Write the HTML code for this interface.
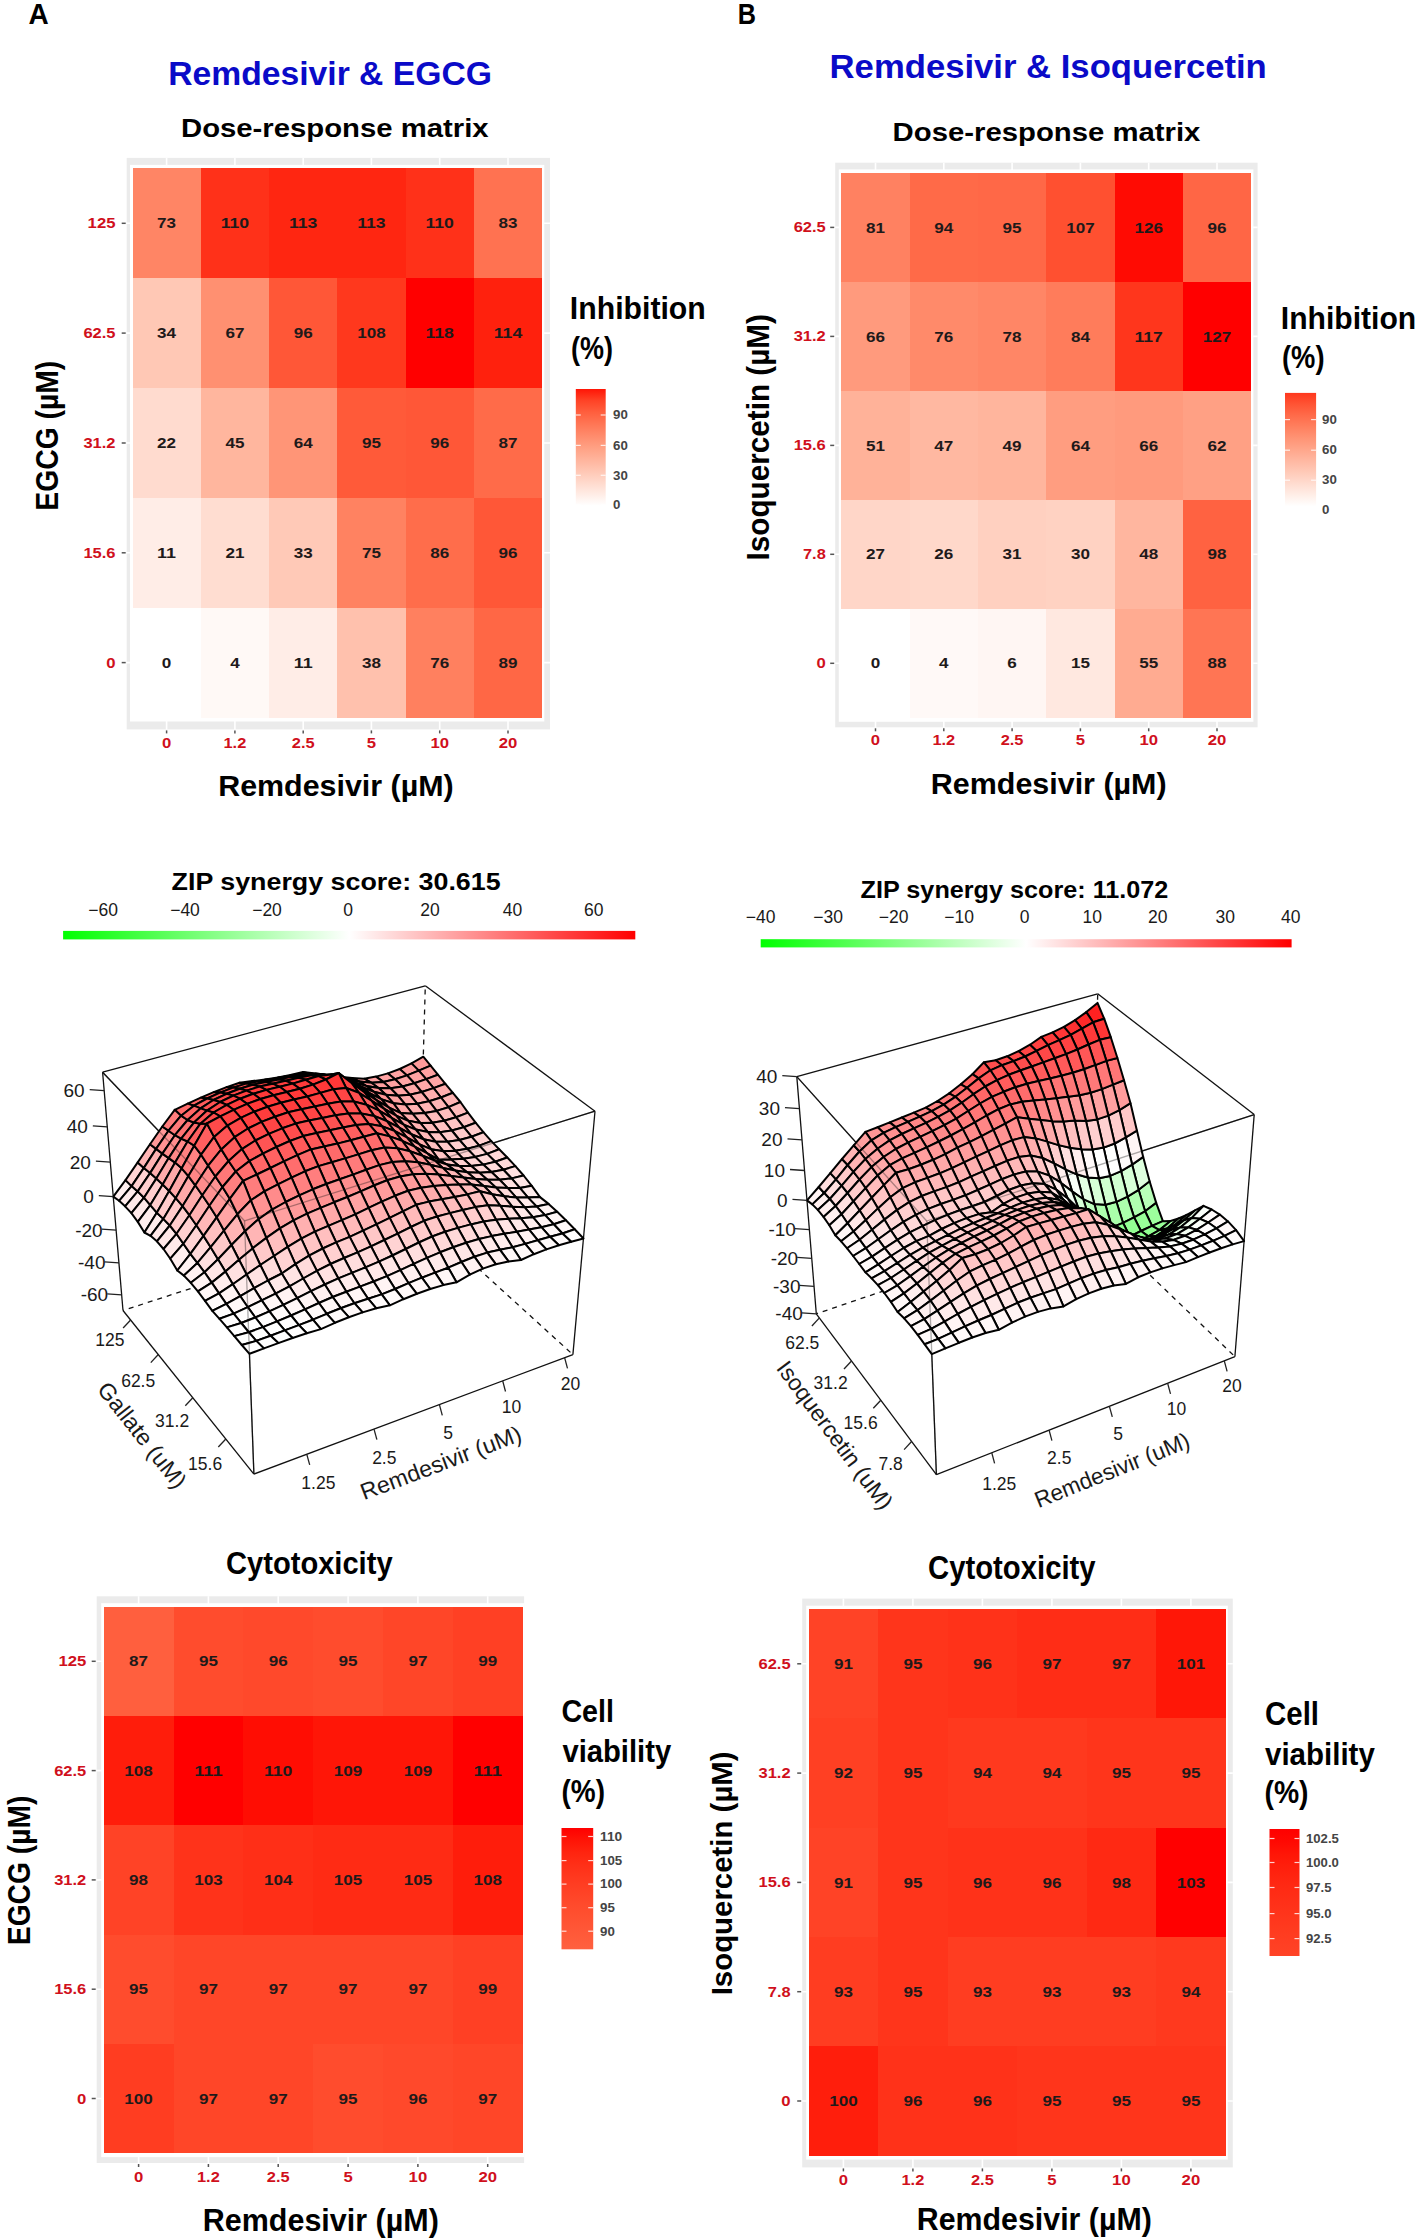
<!DOCTYPE html>
<html><head><meta charset="utf-8"><style>
html,body{margin:0;padding:0;background:#fff;overflow:hidden;width:1417px;height:2240px;}
svg{display:block;font-family:"Liberation Sans",sans-serif;}
</style></head><body>
<svg width="1417" height="2240" viewBox="0 0 1417 2240">
<rect width="1417" height="2240" fill="#fff"/>
<text x="28.4" y="24.1" font-size="30.23" font-weight="bold" fill="#000" textLength="20.2" lengthAdjust="spacingAndGlyphs" >A</text>
<text x="168.2" y="84.5" font-size="33.14" font-weight="bold" fill="#0a0ac8" textLength="323.8" lengthAdjust="spacingAndGlyphs" >Remdesivir &amp; EGCG</text>
<text x="181.0" y="136.8" font-size="25.87" font-weight="bold" fill="#000" textLength="307.6" lengthAdjust="spacingAndGlyphs" >Dose-response matrix</text>
<rect x="126.7" y="157.9" width="423.3" height="571.5" fill="#ebebeb"/>
<rect x="130.0" y="164.9" width="414.3" height="556.6" fill="#fff"/>
<line x1="166.6" y1="157.9" x2="166.6" y2="729.4" stroke="#fff" stroke-width="1.6"/>
<line x1="234.9" y1="157.9" x2="234.9" y2="729.4" stroke="#fff" stroke-width="1.6"/>
<line x1="303.2" y1="157.9" x2="303.2" y2="729.4" stroke="#fff" stroke-width="1.6"/>
<line x1="371.4" y1="157.9" x2="371.4" y2="729.4" stroke="#fff" stroke-width="1.6"/>
<line x1="439.7" y1="157.9" x2="439.7" y2="729.4" stroke="#fff" stroke-width="1.6"/>
<line x1="508.0" y1="157.9" x2="508.0" y2="729.4" stroke="#fff" stroke-width="1.6"/>
<line x1="126.7" y1="223.3" x2="550" y2="223.3" stroke="#fff" stroke-width="1.6"/>
<line x1="126.7" y1="333.1" x2="550" y2="333.1" stroke="#fff" stroke-width="1.6"/>
<line x1="126.7" y1="443.0" x2="550" y2="443.0" stroke="#fff" stroke-width="1.6"/>
<line x1="126.7" y1="552.8" x2="550" y2="552.8" stroke="#fff" stroke-width="1.6"/>
<line x1="126.7" y1="662.6" x2="550" y2="662.6" stroke="#fff" stroke-width="1.6"/>
<rect x="132.50" y="168.40" width="69.07" height="110.62" fill="#ff8565" shape-rendering="crispEdges"/>
<rect x="200.77" y="168.40" width="69.07" height="110.62" fill="#ff3119" shape-rendering="crispEdges"/>
<rect x="269.03" y="168.40" width="69.07" height="110.62" fill="#ff2611" shape-rendering="crispEdges"/>
<rect x="337.30" y="168.40" width="69.07" height="110.62" fill="#ff2611" shape-rendering="crispEdges"/>
<rect x="405.57" y="168.40" width="69.07" height="110.62" fill="#ff3119" shape-rendering="crispEdges"/>
<rect x="473.83" y="168.40" width="68.27" height="110.62" fill="#ff7251" shape-rendering="crispEdges"/>
<rect x="132.50" y="278.22" width="69.07" height="110.62" fill="#ffc8b5" shape-rendering="crispEdges"/>
<rect x="200.77" y="278.22" width="69.07" height="110.62" fill="#ff9071" shape-rendering="crispEdges"/>
<rect x="269.03" y="278.22" width="69.07" height="110.62" fill="#ff5737" shape-rendering="crispEdges"/>
<rect x="337.30" y="278.22" width="69.07" height="110.62" fill="#ff381d" shape-rendering="crispEdges"/>
<rect x="405.57" y="278.22" width="69.07" height="110.62" fill="#ff0000" shape-rendering="crispEdges"/>
<rect x="473.83" y="278.22" width="68.27" height="110.62" fill="#ff210d" shape-rendering="crispEdges"/>
<rect x="132.50" y="388.04" width="69.07" height="110.62" fill="#ffdbcf" shape-rendering="crispEdges"/>
<rect x="200.77" y="388.04" width="69.07" height="110.62" fill="#ffb69e" shape-rendering="crispEdges"/>
<rect x="269.03" y="388.04" width="69.07" height="110.62" fill="#ff9577" shape-rendering="crispEdges"/>
<rect x="337.30" y="388.04" width="69.07" height="110.62" fill="#ff5a39" shape-rendering="crispEdges"/>
<rect x="405.57" y="388.04" width="69.07" height="110.62" fill="#ff5737" shape-rendering="crispEdges"/>
<rect x="473.83" y="388.04" width="68.27" height="110.62" fill="#ff6b49" shape-rendering="crispEdges"/>
<rect x="132.50" y="497.86" width="69.07" height="110.62" fill="#ffede7" shape-rendering="crispEdges"/>
<rect x="200.77" y="497.86" width="69.07" height="110.62" fill="#ffddd1" shape-rendering="crispEdges"/>
<rect x="269.03" y="497.86" width="69.07" height="110.62" fill="#ffc9b7" shape-rendering="crispEdges"/>
<rect x="337.30" y="497.86" width="69.07" height="110.62" fill="#ff8261" shape-rendering="crispEdges"/>
<rect x="405.57" y="497.86" width="69.07" height="110.62" fill="#ff6d4b" shape-rendering="crispEdges"/>
<rect x="473.83" y="497.86" width="68.27" height="110.62" fill="#ff5737" shape-rendering="crispEdges"/>
<rect x="132.50" y="607.68" width="69.07" height="109.82" fill="#ffffff" shape-rendering="crispEdges"/>
<rect x="200.77" y="607.68" width="69.07" height="109.82" fill="#fff9f6" shape-rendering="crispEdges"/>
<rect x="269.03" y="607.68" width="69.07" height="109.82" fill="#ffede7" shape-rendering="crispEdges"/>
<rect x="337.30" y="607.68" width="69.07" height="109.82" fill="#ffc1ad" shape-rendering="crispEdges"/>
<rect x="405.57" y="607.68" width="69.07" height="109.82" fill="#ff805f" shape-rendering="crispEdges"/>
<rect x="473.83" y="607.68" width="68.27" height="109.82" fill="#ff6745" shape-rendering="crispEdges"/>
<text x="166.6" y="228.4" font-size="14.83" font-weight="bold" fill="#1e1a1a" text-anchor="middle" textLength="19.0" lengthAdjust="spacingAndGlyphs">73</text>
<text x="234.9" y="228.4" font-size="14.83" font-weight="bold" fill="#1e1a1a" text-anchor="middle" textLength="28.5" lengthAdjust="spacingAndGlyphs">110</text>
<text x="303.2" y="228.4" font-size="14.83" font-weight="bold" fill="#1e1a1a" text-anchor="middle" textLength="28.5" lengthAdjust="spacingAndGlyphs">113</text>
<text x="371.4" y="228.4" font-size="14.83" font-weight="bold" fill="#1e1a1a" text-anchor="middle" textLength="28.5" lengthAdjust="spacingAndGlyphs">113</text>
<text x="439.7" y="228.4" font-size="14.83" font-weight="bold" fill="#1e1a1a" text-anchor="middle" textLength="28.5" lengthAdjust="spacingAndGlyphs">110</text>
<text x="508.0" y="228.4" font-size="14.83" font-weight="bold" fill="#1e1a1a" text-anchor="middle" textLength="19.0" lengthAdjust="spacingAndGlyphs">83</text>
<text x="166.6" y="338.2" font-size="14.83" font-weight="bold" fill="#1e1a1a" text-anchor="middle" textLength="19.0" lengthAdjust="spacingAndGlyphs">34</text>
<text x="234.9" y="338.2" font-size="14.83" font-weight="bold" fill="#1e1a1a" text-anchor="middle" textLength="19.0" lengthAdjust="spacingAndGlyphs">67</text>
<text x="303.2" y="338.2" font-size="14.83" font-weight="bold" fill="#1e1a1a" text-anchor="middle" textLength="19.0" lengthAdjust="spacingAndGlyphs">96</text>
<text x="371.4" y="338.2" font-size="14.83" font-weight="bold" fill="#1e1a1a" text-anchor="middle" textLength="28.5" lengthAdjust="spacingAndGlyphs">108</text>
<text x="439.7" y="338.2" font-size="14.83" font-weight="bold" fill="#1e1a1a" text-anchor="middle" textLength="28.5" lengthAdjust="spacingAndGlyphs">118</text>
<text x="508.0" y="338.2" font-size="14.83" font-weight="bold" fill="#1e1a1a" text-anchor="middle" textLength="28.5" lengthAdjust="spacingAndGlyphs">114</text>
<text x="166.6" y="448.1" font-size="14.83" font-weight="bold" fill="#1e1a1a" text-anchor="middle" textLength="19.0" lengthAdjust="spacingAndGlyphs">22</text>
<text x="234.9" y="448.1" font-size="14.83" font-weight="bold" fill="#1e1a1a" text-anchor="middle" textLength="19.0" lengthAdjust="spacingAndGlyphs">45</text>
<text x="303.2" y="448.1" font-size="14.83" font-weight="bold" fill="#1e1a1a" text-anchor="middle" textLength="19.0" lengthAdjust="spacingAndGlyphs">64</text>
<text x="371.4" y="448.1" font-size="14.83" font-weight="bold" fill="#1e1a1a" text-anchor="middle" textLength="19.0" lengthAdjust="spacingAndGlyphs">95</text>
<text x="439.7" y="448.1" font-size="14.83" font-weight="bold" fill="#1e1a1a" text-anchor="middle" textLength="19.0" lengthAdjust="spacingAndGlyphs">96</text>
<text x="508.0" y="448.1" font-size="14.83" font-weight="bold" fill="#1e1a1a" text-anchor="middle" textLength="19.0" lengthAdjust="spacingAndGlyphs">87</text>
<text x="166.6" y="557.9" font-size="14.83" font-weight="bold" fill="#1e1a1a" text-anchor="middle" textLength="19.0" lengthAdjust="spacingAndGlyphs">11</text>
<text x="234.9" y="557.9" font-size="14.83" font-weight="bold" fill="#1e1a1a" text-anchor="middle" textLength="19.0" lengthAdjust="spacingAndGlyphs">21</text>
<text x="303.2" y="557.9" font-size="14.83" font-weight="bold" fill="#1e1a1a" text-anchor="middle" textLength="19.0" lengthAdjust="spacingAndGlyphs">33</text>
<text x="371.4" y="557.9" font-size="14.83" font-weight="bold" fill="#1e1a1a" text-anchor="middle" textLength="19.0" lengthAdjust="spacingAndGlyphs">75</text>
<text x="439.7" y="557.9" font-size="14.83" font-weight="bold" fill="#1e1a1a" text-anchor="middle" textLength="19.0" lengthAdjust="spacingAndGlyphs">86</text>
<text x="508.0" y="557.9" font-size="14.83" font-weight="bold" fill="#1e1a1a" text-anchor="middle" textLength="19.0" lengthAdjust="spacingAndGlyphs">96</text>
<text x="166.6" y="667.7" font-size="14.83" font-weight="bold" fill="#1e1a1a" text-anchor="middle" textLength="9.5" lengthAdjust="spacingAndGlyphs">0</text>
<text x="234.9" y="667.7" font-size="14.83" font-weight="bold" fill="#1e1a1a" text-anchor="middle" textLength="9.5" lengthAdjust="spacingAndGlyphs">4</text>
<text x="303.2" y="667.7" font-size="14.83" font-weight="bold" fill="#1e1a1a" text-anchor="middle" textLength="19.0" lengthAdjust="spacingAndGlyphs">11</text>
<text x="371.4" y="667.7" font-size="14.83" font-weight="bold" fill="#1e1a1a" text-anchor="middle" textLength="19.0" lengthAdjust="spacingAndGlyphs">38</text>
<text x="439.7" y="667.7" font-size="14.83" font-weight="bold" fill="#1e1a1a" text-anchor="middle" textLength="19.0" lengthAdjust="spacingAndGlyphs">76</text>
<text x="508.0" y="667.7" font-size="14.83" font-weight="bold" fill="#1e1a1a" text-anchor="middle" textLength="19.0" lengthAdjust="spacingAndGlyphs">89</text>
<text x="115.5" y="228.3" font-size="14.54" font-weight="bold" fill="#d0101c" text-anchor="end" textLength="27.9" lengthAdjust="spacingAndGlyphs">125</text>
<line x1="121.7" y1="223.3" x2="125.7" y2="223.3" stroke="#555" stroke-width="1.5"/>
<text x="115.5" y="338.1" font-size="14.54" font-weight="bold" fill="#d0101c" text-anchor="end" textLength="32.1" lengthAdjust="spacingAndGlyphs">62.5</text>
<line x1="121.7" y1="333.1" x2="125.7" y2="333.1" stroke="#555" stroke-width="1.5"/>
<text x="115.5" y="448.0" font-size="14.54" font-weight="bold" fill="#d0101c" text-anchor="end" textLength="32.1" lengthAdjust="spacingAndGlyphs">31.2</text>
<line x1="121.7" y1="443.0" x2="125.7" y2="443.0" stroke="#555" stroke-width="1.5"/>
<text x="115.5" y="557.8" font-size="14.54" font-weight="bold" fill="#d0101c" text-anchor="end" textLength="32.1" lengthAdjust="spacingAndGlyphs">15.6</text>
<line x1="121.7" y1="552.8" x2="125.7" y2="552.8" stroke="#555" stroke-width="1.5"/>
<text x="115.5" y="667.6" font-size="14.54" font-weight="bold" fill="#d0101c" text-anchor="end" textLength="9.3" lengthAdjust="spacingAndGlyphs">0</text>
<line x1="121.7" y1="662.6" x2="125.7" y2="662.6" stroke="#555" stroke-width="1.5"/>
<text x="166.6" y="747.8" font-size="14.54" font-weight="bold" fill="#d0101c" text-anchor="middle" textLength="9.3" lengthAdjust="spacingAndGlyphs">0</text>
<line x1="166.6" y1="730.4" x2="166.6" y2="733.4" stroke="#555" stroke-width="1.5"/>
<text x="234.9" y="747.8" font-size="14.54" font-weight="bold" fill="#d0101c" text-anchor="middle" textLength="22.8" lengthAdjust="spacingAndGlyphs">1.2</text>
<line x1="234.9" y1="730.4" x2="234.9" y2="733.4" stroke="#555" stroke-width="1.5"/>
<text x="303.2" y="747.8" font-size="14.54" font-weight="bold" fill="#d0101c" text-anchor="middle" textLength="22.8" lengthAdjust="spacingAndGlyphs">2.5</text>
<line x1="303.2" y1="730.4" x2="303.2" y2="733.4" stroke="#555" stroke-width="1.5"/>
<text x="371.4" y="747.8" font-size="14.54" font-weight="bold" fill="#d0101c" text-anchor="middle" textLength="9.3" lengthAdjust="spacingAndGlyphs">5</text>
<line x1="371.4" y1="730.4" x2="371.4" y2="733.4" stroke="#555" stroke-width="1.5"/>
<text x="439.7" y="747.8" font-size="14.54" font-weight="bold" fill="#d0101c" text-anchor="middle" textLength="18.6" lengthAdjust="spacingAndGlyphs">10</text>
<line x1="439.7" y1="730.4" x2="439.7" y2="733.4" stroke="#555" stroke-width="1.5"/>
<text x="508.0" y="747.8" font-size="14.54" font-weight="bold" fill="#d0101c" text-anchor="middle" textLength="18.6" lengthAdjust="spacingAndGlyphs">20</text>
<line x1="508.0" y1="730.4" x2="508.0" y2="733.4" stroke="#555" stroke-width="1.5"/>
<text x="218.2" y="795.6" font-size="29.94" font-weight="bold" fill="#000" textLength="235.4" lengthAdjust="spacingAndGlyphs" >Remdesivir (µM)</text>
<text x="0" y="0" font-size="31.98" font-weight="bold" fill="#000" textLength="150.0" lengthAdjust="spacingAndGlyphs" transform="translate(57.5,510.7) rotate(-90)">EGCG (µM)</text>
<text x="569.8" y="319.0" font-size="31.98" font-weight="bold" fill="#000" textLength="136.0" lengthAdjust="spacingAndGlyphs" >Inhibition</text>
<text x="571.0" y="358.5" font-size="31.98" font-weight="bold" fill="#000" textLength="42.0" lengthAdjust="spacingAndGlyphs" >(%)</text>
<defs><linearGradient id="g102" x1="0" y1="0" x2="0" y2="1"><stop offset="0.00" stop-color="#ff1506"/><stop offset="0.10" stop-color="#ff4326"/><stop offset="0.20" stop-color="#ff5f3e"/><stop offset="0.30" stop-color="#ff7655"/><stop offset="0.40" stop-color="#ff8b6c"/><stop offset="0.50" stop-color="#ffa083"/><stop offset="0.60" stop-color="#ffb39b"/><stop offset="0.70" stop-color="#ffc6b3"/><stop offset="0.80" stop-color="#ffd9cc"/><stop offset="0.90" stop-color="#ffece5"/><stop offset="1.00" stop-color="#ffffff"/></linearGradient></defs>
<rect x="575.8" y="389" width="29.9" height="116.8" fill="url(#g102)"/>
<line x1="575.8" y1="415.0" x2="580.8" y2="415.0" stroke="#fff" stroke-width="1.2" opacity="0.8"/>
<line x1="600.7" y1="415.0" x2="605.7" y2="415.0" stroke="#fff" stroke-width="1.2" opacity="0.8"/>
<text x="613.0" y="419.2" font-size="12.35" font-weight="bold" fill="#444" textLength="14.8" lengthAdjust="spacingAndGlyphs">90</text>
<line x1="575.8" y1="445.4" x2="580.8" y2="445.4" stroke="#fff" stroke-width="1.2" opacity="0.8"/>
<line x1="600.7" y1="445.4" x2="605.7" y2="445.4" stroke="#fff" stroke-width="1.2" opacity="0.8"/>
<text x="613.0" y="449.6" font-size="12.35" font-weight="bold" fill="#444" textLength="14.8" lengthAdjust="spacingAndGlyphs">60</text>
<line x1="575.8" y1="475.3" x2="580.8" y2="475.3" stroke="#fff" stroke-width="1.2" opacity="0.8"/>
<line x1="600.7" y1="475.3" x2="605.7" y2="475.3" stroke="#fff" stroke-width="1.2" opacity="0.8"/>
<text x="613.0" y="479.6" font-size="12.35" font-weight="bold" fill="#444" textLength="14.8" lengthAdjust="spacingAndGlyphs">30</text>
<line x1="575.8" y1="504.7" x2="580.8" y2="504.7" stroke="#fff" stroke-width="1.2" opacity="0.8"/>
<line x1="600.7" y1="504.7" x2="605.7" y2="504.7" stroke="#fff" stroke-width="1.2" opacity="0.8"/>
<text x="613.0" y="508.9" font-size="12.35" font-weight="bold" fill="#444" textLength="7.4" lengthAdjust="spacingAndGlyphs">0</text>
<text x="226.0" y="1574.0" font-size="31.25" font-weight="bold" fill="#000" textLength="166.6" lengthAdjust="spacingAndGlyphs" >Cytotoxicity</text>
<rect x="96.7" y="1596.3" width="427.4" height="566.7" fill="#ebebeb"/>
<rect x="101.2" y="1603.2" width="422.9" height="553.9" fill="#fff"/>
<line x1="138.6" y1="1596.3" x2="138.6" y2="2163" stroke="#fff" stroke-width="1.6"/>
<line x1="208.4" y1="1596.3" x2="208.4" y2="2163" stroke="#fff" stroke-width="1.6"/>
<line x1="278.2" y1="1596.3" x2="278.2" y2="2163" stroke="#fff" stroke-width="1.6"/>
<line x1="348.1" y1="1596.3" x2="348.1" y2="2163" stroke="#fff" stroke-width="1.6"/>
<line x1="417.9" y1="1596.3" x2="417.9" y2="2163" stroke="#fff" stroke-width="1.6"/>
<line x1="487.7" y1="1596.3" x2="487.7" y2="2163" stroke="#fff" stroke-width="1.6"/>
<line x1="96.7" y1="1661.3" x2="524.1" y2="1661.3" stroke="#fff" stroke-width="1.6"/>
<line x1="96.7" y1="1770.6" x2="524.1" y2="1770.6" stroke="#fff" stroke-width="1.6"/>
<line x1="96.7" y1="1879.9" x2="524.1" y2="1879.9" stroke="#fff" stroke-width="1.6"/>
<line x1="96.7" y1="1989.2" x2="524.1" y2="1989.2" stroke="#fff" stroke-width="1.6"/>
<line x1="96.7" y1="2098.5" x2="524.1" y2="2098.5" stroke="#fff" stroke-width="1.6"/>
<rect x="103.70" y="1606.70" width="70.62" height="110.08" fill="#ff5f3e" shape-rendering="crispEdges"/>
<rect x="173.52" y="1606.70" width="70.62" height="110.08" fill="#ff4c2d" shape-rendering="crispEdges"/>
<rect x="243.33" y="1606.70" width="70.62" height="110.08" fill="#ff492b" shape-rendering="crispEdges"/>
<rect x="313.15" y="1606.70" width="70.62" height="110.08" fill="#ff4c2d" shape-rendering="crispEdges"/>
<rect x="382.97" y="1606.70" width="70.62" height="110.08" fill="#ff4628" shape-rendering="crispEdges"/>
<rect x="452.78" y="1606.70" width="69.82" height="110.08" fill="#ff4024" shape-rendering="crispEdges"/>
<rect x="103.70" y="1715.98" width="70.62" height="110.08" fill="#ff1d0b" shape-rendering="crispEdges"/>
<rect x="173.52" y="1715.98" width="70.62" height="110.08" fill="#ff0000" shape-rendering="crispEdges"/>
<rect x="243.33" y="1715.98" width="70.62" height="110.08" fill="#ff0d03" shape-rendering="crispEdges"/>
<rect x="313.15" y="1715.98" width="70.62" height="110.08" fill="#ff1607" shape-rendering="crispEdges"/>
<rect x="382.97" y="1715.98" width="70.62" height="110.08" fill="#ff1607" shape-rendering="crispEdges"/>
<rect x="452.78" y="1715.98" width="69.82" height="110.08" fill="#ff0000" shape-rendering="crispEdges"/>
<rect x="103.70" y="1825.26" width="70.62" height="110.08" fill="#ff4326" shape-rendering="crispEdges"/>
<rect x="173.52" y="1825.26" width="70.62" height="110.08" fill="#ff331a" shape-rendering="crispEdges"/>
<rect x="243.33" y="1825.26" width="70.62" height="110.08" fill="#ff2f17" shape-rendering="crispEdges"/>
<rect x="313.15" y="1825.26" width="70.62" height="110.08" fill="#ff2b14" shape-rendering="crispEdges"/>
<rect x="382.97" y="1825.26" width="70.62" height="110.08" fill="#ff2b14" shape-rendering="crispEdges"/>
<rect x="452.78" y="1825.26" width="69.82" height="110.08" fill="#ff1d0b" shape-rendering="crispEdges"/>
<rect x="103.70" y="1934.54" width="70.62" height="110.08" fill="#ff4c2d" shape-rendering="crispEdges"/>
<rect x="173.52" y="1934.54" width="70.62" height="110.08" fill="#ff4628" shape-rendering="crispEdges"/>
<rect x="243.33" y="1934.54" width="70.62" height="110.08" fill="#ff4628" shape-rendering="crispEdges"/>
<rect x="313.15" y="1934.54" width="70.62" height="110.08" fill="#ff4628" shape-rendering="crispEdges"/>
<rect x="382.97" y="1934.54" width="70.62" height="110.08" fill="#ff4628" shape-rendering="crispEdges"/>
<rect x="452.78" y="1934.54" width="69.82" height="110.08" fill="#ff4024" shape-rendering="crispEdges"/>
<rect x="103.70" y="2043.82" width="70.62" height="109.28" fill="#ff3d21" shape-rendering="crispEdges"/>
<rect x="173.52" y="2043.82" width="70.62" height="109.28" fill="#ff4628" shape-rendering="crispEdges"/>
<rect x="243.33" y="2043.82" width="70.62" height="109.28" fill="#ff4628" shape-rendering="crispEdges"/>
<rect x="313.15" y="2043.82" width="70.62" height="109.28" fill="#ff4c2d" shape-rendering="crispEdges"/>
<rect x="382.97" y="2043.82" width="70.62" height="109.28" fill="#ff492b" shape-rendering="crispEdges"/>
<rect x="452.78" y="2043.82" width="69.82" height="109.28" fill="#ff4628" shape-rendering="crispEdges"/>
<text x="138.6" y="1666.4" font-size="14.83" font-weight="bold" fill="#1e1a1a" text-anchor="middle" textLength="19.0" lengthAdjust="spacingAndGlyphs">87</text>
<text x="208.4" y="1666.4" font-size="14.83" font-weight="bold" fill="#1e1a1a" text-anchor="middle" textLength="19.0" lengthAdjust="spacingAndGlyphs">95</text>
<text x="278.2" y="1666.4" font-size="14.83" font-weight="bold" fill="#1e1a1a" text-anchor="middle" textLength="19.0" lengthAdjust="spacingAndGlyphs">96</text>
<text x="348.1" y="1666.4" font-size="14.83" font-weight="bold" fill="#1e1a1a" text-anchor="middle" textLength="19.0" lengthAdjust="spacingAndGlyphs">95</text>
<text x="417.9" y="1666.4" font-size="14.83" font-weight="bold" fill="#1e1a1a" text-anchor="middle" textLength="19.0" lengthAdjust="spacingAndGlyphs">97</text>
<text x="487.7" y="1666.4" font-size="14.83" font-weight="bold" fill="#1e1a1a" text-anchor="middle" textLength="19.0" lengthAdjust="spacingAndGlyphs">99</text>
<text x="138.6" y="1775.7" font-size="14.83" font-weight="bold" fill="#1e1a1a" text-anchor="middle" textLength="28.5" lengthAdjust="spacingAndGlyphs">108</text>
<text x="208.4" y="1775.7" font-size="14.83" font-weight="bold" fill="#1e1a1a" text-anchor="middle" textLength="28.5" lengthAdjust="spacingAndGlyphs">111</text>
<text x="278.2" y="1775.7" font-size="14.83" font-weight="bold" fill="#1e1a1a" text-anchor="middle" textLength="28.5" lengthAdjust="spacingAndGlyphs">110</text>
<text x="348.1" y="1775.7" font-size="14.83" font-weight="bold" fill="#1e1a1a" text-anchor="middle" textLength="28.5" lengthAdjust="spacingAndGlyphs">109</text>
<text x="417.9" y="1775.7" font-size="14.83" font-weight="bold" fill="#1e1a1a" text-anchor="middle" textLength="28.5" lengthAdjust="spacingAndGlyphs">109</text>
<text x="487.7" y="1775.7" font-size="14.83" font-weight="bold" fill="#1e1a1a" text-anchor="middle" textLength="28.5" lengthAdjust="spacingAndGlyphs">111</text>
<text x="138.6" y="1885.0" font-size="14.83" font-weight="bold" fill="#1e1a1a" text-anchor="middle" textLength="19.0" lengthAdjust="spacingAndGlyphs">98</text>
<text x="208.4" y="1885.0" font-size="14.83" font-weight="bold" fill="#1e1a1a" text-anchor="middle" textLength="28.5" lengthAdjust="spacingAndGlyphs">103</text>
<text x="278.2" y="1885.0" font-size="14.83" font-weight="bold" fill="#1e1a1a" text-anchor="middle" textLength="28.5" lengthAdjust="spacingAndGlyphs">104</text>
<text x="348.1" y="1885.0" font-size="14.83" font-weight="bold" fill="#1e1a1a" text-anchor="middle" textLength="28.5" lengthAdjust="spacingAndGlyphs">105</text>
<text x="417.9" y="1885.0" font-size="14.83" font-weight="bold" fill="#1e1a1a" text-anchor="middle" textLength="28.5" lengthAdjust="spacingAndGlyphs">105</text>
<text x="487.7" y="1885.0" font-size="14.83" font-weight="bold" fill="#1e1a1a" text-anchor="middle" textLength="28.5" lengthAdjust="spacingAndGlyphs">108</text>
<text x="138.6" y="1994.3" font-size="14.83" font-weight="bold" fill="#1e1a1a" text-anchor="middle" textLength="19.0" lengthAdjust="spacingAndGlyphs">95</text>
<text x="208.4" y="1994.3" font-size="14.83" font-weight="bold" fill="#1e1a1a" text-anchor="middle" textLength="19.0" lengthAdjust="spacingAndGlyphs">97</text>
<text x="278.2" y="1994.3" font-size="14.83" font-weight="bold" fill="#1e1a1a" text-anchor="middle" textLength="19.0" lengthAdjust="spacingAndGlyphs">97</text>
<text x="348.1" y="1994.3" font-size="14.83" font-weight="bold" fill="#1e1a1a" text-anchor="middle" textLength="19.0" lengthAdjust="spacingAndGlyphs">97</text>
<text x="417.9" y="1994.3" font-size="14.83" font-weight="bold" fill="#1e1a1a" text-anchor="middle" textLength="19.0" lengthAdjust="spacingAndGlyphs">97</text>
<text x="487.7" y="1994.3" font-size="14.83" font-weight="bold" fill="#1e1a1a" text-anchor="middle" textLength="19.0" lengthAdjust="spacingAndGlyphs">99</text>
<text x="138.6" y="2103.6" font-size="14.83" font-weight="bold" fill="#1e1a1a" text-anchor="middle" textLength="28.5" lengthAdjust="spacingAndGlyphs">100</text>
<text x="208.4" y="2103.6" font-size="14.83" font-weight="bold" fill="#1e1a1a" text-anchor="middle" textLength="19.0" lengthAdjust="spacingAndGlyphs">97</text>
<text x="278.2" y="2103.6" font-size="14.83" font-weight="bold" fill="#1e1a1a" text-anchor="middle" textLength="19.0" lengthAdjust="spacingAndGlyphs">97</text>
<text x="348.1" y="2103.6" font-size="14.83" font-weight="bold" fill="#1e1a1a" text-anchor="middle" textLength="19.0" lengthAdjust="spacingAndGlyphs">95</text>
<text x="417.9" y="2103.6" font-size="14.83" font-weight="bold" fill="#1e1a1a" text-anchor="middle" textLength="19.0" lengthAdjust="spacingAndGlyphs">96</text>
<text x="487.7" y="2103.6" font-size="14.83" font-weight="bold" fill="#1e1a1a" text-anchor="middle" textLength="19.0" lengthAdjust="spacingAndGlyphs">97</text>
<text x="86.3" y="1666.3" font-size="14.54" font-weight="bold" fill="#d0101c" text-anchor="end" textLength="27.9" lengthAdjust="spacingAndGlyphs">125</text>
<line x1="91.7" y1="1661.3" x2="95.7" y2="1661.3" stroke="#555" stroke-width="1.5"/>
<text x="86.3" y="1775.6" font-size="14.54" font-weight="bold" fill="#d0101c" text-anchor="end" textLength="32.1" lengthAdjust="spacingAndGlyphs">62.5</text>
<line x1="91.7" y1="1770.6" x2="95.7" y2="1770.6" stroke="#555" stroke-width="1.5"/>
<text x="86.3" y="1884.9" font-size="14.54" font-weight="bold" fill="#d0101c" text-anchor="end" textLength="32.1" lengthAdjust="spacingAndGlyphs">31.2</text>
<line x1="91.7" y1="1879.9" x2="95.7" y2="1879.9" stroke="#555" stroke-width="1.5"/>
<text x="86.3" y="1994.2" font-size="14.54" font-weight="bold" fill="#d0101c" text-anchor="end" textLength="32.1" lengthAdjust="spacingAndGlyphs">15.6</text>
<line x1="91.7" y1="1989.2" x2="95.7" y2="1989.2" stroke="#555" stroke-width="1.5"/>
<text x="86.3" y="2103.5" font-size="14.54" font-weight="bold" fill="#d0101c" text-anchor="end" textLength="9.3" lengthAdjust="spacingAndGlyphs">0</text>
<line x1="91.7" y1="2098.5" x2="95.7" y2="2098.5" stroke="#555" stroke-width="1.5"/>
<text x="138.6" y="2181.7" font-size="14.54" font-weight="bold" fill="#d0101c" text-anchor="middle" textLength="9.3" lengthAdjust="spacingAndGlyphs">0</text>
<line x1="138.6" y1="2164.0" x2="138.6" y2="2167.0" stroke="#555" stroke-width="1.5"/>
<text x="208.4" y="2181.7" font-size="14.54" font-weight="bold" fill="#d0101c" text-anchor="middle" textLength="22.8" lengthAdjust="spacingAndGlyphs">1.2</text>
<line x1="208.4" y1="2164.0" x2="208.4" y2="2167.0" stroke="#555" stroke-width="1.5"/>
<text x="278.2" y="2181.7" font-size="14.54" font-weight="bold" fill="#d0101c" text-anchor="middle" textLength="22.8" lengthAdjust="spacingAndGlyphs">2.5</text>
<line x1="278.2" y1="2164.0" x2="278.2" y2="2167.0" stroke="#555" stroke-width="1.5"/>
<text x="348.1" y="2181.7" font-size="14.54" font-weight="bold" fill="#d0101c" text-anchor="middle" textLength="9.3" lengthAdjust="spacingAndGlyphs">5</text>
<line x1="348.1" y1="2164.0" x2="348.1" y2="2167.0" stroke="#555" stroke-width="1.5"/>
<text x="417.9" y="2181.7" font-size="14.54" font-weight="bold" fill="#d0101c" text-anchor="middle" textLength="18.6" lengthAdjust="spacingAndGlyphs">10</text>
<line x1="417.9" y1="2164.0" x2="417.9" y2="2167.0" stroke="#555" stroke-width="1.5"/>
<text x="487.7" y="2181.7" font-size="14.54" font-weight="bold" fill="#d0101c" text-anchor="middle" textLength="18.6" lengthAdjust="spacingAndGlyphs">20</text>
<line x1="487.7" y1="2164.0" x2="487.7" y2="2167.0" stroke="#555" stroke-width="1.5"/>
<text x="202.8" y="2230.8" font-size="30.67" font-weight="bold" fill="#000" textLength="236.0" lengthAdjust="spacingAndGlyphs" >Remdesivir (µM)</text>
<text x="0" y="0" font-size="31.25" font-weight="bold" fill="#000" textLength="149.6" lengthAdjust="spacingAndGlyphs" transform="translate(29.5,1945.2) rotate(-90)">EGCG (µM)</text>
<text x="561.4" y="1722.0" font-size="31.69" font-weight="bold" fill="#000" textLength="52.6" lengthAdjust="spacingAndGlyphs" >Cell</text>
<text x="562.4" y="1761.7" font-size="30.67" font-weight="bold" fill="#000" textLength="108.8" lengthAdjust="spacingAndGlyphs" >viability</text>
<text x="561.5" y="1801.5" font-size="31.25" font-weight="bold" fill="#000" textLength="43.5" lengthAdjust="spacingAndGlyphs" >(%)</text>
<defs><linearGradient id="g217" x1="0" y1="0" x2="0" y2="1"><stop offset="0.00" stop-color="#ff0000"/><stop offset="0.10" stop-color="#ff1406"/><stop offset="0.20" stop-color="#ff240f"/><stop offset="0.30" stop-color="#ff2f17"/><stop offset="0.40" stop-color="#ff381e"/><stop offset="0.50" stop-color="#ff4024"/><stop offset="0.60" stop-color="#ff482a"/><stop offset="0.70" stop-color="#ff4f2f"/><stop offset="0.80" stop-color="#ff5535"/><stop offset="0.90" stop-color="#ff5b3a"/><stop offset="1.00" stop-color="#ff6140"/></linearGradient></defs>
<rect x="561.5" y="1828" width="31.7" height="121.3" fill="url(#g217)"/>
<line x1="561.5" y1="1836.5" x2="566.5" y2="1836.5" stroke="#fff" stroke-width="1.2" opacity="0.8"/>
<line x1="588.2" y1="1836.5" x2="593.2" y2="1836.5" stroke="#fff" stroke-width="1.2" opacity="0.8"/>
<text x="600.0" y="1840.8" font-size="12.35" font-weight="bold" fill="#444" textLength="22.2" lengthAdjust="spacingAndGlyphs">110</text>
<line x1="561.5" y1="1860.6" x2="566.5" y2="1860.6" stroke="#fff" stroke-width="1.2" opacity="0.8"/>
<line x1="588.2" y1="1860.6" x2="593.2" y2="1860.6" stroke="#fff" stroke-width="1.2" opacity="0.8"/>
<text x="600.0" y="1864.8" font-size="12.35" font-weight="bold" fill="#444" textLength="22.2" lengthAdjust="spacingAndGlyphs">105</text>
<line x1="561.5" y1="1884.1" x2="566.5" y2="1884.1" stroke="#fff" stroke-width="1.2" opacity="0.8"/>
<line x1="588.2" y1="1884.1" x2="593.2" y2="1884.1" stroke="#fff" stroke-width="1.2" opacity="0.8"/>
<text x="600.0" y="1888.3" font-size="12.35" font-weight="bold" fill="#444" textLength="22.2" lengthAdjust="spacingAndGlyphs">100</text>
<line x1="561.5" y1="1907.7" x2="566.5" y2="1907.7" stroke="#fff" stroke-width="1.2" opacity="0.8"/>
<line x1="588.2" y1="1907.7" x2="593.2" y2="1907.7" stroke="#fff" stroke-width="1.2" opacity="0.8"/>
<text x="600.0" y="1912.0" font-size="12.35" font-weight="bold" fill="#444" textLength="14.8" lengthAdjust="spacingAndGlyphs">95</text>
<line x1="561.5" y1="1931.2" x2="566.5" y2="1931.2" stroke="#fff" stroke-width="1.2" opacity="0.8"/>
<line x1="588.2" y1="1931.2" x2="593.2" y2="1931.2" stroke="#fff" stroke-width="1.2" opacity="0.8"/>
<text x="600.0" y="1935.5" font-size="12.35" font-weight="bold" fill="#444" textLength="14.8" lengthAdjust="spacingAndGlyphs">90</text>
<text x="737.8" y="24.1" font-size="30.38" font-weight="bold" fill="#000" textLength="18.2" lengthAdjust="spacingAndGlyphs" >B</text>
<text x="829.6" y="78.3" font-size="32.99" font-weight="bold" fill="#0a0ac8" textLength="437.2" lengthAdjust="spacingAndGlyphs" >Remdesivir &amp; Isoquercetin</text>
<text x="892.6" y="140.6" font-size="25.87" font-weight="bold" fill="#000" textLength="307.8" lengthAdjust="spacingAndGlyphs" >Dose-response matrix</text>
<rect x="835.2" y="162.7" width="422.4" height="564.6" fill="#ebebeb"/>
<rect x="838.8" y="169.4" width="414.6" height="552.4" fill="#fff"/>
<line x1="875.5" y1="162.7" x2="875.5" y2="727.3" stroke="#fff" stroke-width="1.6"/>
<line x1="943.8" y1="162.7" x2="943.8" y2="727.3" stroke="#fff" stroke-width="1.6"/>
<line x1="1012.1" y1="162.7" x2="1012.1" y2="727.3" stroke="#fff" stroke-width="1.6"/>
<line x1="1080.4" y1="162.7" x2="1080.4" y2="727.3" stroke="#fff" stroke-width="1.6"/>
<line x1="1148.7" y1="162.7" x2="1148.7" y2="727.3" stroke="#fff" stroke-width="1.6"/>
<line x1="1217.0" y1="162.7" x2="1217.0" y2="727.3" stroke="#fff" stroke-width="1.6"/>
<line x1="835.2" y1="227.4" x2="1257.6" y2="227.4" stroke="#fff" stroke-width="1.6"/>
<line x1="835.2" y1="336.4" x2="1257.6" y2="336.4" stroke="#fff" stroke-width="1.6"/>
<line x1="835.2" y1="445.4" x2="1257.6" y2="445.4" stroke="#fff" stroke-width="1.6"/>
<line x1="835.2" y1="554.3" x2="1257.6" y2="554.3" stroke="#fff" stroke-width="1.6"/>
<line x1="835.2" y1="663.3" x2="1257.6" y2="663.3" stroke="#fff" stroke-width="1.6"/>
<rect x="841.30" y="172.90" width="69.12" height="109.78" fill="#ff8161" shape-rendering="crispEdges"/>
<rect x="909.62" y="172.90" width="69.12" height="109.78" fill="#ff6a48" shape-rendering="crispEdges"/>
<rect x="977.93" y="172.90" width="69.12" height="109.78" fill="#ff6847" shape-rendering="crispEdges"/>
<rect x="1046.25" y="172.90" width="69.12" height="109.78" fill="#ff5030" shape-rendering="crispEdges"/>
<rect x="1114.57" y="172.90" width="69.12" height="109.78" fill="#ff0b03" shape-rendering="crispEdges"/>
<rect x="1182.88" y="172.90" width="68.32" height="109.78" fill="#ff6645" shape-rendering="crispEdges"/>
<rect x="841.30" y="281.88" width="69.12" height="109.78" fill="#ff9a7d" shape-rendering="crispEdges"/>
<rect x="909.62" y="281.88" width="69.12" height="109.78" fill="#ff8a6a" shape-rendering="crispEdges"/>
<rect x="977.93" y="281.88" width="69.12" height="109.78" fill="#ff8666" shape-rendering="crispEdges"/>
<rect x="1046.25" y="281.88" width="69.12" height="109.78" fill="#ff7c5b" shape-rendering="crispEdges"/>
<rect x="1114.57" y="281.88" width="69.12" height="109.78" fill="#ff361c" shape-rendering="crispEdges"/>
<rect x="1182.88" y="281.88" width="68.32" height="109.78" fill="#ff0000" shape-rendering="crispEdges"/>
<rect x="841.30" y="390.86" width="69.12" height="109.78" fill="#ffb299" shape-rendering="crispEdges"/>
<rect x="909.62" y="390.86" width="69.12" height="109.78" fill="#ffb8a1" shape-rendering="crispEdges"/>
<rect x="977.93" y="390.86" width="69.12" height="109.78" fill="#ffb59d" shape-rendering="crispEdges"/>
<rect x="1046.25" y="390.86" width="69.12" height="109.78" fill="#ff9d80" shape-rendering="crispEdges"/>
<rect x="1114.57" y="390.86" width="69.12" height="109.78" fill="#ff9a7d" shape-rendering="crispEdges"/>
<rect x="1182.88" y="390.86" width="68.32" height="109.78" fill="#ffa084" shape-rendering="crispEdges"/>
<rect x="841.30" y="499.84" width="69.12" height="109.78" fill="#ffd6c8" shape-rendering="crispEdges"/>
<rect x="909.62" y="499.84" width="69.12" height="109.78" fill="#ffd8ca" shape-rendering="crispEdges"/>
<rect x="977.93" y="499.84" width="69.12" height="109.78" fill="#ffd0c0" shape-rendering="crispEdges"/>
<rect x="1046.25" y="499.84" width="69.12" height="109.78" fill="#ffd2c2" shape-rendering="crispEdges"/>
<rect x="1114.57" y="499.84" width="69.12" height="109.78" fill="#ffb69f" shape-rendering="crispEdges"/>
<rect x="1182.88" y="499.84" width="68.32" height="109.78" fill="#ff6241" shape-rendering="crispEdges"/>
<rect x="841.30" y="608.82" width="69.12" height="108.98" fill="#ffffff" shape-rendering="crispEdges"/>
<rect x="909.62" y="608.82" width="69.12" height="108.98" fill="#fff9f7" shape-rendering="crispEdges"/>
<rect x="977.93" y="608.82" width="69.12" height="108.98" fill="#fff6f3" shape-rendering="crispEdges"/>
<rect x="1046.25" y="608.82" width="69.12" height="108.98" fill="#ffe8e0" shape-rendering="crispEdges"/>
<rect x="1114.57" y="608.82" width="69.12" height="108.98" fill="#ffab91" shape-rendering="crispEdges"/>
<rect x="1182.88" y="608.82" width="68.32" height="108.98" fill="#ff7554" shape-rendering="crispEdges"/>
<text x="875.5" y="232.5" font-size="14.83" font-weight="bold" fill="#1e1a1a" text-anchor="middle" textLength="19.0" lengthAdjust="spacingAndGlyphs">81</text>
<text x="943.8" y="232.5" font-size="14.83" font-weight="bold" fill="#1e1a1a" text-anchor="middle" textLength="19.0" lengthAdjust="spacingAndGlyphs">94</text>
<text x="1012.1" y="232.5" font-size="14.83" font-weight="bold" fill="#1e1a1a" text-anchor="middle" textLength="19.0" lengthAdjust="spacingAndGlyphs">95</text>
<text x="1080.4" y="232.5" font-size="14.83" font-weight="bold" fill="#1e1a1a" text-anchor="middle" textLength="28.5" lengthAdjust="spacingAndGlyphs">107</text>
<text x="1148.7" y="232.5" font-size="14.83" font-weight="bold" fill="#1e1a1a" text-anchor="middle" textLength="28.5" lengthAdjust="spacingAndGlyphs">126</text>
<text x="1217.0" y="232.5" font-size="14.83" font-weight="bold" fill="#1e1a1a" text-anchor="middle" textLength="19.0" lengthAdjust="spacingAndGlyphs">96</text>
<text x="875.5" y="341.5" font-size="14.83" font-weight="bold" fill="#1e1a1a" text-anchor="middle" textLength="19.0" lengthAdjust="spacingAndGlyphs">66</text>
<text x="943.8" y="341.5" font-size="14.83" font-weight="bold" fill="#1e1a1a" text-anchor="middle" textLength="19.0" lengthAdjust="spacingAndGlyphs">76</text>
<text x="1012.1" y="341.5" font-size="14.83" font-weight="bold" fill="#1e1a1a" text-anchor="middle" textLength="19.0" lengthAdjust="spacingAndGlyphs">78</text>
<text x="1080.4" y="341.5" font-size="14.83" font-weight="bold" fill="#1e1a1a" text-anchor="middle" textLength="19.0" lengthAdjust="spacingAndGlyphs">84</text>
<text x="1148.7" y="341.5" font-size="14.83" font-weight="bold" fill="#1e1a1a" text-anchor="middle" textLength="28.5" lengthAdjust="spacingAndGlyphs">117</text>
<text x="1217.0" y="341.5" font-size="14.83" font-weight="bold" fill="#1e1a1a" text-anchor="middle" textLength="28.5" lengthAdjust="spacingAndGlyphs">127</text>
<text x="875.5" y="450.5" font-size="14.83" font-weight="bold" fill="#1e1a1a" text-anchor="middle" textLength="19.0" lengthAdjust="spacingAndGlyphs">51</text>
<text x="943.8" y="450.5" font-size="14.83" font-weight="bold" fill="#1e1a1a" text-anchor="middle" textLength="19.0" lengthAdjust="spacingAndGlyphs">47</text>
<text x="1012.1" y="450.5" font-size="14.83" font-weight="bold" fill="#1e1a1a" text-anchor="middle" textLength="19.0" lengthAdjust="spacingAndGlyphs">49</text>
<text x="1080.4" y="450.5" font-size="14.83" font-weight="bold" fill="#1e1a1a" text-anchor="middle" textLength="19.0" lengthAdjust="spacingAndGlyphs">64</text>
<text x="1148.7" y="450.5" font-size="14.83" font-weight="bold" fill="#1e1a1a" text-anchor="middle" textLength="19.0" lengthAdjust="spacingAndGlyphs">66</text>
<text x="1217.0" y="450.5" font-size="14.83" font-weight="bold" fill="#1e1a1a" text-anchor="middle" textLength="19.0" lengthAdjust="spacingAndGlyphs">62</text>
<text x="875.5" y="559.4" font-size="14.83" font-weight="bold" fill="#1e1a1a" text-anchor="middle" textLength="19.0" lengthAdjust="spacingAndGlyphs">27</text>
<text x="943.8" y="559.4" font-size="14.83" font-weight="bold" fill="#1e1a1a" text-anchor="middle" textLength="19.0" lengthAdjust="spacingAndGlyphs">26</text>
<text x="1012.1" y="559.4" font-size="14.83" font-weight="bold" fill="#1e1a1a" text-anchor="middle" textLength="19.0" lengthAdjust="spacingAndGlyphs">31</text>
<text x="1080.4" y="559.4" font-size="14.83" font-weight="bold" fill="#1e1a1a" text-anchor="middle" textLength="19.0" lengthAdjust="spacingAndGlyphs">30</text>
<text x="1148.7" y="559.4" font-size="14.83" font-weight="bold" fill="#1e1a1a" text-anchor="middle" textLength="19.0" lengthAdjust="spacingAndGlyphs">48</text>
<text x="1217.0" y="559.4" font-size="14.83" font-weight="bold" fill="#1e1a1a" text-anchor="middle" textLength="19.0" lengthAdjust="spacingAndGlyphs">98</text>
<text x="875.5" y="668.4" font-size="14.83" font-weight="bold" fill="#1e1a1a" text-anchor="middle" textLength="9.5" lengthAdjust="spacingAndGlyphs">0</text>
<text x="943.8" y="668.4" font-size="14.83" font-weight="bold" fill="#1e1a1a" text-anchor="middle" textLength="9.5" lengthAdjust="spacingAndGlyphs">4</text>
<text x="1012.1" y="668.4" font-size="14.83" font-weight="bold" fill="#1e1a1a" text-anchor="middle" textLength="9.5" lengthAdjust="spacingAndGlyphs">6</text>
<text x="1080.4" y="668.4" font-size="14.83" font-weight="bold" fill="#1e1a1a" text-anchor="middle" textLength="19.0" lengthAdjust="spacingAndGlyphs">15</text>
<text x="1148.7" y="668.4" font-size="14.83" font-weight="bold" fill="#1e1a1a" text-anchor="middle" textLength="19.0" lengthAdjust="spacingAndGlyphs">55</text>
<text x="1217.0" y="668.4" font-size="14.83" font-weight="bold" fill="#1e1a1a" text-anchor="middle" textLength="19.0" lengthAdjust="spacingAndGlyphs">88</text>
<text x="825.8" y="232.4" font-size="14.54" font-weight="bold" fill="#d0101c" text-anchor="end" textLength="32.1" lengthAdjust="spacingAndGlyphs">62.5</text>
<line x1="830.2" y1="227.4" x2="834.2" y2="227.4" stroke="#555" stroke-width="1.5"/>
<text x="825.8" y="341.4" font-size="14.54" font-weight="bold" fill="#d0101c" text-anchor="end" textLength="32.1" lengthAdjust="spacingAndGlyphs">31.2</text>
<line x1="830.2" y1="336.4" x2="834.2" y2="336.4" stroke="#555" stroke-width="1.5"/>
<text x="825.8" y="450.4" font-size="14.54" font-weight="bold" fill="#d0101c" text-anchor="end" textLength="32.1" lengthAdjust="spacingAndGlyphs">15.6</text>
<line x1="830.2" y1="445.4" x2="834.2" y2="445.4" stroke="#555" stroke-width="1.5"/>
<text x="825.8" y="559.3" font-size="14.54" font-weight="bold" fill="#d0101c" text-anchor="end" textLength="22.8" lengthAdjust="spacingAndGlyphs">7.8</text>
<line x1="830.2" y1="554.3" x2="834.2" y2="554.3" stroke="#555" stroke-width="1.5"/>
<text x="825.8" y="668.3" font-size="14.54" font-weight="bold" fill="#d0101c" text-anchor="end" textLength="9.3" lengthAdjust="spacingAndGlyphs">0</text>
<line x1="830.2" y1="663.3" x2="834.2" y2="663.3" stroke="#555" stroke-width="1.5"/>
<text x="875.5" y="745.3" font-size="14.54" font-weight="bold" fill="#d0101c" text-anchor="middle" textLength="9.3" lengthAdjust="spacingAndGlyphs">0</text>
<line x1="875.5" y1="728.3" x2="875.5" y2="731.3" stroke="#555" stroke-width="1.5"/>
<text x="943.8" y="745.3" font-size="14.54" font-weight="bold" fill="#d0101c" text-anchor="middle" textLength="22.8" lengthAdjust="spacingAndGlyphs">1.2</text>
<line x1="943.8" y1="728.3" x2="943.8" y2="731.3" stroke="#555" stroke-width="1.5"/>
<text x="1012.1" y="745.3" font-size="14.54" font-weight="bold" fill="#d0101c" text-anchor="middle" textLength="22.8" lengthAdjust="spacingAndGlyphs">2.5</text>
<line x1="1012.1" y1="728.3" x2="1012.1" y2="731.3" stroke="#555" stroke-width="1.5"/>
<text x="1080.4" y="745.3" font-size="14.54" font-weight="bold" fill="#d0101c" text-anchor="middle" textLength="9.3" lengthAdjust="spacingAndGlyphs">5</text>
<line x1="1080.4" y1="728.3" x2="1080.4" y2="731.3" stroke="#555" stroke-width="1.5"/>
<text x="1148.7" y="745.3" font-size="14.54" font-weight="bold" fill="#d0101c" text-anchor="middle" textLength="18.6" lengthAdjust="spacingAndGlyphs">10</text>
<line x1="1148.7" y1="728.3" x2="1148.7" y2="731.3" stroke="#555" stroke-width="1.5"/>
<text x="1217.0" y="745.3" font-size="14.54" font-weight="bold" fill="#d0101c" text-anchor="middle" textLength="18.6" lengthAdjust="spacingAndGlyphs">20</text>
<line x1="1217.0" y1="728.3" x2="1217.0" y2="731.3" stroke="#555" stroke-width="1.5"/>
<text x="930.8" y="794.4" font-size="29.80" font-weight="bold" fill="#000" textLength="235.8" lengthAdjust="spacingAndGlyphs" >Remdesivir (µM)</text>
<text x="0" y="0" font-size="31.98" font-weight="bold" fill="#000" textLength="246.5" lengthAdjust="spacingAndGlyphs" transform="translate(768.8,560.5) rotate(-90)">Isoquercetin (µM)</text>
<text x="1280.8" y="329.1" font-size="31.98" font-weight="bold" fill="#000" textLength="135.4" lengthAdjust="spacingAndGlyphs" >Inhibition</text>
<text x="1282.0" y="368.0" font-size="31.98" font-weight="bold" fill="#000" textLength="42.5" lengthAdjust="spacingAndGlyphs" >(%)</text>
<defs><linearGradient id="g336" x1="0" y1="0" x2="0" y2="1"><stop offset="0.00" stop-color="#ff371d"/><stop offset="0.10" stop-color="#ff5434"/><stop offset="0.20" stop-color="#ff6b4a"/><stop offset="0.30" stop-color="#ff805f"/><stop offset="0.40" stop-color="#ff9475"/><stop offset="0.50" stop-color="#ffa68b"/><stop offset="0.60" stop-color="#ffb8a2"/><stop offset="0.70" stop-color="#ffcab8"/><stop offset="0.80" stop-color="#ffdcd0"/><stop offset="0.90" stop-color="#ffeee7"/><stop offset="1.00" stop-color="#ffffff"/></linearGradient></defs>
<rect x="1285" y="392.9" width="31.1" height="113.5" fill="url(#g336)"/>
<line x1="1285.0" y1="419.6" x2="1290.0" y2="419.6" stroke="#fff" stroke-width="1.2" opacity="0.8"/>
<line x1="1311.1" y1="419.6" x2="1316.1" y2="419.6" stroke="#fff" stroke-width="1.2" opacity="0.8"/>
<text x="1322.0" y="423.9" font-size="12.35" font-weight="bold" fill="#444" textLength="14.8" lengthAdjust="spacingAndGlyphs">90</text>
<line x1="1285.0" y1="450.2" x2="1290.0" y2="450.2" stroke="#fff" stroke-width="1.2" opacity="0.8"/>
<line x1="1311.1" y1="450.2" x2="1316.1" y2="450.2" stroke="#fff" stroke-width="1.2" opacity="0.8"/>
<text x="1322.0" y="454.4" font-size="12.35" font-weight="bold" fill="#444" textLength="14.8" lengthAdjust="spacingAndGlyphs">60</text>
<line x1="1285.0" y1="480.2" x2="1290.0" y2="480.2" stroke="#fff" stroke-width="1.2" opacity="0.8"/>
<line x1="1311.1" y1="480.2" x2="1316.1" y2="480.2" stroke="#fff" stroke-width="1.2" opacity="0.8"/>
<text x="1322.0" y="484.4" font-size="12.35" font-weight="bold" fill="#444" textLength="14.8" lengthAdjust="spacingAndGlyphs">30</text>
<line x1="1285.0" y1="509.6" x2="1290.0" y2="509.6" stroke="#fff" stroke-width="1.2" opacity="0.8"/>
<line x1="1311.1" y1="509.6" x2="1316.1" y2="509.6" stroke="#fff" stroke-width="1.2" opacity="0.8"/>
<text x="1322.0" y="513.9" font-size="12.35" font-weight="bold" fill="#444" textLength="7.4" lengthAdjust="spacingAndGlyphs">0</text>
<text x="928.0" y="1578.6" font-size="32.85" font-weight="bold" fill="#000" textLength="167.6" lengthAdjust="spacingAndGlyphs" >Cytotoxicity</text>
<rect x="802.2" y="1598.6" width="430.6" height="568.8" fill="#ebebeb"/>
<rect x="806.2" y="1605.7" width="421.6" height="553.9" fill="#fff"/>
<line x1="843.4" y1="1598.6" x2="843.4" y2="2167.4" stroke="#fff" stroke-width="1.6"/>
<line x1="912.9" y1="1598.6" x2="912.9" y2="2167.4" stroke="#fff" stroke-width="1.6"/>
<line x1="982.4" y1="1598.6" x2="982.4" y2="2167.4" stroke="#fff" stroke-width="1.6"/>
<line x1="1051.9" y1="1598.6" x2="1051.9" y2="2167.4" stroke="#fff" stroke-width="1.6"/>
<line x1="1121.4" y1="1598.6" x2="1121.4" y2="2167.4" stroke="#fff" stroke-width="1.6"/>
<line x1="1190.9" y1="1598.6" x2="1190.9" y2="2167.4" stroke="#fff" stroke-width="1.6"/>
<line x1="802.2" y1="1663.8" x2="1232.8" y2="1663.8" stroke="#fff" stroke-width="1.6"/>
<line x1="802.2" y1="1773.1" x2="1232.8" y2="1773.1" stroke="#fff" stroke-width="1.6"/>
<line x1="802.2" y1="1882.4" x2="1232.8" y2="1882.4" stroke="#fff" stroke-width="1.6"/>
<line x1="802.2" y1="1991.7" x2="1232.8" y2="1991.7" stroke="#fff" stroke-width="1.6"/>
<line x1="802.2" y1="2101.0" x2="1232.8" y2="2101.0" stroke="#fff" stroke-width="1.6"/>
<rect x="808.70" y="1609.20" width="70.28" height="110.08" fill="#ff4326" shape-rendering="crispEdges"/>
<rect x="878.18" y="1609.20" width="70.28" height="110.08" fill="#ff351b" shape-rendering="crispEdges"/>
<rect x="947.67" y="1609.20" width="70.28" height="110.08" fill="#ff3219" shape-rendering="crispEdges"/>
<rect x="1017.15" y="1609.20" width="70.28" height="110.08" fill="#ff2d16" shape-rendering="crispEdges"/>
<rect x="1086.63" y="1609.20" width="70.28" height="110.08" fill="#ff2d16" shape-rendering="crispEdges"/>
<rect x="1156.12" y="1609.20" width="69.48" height="110.08" fill="#ff1707" shape-rendering="crispEdges"/>
<rect x="808.70" y="1718.48" width="70.28" height="110.08" fill="#ff4023" shape-rendering="crispEdges"/>
<rect x="878.18" y="1718.48" width="70.28" height="110.08" fill="#ff351b" shape-rendering="crispEdges"/>
<rect x="947.67" y="1718.48" width="70.28" height="110.08" fill="#ff391e" shape-rendering="crispEdges"/>
<rect x="1017.15" y="1718.48" width="70.28" height="110.08" fill="#ff391e" shape-rendering="crispEdges"/>
<rect x="1086.63" y="1718.48" width="70.28" height="110.08" fill="#ff351b" shape-rendering="crispEdges"/>
<rect x="1156.12" y="1718.48" width="69.48" height="110.08" fill="#ff351b" shape-rendering="crispEdges"/>
<rect x="808.70" y="1827.76" width="70.28" height="110.08" fill="#ff4326" shape-rendering="crispEdges"/>
<rect x="878.18" y="1827.76" width="70.28" height="110.08" fill="#ff351b" shape-rendering="crispEdges"/>
<rect x="947.67" y="1827.76" width="70.28" height="110.08" fill="#ff3219" shape-rendering="crispEdges"/>
<rect x="1017.15" y="1827.76" width="70.28" height="110.08" fill="#ff3219" shape-rendering="crispEdges"/>
<rect x="1086.63" y="1827.76" width="70.28" height="110.08" fill="#ff2913" shape-rendering="crispEdges"/>
<rect x="1156.12" y="1827.76" width="69.48" height="110.08" fill="#ff0000" shape-rendering="crispEdges"/>
<rect x="808.70" y="1937.04" width="70.28" height="110.08" fill="#ff3d21" shape-rendering="crispEdges"/>
<rect x="878.18" y="1937.04" width="70.28" height="110.08" fill="#ff351b" shape-rendering="crispEdges"/>
<rect x="947.67" y="1937.04" width="70.28" height="110.08" fill="#ff3d21" shape-rendering="crispEdges"/>
<rect x="1017.15" y="1937.04" width="70.28" height="110.08" fill="#ff3d21" shape-rendering="crispEdges"/>
<rect x="1086.63" y="1937.04" width="70.28" height="110.08" fill="#ff3d21" shape-rendering="crispEdges"/>
<rect x="1156.12" y="1937.04" width="69.48" height="110.08" fill="#ff391e" shape-rendering="crispEdges"/>
<rect x="808.70" y="2046.32" width="70.28" height="109.28" fill="#ff1e0c" shape-rendering="crispEdges"/>
<rect x="878.18" y="2046.32" width="70.28" height="109.28" fill="#ff3219" shape-rendering="crispEdges"/>
<rect x="947.67" y="2046.32" width="70.28" height="109.28" fill="#ff3219" shape-rendering="crispEdges"/>
<rect x="1017.15" y="2046.32" width="70.28" height="109.28" fill="#ff351b" shape-rendering="crispEdges"/>
<rect x="1086.63" y="2046.32" width="70.28" height="109.28" fill="#ff351b" shape-rendering="crispEdges"/>
<rect x="1156.12" y="2046.32" width="69.48" height="109.28" fill="#ff351b" shape-rendering="crispEdges"/>
<text x="843.4" y="1668.9" font-size="14.83" font-weight="bold" fill="#1e1a1a" text-anchor="middle" textLength="19.0" lengthAdjust="spacingAndGlyphs">91</text>
<text x="912.9" y="1668.9" font-size="14.83" font-weight="bold" fill="#1e1a1a" text-anchor="middle" textLength="19.0" lengthAdjust="spacingAndGlyphs">95</text>
<text x="982.4" y="1668.9" font-size="14.83" font-weight="bold" fill="#1e1a1a" text-anchor="middle" textLength="19.0" lengthAdjust="spacingAndGlyphs">96</text>
<text x="1051.9" y="1668.9" font-size="14.83" font-weight="bold" fill="#1e1a1a" text-anchor="middle" textLength="19.0" lengthAdjust="spacingAndGlyphs">97</text>
<text x="1121.4" y="1668.9" font-size="14.83" font-weight="bold" fill="#1e1a1a" text-anchor="middle" textLength="19.0" lengthAdjust="spacingAndGlyphs">97</text>
<text x="1190.9" y="1668.9" font-size="14.83" font-weight="bold" fill="#1e1a1a" text-anchor="middle" textLength="28.5" lengthAdjust="spacingAndGlyphs">101</text>
<text x="843.4" y="1778.2" font-size="14.83" font-weight="bold" fill="#1e1a1a" text-anchor="middle" textLength="19.0" lengthAdjust="spacingAndGlyphs">92</text>
<text x="912.9" y="1778.2" font-size="14.83" font-weight="bold" fill="#1e1a1a" text-anchor="middle" textLength="19.0" lengthAdjust="spacingAndGlyphs">95</text>
<text x="982.4" y="1778.2" font-size="14.83" font-weight="bold" fill="#1e1a1a" text-anchor="middle" textLength="19.0" lengthAdjust="spacingAndGlyphs">94</text>
<text x="1051.9" y="1778.2" font-size="14.83" font-weight="bold" fill="#1e1a1a" text-anchor="middle" textLength="19.0" lengthAdjust="spacingAndGlyphs">94</text>
<text x="1121.4" y="1778.2" font-size="14.83" font-weight="bold" fill="#1e1a1a" text-anchor="middle" textLength="19.0" lengthAdjust="spacingAndGlyphs">95</text>
<text x="1190.9" y="1778.2" font-size="14.83" font-weight="bold" fill="#1e1a1a" text-anchor="middle" textLength="19.0" lengthAdjust="spacingAndGlyphs">95</text>
<text x="843.4" y="1887.5" font-size="14.83" font-weight="bold" fill="#1e1a1a" text-anchor="middle" textLength="19.0" lengthAdjust="spacingAndGlyphs">91</text>
<text x="912.9" y="1887.5" font-size="14.83" font-weight="bold" fill="#1e1a1a" text-anchor="middle" textLength="19.0" lengthAdjust="spacingAndGlyphs">95</text>
<text x="982.4" y="1887.5" font-size="14.83" font-weight="bold" fill="#1e1a1a" text-anchor="middle" textLength="19.0" lengthAdjust="spacingAndGlyphs">96</text>
<text x="1051.9" y="1887.5" font-size="14.83" font-weight="bold" fill="#1e1a1a" text-anchor="middle" textLength="19.0" lengthAdjust="spacingAndGlyphs">96</text>
<text x="1121.4" y="1887.5" font-size="14.83" font-weight="bold" fill="#1e1a1a" text-anchor="middle" textLength="19.0" lengthAdjust="spacingAndGlyphs">98</text>
<text x="1190.9" y="1887.5" font-size="14.83" font-weight="bold" fill="#1e1a1a" text-anchor="middle" textLength="28.5" lengthAdjust="spacingAndGlyphs">103</text>
<text x="843.4" y="1996.8" font-size="14.83" font-weight="bold" fill="#1e1a1a" text-anchor="middle" textLength="19.0" lengthAdjust="spacingAndGlyphs">93</text>
<text x="912.9" y="1996.8" font-size="14.83" font-weight="bold" fill="#1e1a1a" text-anchor="middle" textLength="19.0" lengthAdjust="spacingAndGlyphs">95</text>
<text x="982.4" y="1996.8" font-size="14.83" font-weight="bold" fill="#1e1a1a" text-anchor="middle" textLength="19.0" lengthAdjust="spacingAndGlyphs">93</text>
<text x="1051.9" y="1996.8" font-size="14.83" font-weight="bold" fill="#1e1a1a" text-anchor="middle" textLength="19.0" lengthAdjust="spacingAndGlyphs">93</text>
<text x="1121.4" y="1996.8" font-size="14.83" font-weight="bold" fill="#1e1a1a" text-anchor="middle" textLength="19.0" lengthAdjust="spacingAndGlyphs">93</text>
<text x="1190.9" y="1996.8" font-size="14.83" font-weight="bold" fill="#1e1a1a" text-anchor="middle" textLength="19.0" lengthAdjust="spacingAndGlyphs">94</text>
<text x="843.4" y="2106.1" font-size="14.83" font-weight="bold" fill="#1e1a1a" text-anchor="middle" textLength="28.5" lengthAdjust="spacingAndGlyphs">100</text>
<text x="912.9" y="2106.1" font-size="14.83" font-weight="bold" fill="#1e1a1a" text-anchor="middle" textLength="19.0" lengthAdjust="spacingAndGlyphs">96</text>
<text x="982.4" y="2106.1" font-size="14.83" font-weight="bold" fill="#1e1a1a" text-anchor="middle" textLength="19.0" lengthAdjust="spacingAndGlyphs">96</text>
<text x="1051.9" y="2106.1" font-size="14.83" font-weight="bold" fill="#1e1a1a" text-anchor="middle" textLength="19.0" lengthAdjust="spacingAndGlyphs">95</text>
<text x="1121.4" y="2106.1" font-size="14.83" font-weight="bold" fill="#1e1a1a" text-anchor="middle" textLength="19.0" lengthAdjust="spacingAndGlyphs">95</text>
<text x="1190.9" y="2106.1" font-size="14.83" font-weight="bold" fill="#1e1a1a" text-anchor="middle" textLength="19.0" lengthAdjust="spacingAndGlyphs">95</text>
<text x="790.6" y="1668.8" font-size="14.54" font-weight="bold" fill="#d0101c" text-anchor="end" textLength="32.1" lengthAdjust="spacingAndGlyphs">62.5</text>
<line x1="797.2" y1="1663.8" x2="801.2" y2="1663.8" stroke="#555" stroke-width="1.5"/>
<text x="790.6" y="1778.1" font-size="14.54" font-weight="bold" fill="#d0101c" text-anchor="end" textLength="32.1" lengthAdjust="spacingAndGlyphs">31.2</text>
<line x1="797.2" y1="1773.1" x2="801.2" y2="1773.1" stroke="#555" stroke-width="1.5"/>
<text x="790.6" y="1887.4" font-size="14.54" font-weight="bold" fill="#d0101c" text-anchor="end" textLength="32.1" lengthAdjust="spacingAndGlyphs">15.6</text>
<line x1="797.2" y1="1882.4" x2="801.2" y2="1882.4" stroke="#555" stroke-width="1.5"/>
<text x="790.6" y="1996.7" font-size="14.54" font-weight="bold" fill="#d0101c" text-anchor="end" textLength="22.8" lengthAdjust="spacingAndGlyphs">7.8</text>
<line x1="797.2" y1="1991.7" x2="801.2" y2="1991.7" stroke="#555" stroke-width="1.5"/>
<text x="790.6" y="2106.0" font-size="14.54" font-weight="bold" fill="#d0101c" text-anchor="end" textLength="9.3" lengthAdjust="spacingAndGlyphs">0</text>
<line x1="797.2" y1="2101.0" x2="801.2" y2="2101.0" stroke="#555" stroke-width="1.5"/>
<text x="843.4" y="2184.6" font-size="14.54" font-weight="bold" fill="#d0101c" text-anchor="middle" textLength="9.3" lengthAdjust="spacingAndGlyphs">0</text>
<line x1="843.4" y1="2168.4" x2="843.4" y2="2171.4" stroke="#555" stroke-width="1.5"/>
<text x="912.9" y="2184.6" font-size="14.54" font-weight="bold" fill="#d0101c" text-anchor="middle" textLength="22.8" lengthAdjust="spacingAndGlyphs">1.2</text>
<line x1="912.9" y1="2168.4" x2="912.9" y2="2171.4" stroke="#555" stroke-width="1.5"/>
<text x="982.4" y="2184.6" font-size="14.54" font-weight="bold" fill="#d0101c" text-anchor="middle" textLength="22.8" lengthAdjust="spacingAndGlyphs">2.5</text>
<line x1="982.4" y1="2168.4" x2="982.4" y2="2171.4" stroke="#555" stroke-width="1.5"/>
<text x="1051.9" y="2184.6" font-size="14.54" font-weight="bold" fill="#d0101c" text-anchor="middle" textLength="9.3" lengthAdjust="spacingAndGlyphs">5</text>
<line x1="1051.9" y1="2168.4" x2="1051.9" y2="2171.4" stroke="#555" stroke-width="1.5"/>
<text x="1121.4" y="2184.6" font-size="14.54" font-weight="bold" fill="#d0101c" text-anchor="middle" textLength="18.6" lengthAdjust="spacingAndGlyphs">10</text>
<line x1="1121.4" y1="2168.4" x2="1121.4" y2="2171.4" stroke="#555" stroke-width="1.5"/>
<text x="1190.9" y="2184.6" font-size="14.54" font-weight="bold" fill="#d0101c" text-anchor="middle" textLength="18.6" lengthAdjust="spacingAndGlyphs">20</text>
<line x1="1190.9" y1="2168.4" x2="1190.9" y2="2171.4" stroke="#555" stroke-width="1.5"/>
<text x="916.8" y="2229.7" font-size="31.54" font-weight="bold" fill="#000" textLength="235.0" lengthAdjust="spacingAndGlyphs" >Remdesivir (µM)</text>
<text x="0" y="0" font-size="30.23" font-weight="bold" fill="#000" textLength="243.9" lengthAdjust="spacingAndGlyphs" transform="translate(732.4,1995.3) rotate(-90)">Isoquercetin (µM)</text>
<text x="1265.0" y="1725.0" font-size="32.70" font-weight="bold" fill="#000" textLength="54.0" lengthAdjust="spacingAndGlyphs" >Cell</text>
<text x="1265.0" y="1765.0" font-size="31.25" font-weight="bold" fill="#000" textLength="109.8" lengthAdjust="spacingAndGlyphs" >viability</text>
<text x="1264.5" y="1803.0" font-size="31.25" font-weight="bold" fill="#000" textLength="44.0" lengthAdjust="spacingAndGlyphs" >(%)</text>
<defs><linearGradient id="g451" x1="0" y1="0" x2="0" y2="1"><stop offset="0.00" stop-color="#ff0000"/><stop offset="0.10" stop-color="#ff0902"/><stop offset="0.20" stop-color="#ff1607"/><stop offset="0.30" stop-color="#ff1f0c"/><stop offset="0.40" stop-color="#ff2611"/><stop offset="0.50" stop-color="#ff2c15"/><stop offset="0.60" stop-color="#ff3119"/><stop offset="0.70" stop-color="#ff361c"/><stop offset="0.80" stop-color="#ff3b1f"/><stop offset="0.90" stop-color="#ff3f23"/><stop offset="1.00" stop-color="#ff4326"/></linearGradient></defs>
<rect x="1269.5" y="1829" width="30.0" height="127.0" fill="url(#g451)"/>
<line x1="1269.5" y1="1838.5" x2="1274.5" y2="1838.5" stroke="#fff" stroke-width="1.2" opacity="0.8"/>
<line x1="1294.5" y1="1838.5" x2="1299.5" y2="1838.5" stroke="#fff" stroke-width="1.2" opacity="0.8"/>
<text x="1306.0" y="1842.8" font-size="12.35" font-weight="bold" fill="#444" textLength="32.9" lengthAdjust="spacingAndGlyphs">102.5</text>
<line x1="1269.5" y1="1862.5" x2="1274.5" y2="1862.5" stroke="#fff" stroke-width="1.2" opacity="0.8"/>
<line x1="1294.5" y1="1862.5" x2="1299.5" y2="1862.5" stroke="#fff" stroke-width="1.2" opacity="0.8"/>
<text x="1306.0" y="1866.8" font-size="12.35" font-weight="bold" fill="#444" textLength="32.9" lengthAdjust="spacingAndGlyphs">100.0</text>
<line x1="1269.5" y1="1887.5" x2="1274.5" y2="1887.5" stroke="#fff" stroke-width="1.2" opacity="0.8"/>
<line x1="1294.5" y1="1887.5" x2="1299.5" y2="1887.5" stroke="#fff" stroke-width="1.2" opacity="0.8"/>
<text x="1306.0" y="1891.8" font-size="12.35" font-weight="bold" fill="#444" textLength="25.5" lengthAdjust="spacingAndGlyphs">97.5</text>
<line x1="1269.5" y1="1913.6" x2="1274.5" y2="1913.6" stroke="#fff" stroke-width="1.2" opacity="0.8"/>
<line x1="1294.5" y1="1913.6" x2="1299.5" y2="1913.6" stroke="#fff" stroke-width="1.2" opacity="0.8"/>
<text x="1306.0" y="1917.8" font-size="12.35" font-weight="bold" fill="#444" textLength="25.5" lengthAdjust="spacingAndGlyphs">95.0</text>
<line x1="1269.5" y1="1938.6" x2="1274.5" y2="1938.6" stroke="#fff" stroke-width="1.2" opacity="0.8"/>
<line x1="1294.5" y1="1938.6" x2="1299.5" y2="1938.6" stroke="#fff" stroke-width="1.2" opacity="0.8"/>
<text x="1306.0" y="1942.8" font-size="12.35" font-weight="bold" fill="#444" textLength="25.5" lengthAdjust="spacingAndGlyphs">92.5</text>
<defs><linearGradient id="Ak" x1="0" y1="0" x2="1" y2="0"><stop offset="0" stop-color="#00ff00"/><stop offset="0.5" stop-color="#ffffff"/><stop offset="1" stop-color="#ff0000"/></linearGradient></defs>
<rect x="63.1" y="930.9" width="572.2" height="8.5" fill="url(#Ak)"/>
<text x="171.6" y="889.6" font-size="24.56" font-weight="bold" textLength="329.0" lengthAdjust="spacingAndGlyphs">ZIP synergy score: 30.615</text>
<text x="103.2" y="915.5" font-size="17.5" text-anchor="middle" fill="#1a1a1a">&#8722;60</text>
<text x="185.0" y="915.5" font-size="17.5" text-anchor="middle" fill="#1a1a1a">&#8722;40</text>
<text x="267.0" y="915.5" font-size="17.5" text-anchor="middle" fill="#1a1a1a">&#8722;20</text>
<text x="348.0" y="915.5" font-size="17.5" text-anchor="middle" fill="#1a1a1a">0</text>
<text x="430.0" y="915.5" font-size="17.5" text-anchor="middle" fill="#1a1a1a">20</text>
<text x="512.5" y="915.5" font-size="17.5" text-anchor="middle" fill="#1a1a1a">40</text>
<text x="593.8" y="915.5" font-size="17.5" text-anchor="middle" fill="#1a1a1a">60</text>
<line x1="418.8" y1="1214.4" x2="123.0" y2="1310.5" stroke="#111" stroke-width="1.3" opacity="1.0" stroke-dasharray="5,5"/>
<line x1="418.8" y1="1214.4" x2="572.9" y2="1354.6" stroke="#111" stroke-width="1.3" opacity="1.0" stroke-dasharray="5,5"/>
<line x1="418.8" y1="1214.4" x2="425.3" y2="985.8" stroke="#111" stroke-width="1.3" opacity="1.0" stroke-dasharray="5,5"/>
<line x1="102.6" y1="1072.2" x2="425.3" y2="985.8" stroke="#111" stroke-width="1.3" opacity="1.0"/>
<line x1="425.3" y1="985.8" x2="595.0" y2="1111.2" stroke="#111" stroke-width="1.3" opacity="1.0"/>
<line x1="102.6" y1="1072.2" x2="123.0" y2="1310.5" stroke="#111" stroke-width="1.3" opacity="1.0"/>
<line x1="595.0" y1="1111.2" x2="572.9" y2="1354.6" stroke="#111" stroke-width="1.3" opacity="1.0"/>
<line x1="123.0" y1="1310.5" x2="253.9" y2="1474.1" stroke="#111" stroke-width="1.3" opacity="1.0"/>
<line x1="253.9" y1="1474.1" x2="572.9" y2="1354.6" stroke="#111" stroke-width="1.3" opacity="1.0"/>
<line x1="102.6" y1="1072.2" x2="244.5" y2="1220.8" stroke="#111" stroke-width="1.3" opacity="1.0"/>
<line x1="244.5" y1="1220.8" x2="595.0" y2="1111.2" stroke="#111" stroke-width="1.3" opacity="1.0"/>
<line x1="244.5" y1="1220.8" x2="253.9" y2="1474.1" stroke="#111" stroke-width="1.3" opacity="1.0"/>
<g stroke="#000" stroke-width="2.0" stroke-linejoin="round"><polygon points="418.8,1070.6 430.6,1065.6 423.3,1056.7 411.5,1063.4" fill="#ff9b9b"/><polygon points="407.0,1075.4 418.8,1070.6 411.5,1063.4 399.7,1069.0" fill="#ffa0a0"/><polygon points="426.2,1079.1 437.9,1074.7 430.6,1065.6 418.8,1070.6" fill="#ffa1a1"/><polygon points="395.1,1079.3 407.0,1075.4 399.7,1069.0 387.9,1073.4" fill="#ffa3a3"/><polygon points="414.3,1083.2 426.2,1079.1 418.8,1070.6 407.0,1075.4" fill="#ffa3a3"/><polygon points="383.3,1081.9 395.1,1079.3 387.9,1073.4 376.0,1076.6" fill="#ffa3a3"/><polygon points="433.6,1088.1 445.4,1083.8 437.9,1074.7 426.2,1079.1" fill="#ffa7a7"/><polygon points="402.5,1086.5 414.3,1083.2 407.0,1075.4 395.1,1079.3" fill="#ffa5a5"/><polygon points="371.3,1082.7 383.3,1081.9 376.0,1076.6 364.1,1078.7" fill="#ffa0a0"/><polygon points="421.7,1092.0 433.6,1088.1 426.2,1079.1 414.3,1083.2" fill="#ffa9a9"/><polygon points="390.5,1088.2 402.5,1086.5 395.1,1079.3 383.3,1081.9" fill="#ffa3a3"/><polygon points="441.0,1097.5 452.9,1092.8 445.4,1083.8 433.6,1088.1" fill="#ffaeae"/><polygon points="409.8,1094.7 421.7,1092.0 414.3,1083.2 402.5,1086.5" fill="#ffa9a9"/><polygon points="359.3,1081.6 371.3,1082.7 364.1,1078.7 352.1,1078.1" fill="#ff9a9a"/><polygon points="429.1,1101.2 441.0,1097.5 433.6,1088.1 421.7,1092.0" fill="#ffafaf"/><polygon points="378.6,1088.0 390.5,1088.2 383.3,1081.9 371.3,1082.7" fill="#ff9e9e"/><polygon points="448.5,1107.2 460.4,1102.0 452.9,1092.8 441.0,1097.5" fill="#ffb4b4"/><polygon points="397.9,1095.7 409.8,1094.7 402.5,1086.5 390.5,1088.2" fill="#ffa6a6"/><polygon points="417.2,1103.7 429.1,1101.2 421.7,1092.0 409.8,1094.7" fill="#ffaeae"/><polygon points="347.1,1079.2 359.3,1081.6 352.1,1078.1 340.0,1076.7" fill="#ff8f8f"/><polygon points="436.6,1110.9 448.5,1107.2 441.0,1097.5 429.1,1101.2" fill="#ffb6b6"/><polygon points="366.5,1086.0 378.6,1088.0 371.3,1082.7 359.3,1081.6" fill="#ff9696"/><polygon points="456.1,1117.3 468.0,1112.6 460.4,1102.0 448.5,1107.2" fill="#ffbcbc"/><polygon points="385.9,1094.8 397.9,1095.7 390.5,1088.2 378.6,1088.0" fill="#ff9f9f"/><polygon points="405.3,1104.5 417.2,1103.7 409.8,1094.7 397.9,1095.7" fill="#ffabab"/><polygon points="424.7,1113.1 436.6,1110.9 429.1,1101.2 417.2,1103.7" fill="#ffb5b5"/><polygon points="444.2,1120.7 456.1,1117.3 448.5,1107.2 436.6,1110.9" fill="#ffbebe"/><polygon points="334.8,1076.5 347.1,1079.2 340.0,1076.7 327.8,1075.0" fill="#ff8383"/><polygon points="463.7,1127.2 475.6,1122.7 468.0,1112.6 456.1,1117.3" fill="#ffc5c5"/><polygon points="354.3,1082.5 366.5,1086.0 359.3,1081.6 347.1,1079.2" fill="#ff8a8a"/><polygon points="373.8,1091.7 385.9,1094.8 378.6,1088.0 366.5,1086.0" fill="#ff9494"/><polygon points="393.3,1103.2 405.3,1104.5 397.9,1095.7 385.9,1094.8" fill="#ffa3a3"/><polygon points="412.7,1113.8 424.7,1113.1 417.2,1103.7 405.3,1104.5" fill="#ffb1b1"/><polygon points="432.2,1122.7 444.2,1120.7 436.6,1110.9 424.7,1113.1" fill="#ffbcbc"/><polygon points="451.8,1130.5 463.7,1127.2 456.1,1117.3 444.2,1120.7" fill="#ffc5c5"/><polygon points="322.4,1074.3 334.8,1076.5 327.8,1075.0 315.4,1073.4" fill="#ff7878"/><polygon points="471.5,1136.7 483.4,1132.2 475.6,1122.7 463.7,1127.2" fill="#ffcccc"/><polygon points="400.7,1113.1 412.7,1113.8 405.3,1104.5 393.3,1103.2" fill="#ffa9a9"/><polygon points="420.3,1122.9 432.2,1122.7 424.7,1113.1 412.7,1113.8" fill="#ffb7b7"/><polygon points="342.0,1078.7 354.3,1082.5 347.1,1079.2 334.8,1076.5" fill="#ff7c7c"/><polygon points="439.8,1132.3 451.8,1130.5 444.2,1120.7 432.2,1122.7" fill="#ffc3c3"/><polygon points="381.2,1099.1 393.3,1103.2 385.9,1094.8 373.8,1091.7" fill="#ff9696"/><polygon points="361.6,1087.0 373.8,1091.7 366.5,1086.0 354.3,1082.5" fill="#ff8686"/><polygon points="459.5,1140.0 471.5,1136.7 463.7,1127.2 451.8,1130.5" fill="#ffcccc"/><polygon points="309.9,1073.6 322.4,1074.3 315.4,1073.4 303.0,1072.0" fill="#ff6d6d"/><polygon points="479.3,1145.6 491.3,1141.1 483.4,1132.2 471.5,1136.7" fill="#ffd2d2"/><polygon points="427.9,1132.1 439.8,1132.3 432.2,1122.7 420.3,1122.9" fill="#ffbdbd"/><polygon points="408.2,1120.8 420.3,1122.9 412.7,1113.8 400.7,1113.1" fill="#ffaeae"/><polygon points="447.5,1141.8 459.5,1140.0 451.8,1130.5 439.8,1132.3" fill="#ffcaca"/><polygon points="388.6,1107.4 400.7,1113.1 393.3,1103.2 381.2,1099.1" fill="#ff9b9b"/><polygon points="329.5,1075.7 342.0,1078.7 334.8,1076.5 322.4,1074.3" fill="#ff6e6e"/><polygon points="467.3,1148.8 479.3,1145.6 471.5,1136.7 459.5,1140.0" fill="#ffd2d2"/><polygon points="369.0,1092.8 381.2,1099.1 373.8,1091.7 361.6,1087.0" fill="#ff8585"/><polygon points="349.3,1081.6 361.6,1087.0 354.3,1082.5 342.0,1078.7" fill="#ff7575"/><polygon points="297.3,1074.7 309.9,1073.6 303.0,1072.0 290.5,1074.9" fill="#ff6767"/><polygon points="487.2,1153.9 499.2,1149.3 491.3,1141.1 479.3,1145.6" fill="#ffd6d6"/><polygon points="435.5,1141.7 447.5,1141.8 439.8,1132.3 427.9,1132.1" fill="#ffc4c4"/><polygon points="415.8,1129.6 427.9,1132.1 420.3,1122.9 408.2,1120.8" fill="#ffb3b3"/><polygon points="455.3,1150.7 467.3,1148.8 459.5,1140.0 447.5,1141.8" fill="#ffcfcf"/><polygon points="396.1,1115.7 408.2,1120.8 400.7,1113.1 388.6,1107.4" fill="#ff9f9f"/><polygon points="317.0,1074.6 329.5,1075.7 322.4,1074.3 309.9,1073.6" fill="#ff6363"/><polygon points="284.6,1076.8 297.3,1074.7 290.5,1074.9 277.9,1077.4" fill="#ff6464"/><polygon points="475.2,1156.9 487.2,1153.9 479.3,1145.6 467.3,1148.8" fill="#ffd6d6"/><polygon points="376.4,1100.2 388.6,1107.4 381.2,1099.1 369.0,1092.8" fill="#ff8787"/><polygon points="336.7,1077.0 349.3,1081.6 342.0,1078.7 329.5,1075.7" fill="#ff6565"/><polygon points="495.3,1161.8 507.3,1157.5 499.2,1149.3 487.2,1153.9" fill="#ffd9d9"/><polygon points="356.6,1085.6 369.0,1092.8 361.6,1087.0 349.3,1081.6" fill="#ff7171"/><polygon points="443.2,1151.2 455.3,1150.7 447.5,1141.8 435.5,1141.7" fill="#ffcaca"/><polygon points="423.5,1139.2 435.5,1141.7 427.9,1132.1 415.8,1129.6" fill="#ffb9b9"/><polygon points="271.9,1079.1 284.6,1076.8 277.9,1077.4 265.2,1079.4" fill="#ff6161"/><polygon points="463.2,1158.7 475.2,1156.9 467.3,1148.8 455.3,1150.7" fill="#ffd3d3"/><polygon points="304.3,1074.9 317.0,1074.6 309.9,1073.6 297.3,1074.7" fill="#ff5c5c"/><polygon points="403.7,1124.6 415.8,1129.6 408.2,1120.8 396.1,1115.7" fill="#ffa4a4"/><polygon points="483.2,1164.6 495.3,1161.8 487.2,1153.9 475.2,1156.9" fill="#ffd9d9"/><polygon points="383.9,1108.7 396.1,1115.7 388.6,1107.4 376.4,1100.2" fill="#ff8b8b"/><polygon points="324.1,1074.8 336.7,1077.0 329.5,1075.7 317.0,1074.6" fill="#ff5858"/><polygon points="259.0,1081.2 271.9,1079.1 265.2,1079.4 252.4,1081.1" fill="#ff5e5e"/><polygon points="503.4,1169.7 515.4,1166.1 507.3,1157.5 495.3,1161.8" fill="#ffdcdc"/><polygon points="431.2,1149.3 443.2,1151.2 435.5,1141.7 423.5,1139.2" fill="#ffc0c0"/><polygon points="451.1,1159.5 463.2,1158.7 455.3,1150.7 443.2,1151.2" fill="#ffcece"/><polygon points="291.5,1076.8 304.3,1074.9 297.3,1074.7 284.6,1076.8" fill="#ff5757"/><polygon points="364.0,1091.9 376.4,1100.2 369.0,1092.8 356.6,1085.6" fill="#ff7070"/><polygon points="344.1,1078.6 356.6,1085.6 349.3,1081.6 336.7,1077.0" fill="#ff5d5d"/><polygon points="411.4,1134.3 423.5,1139.2 415.8,1129.6 403.7,1124.6" fill="#ffa9a9"/><polygon points="471.2,1165.9 483.2,1164.6 475.2,1156.9 463.2,1158.7" fill="#ffd6d6"/><polygon points="491.4,1172.1 503.4,1169.7 495.3,1161.8 483.2,1164.6" fill="#ffdbdb"/><polygon points="246.1,1083.6 259.0,1081.2 252.4,1081.1 239.5,1082.7" fill="#ff5b5b"/><polygon points="391.5,1117.9 403.7,1124.6 396.1,1115.7 383.9,1108.7" fill="#ff8f8f"/><polygon points="278.7,1079.6 291.5,1076.8 284.6,1076.8 271.9,1079.1" fill="#ff5454"/><polygon points="311.4,1075.2 324.1,1074.8 317.0,1074.6 304.3,1074.9" fill="#ff5050"/><polygon points="438.9,1159.8 451.1,1159.5 443.2,1151.2 431.2,1149.3" fill="#ffc6c6"/><polygon points="511.6,1178.4 523.6,1175.5 515.4,1166.1 503.4,1169.7" fill="#ffe0e0"/><polygon points="459.1,1166.0 471.2,1165.9 463.2,1158.7 451.1,1159.5" fill="#ffd0d0"/><polygon points="371.5,1100.6 383.9,1108.7 376.4,1100.2 364.0,1091.9" fill="#ff7373"/><polygon points="419.1,1144.1 431.2,1149.3 423.5,1139.2 411.4,1134.3" fill="#ffb0b0"/><polygon points="233.1,1087.6 246.1,1083.6 239.5,1082.7 226.6,1087.1" fill="#ff5a5a"/><polygon points="479.3,1172.8 491.4,1172.1 483.2,1164.6 471.2,1165.9" fill="#ffd7d7"/><polygon points="331.4,1074.4 344.1,1078.6 336.7,1077.0 324.1,1074.8" fill="#ff4d4d"/><polygon points="265.8,1082.1 278.7,1079.6 271.9,1079.1 259.0,1081.2" fill="#ff5252"/><polygon points="351.5,1082.9 364.0,1091.9 356.6,1085.6 344.1,1078.6" fill="#ff5959"/><polygon points="399.1,1127.7 411.4,1134.3 403.7,1124.6 391.5,1117.9" fill="#ff9595"/><polygon points="298.6,1077.7 311.4,1075.2 304.3,1074.9 291.5,1076.8" fill="#ff4b4b"/><polygon points="499.6,1179.7 511.6,1178.4 503.4,1169.7 491.4,1172.1" fill="#ffdddd"/><polygon points="119.1,1200.8 131.6,1186.1 125.5,1180.1 113.3,1196.6" fill="#fff0f0"/><polygon points="220.1,1092.6 233.1,1087.6 226.6,1087.1 213.7,1092.2" fill="#ff5c5c"/><polygon points="519.8,1187.9 531.8,1185.8 523.6,1175.5 511.6,1178.4" fill="#ffe6e6"/><polygon points="131.6,1186.1 143.9,1167.9 137.7,1162.4 125.5,1180.1" fill="#ffd4d4"/><polygon points="447.0,1164.6 459.1,1166.0 451.1,1159.5 438.9,1159.8" fill="#ffc7c7"/><polygon points="379.1,1110.7 391.5,1117.9 383.9,1108.7 371.5,1100.6" fill="#ff7979"/><polygon points="426.9,1153.1 438.9,1159.8 431.2,1149.3 419.1,1144.1" fill="#ffb7b7"/><polygon points="252.8,1084.7 265.8,1082.1 259.0,1081.2 246.1,1083.6" fill="#ff4f4f"/><polygon points="467.2,1172.2 479.3,1172.8 471.2,1165.9 459.1,1166.0" fill="#ffcfcf"/><polygon points="285.7,1080.8 298.6,1077.7 291.5,1076.8 278.7,1079.6" fill="#ff4949"/><polygon points="207.1,1098.5 220.1,1092.6 213.7,1092.2 200.8,1097.7" fill="#ff5f5f"/><polygon points="318.6,1076.0 331.4,1074.4 324.1,1074.8 311.4,1075.2" fill="#ff4343"/><polygon points="143.9,1167.9 156.1,1148.9 150.0,1144.3 137.7,1162.4" fill="#ffb6b6"/><polygon points="487.5,1179.8 499.6,1179.7 491.4,1172.1 479.3,1172.8" fill="#ffd8d8"/><polygon points="406.8,1137.3 419.1,1144.1 411.4,1134.3 399.1,1127.7" fill="#ff9c9c"/><polygon points="359.0,1092.8 371.5,1100.6 364.0,1091.9 351.5,1082.9" fill="#ff5b5b"/><polygon points="507.8,1188.1 519.8,1187.9 511.6,1178.4 499.6,1179.7" fill="#ffe1e1"/><polygon points="528.1,1197.6 540.0,1197.1 531.8,1185.8 519.8,1187.9" fill="#ffeded"/><polygon points="194.0,1105.7 207.1,1098.5 200.8,1097.7 187.7,1103.6" fill="#ff6464"/><polygon points="239.7,1088.7 252.8,1084.7 246.1,1083.6 233.1,1087.6" fill="#ff4f4f"/><polygon points="156.1,1148.9 168.5,1130.7 162.3,1126.5 150.0,1144.3" fill="#ff9898"/><polygon points="338.7,1073.0 351.5,1082.9 344.1,1078.6 331.4,1074.4" fill="#ff4242"/><polygon points="125.1,1206.3 137.7,1191.4 131.6,1186.1 119.1,1200.8" fill="#ffecec"/><polygon points="386.7,1121.0 399.1,1127.7 391.5,1117.9 379.1,1110.7" fill="#ff7f7f"/><polygon points="272.7,1083.7 285.7,1080.8 278.7,1079.6 265.8,1082.1" fill="#ff4747"/><polygon points="305.7,1079.8 318.6,1076.0 311.4,1075.2 298.6,1077.7" fill="#ff4040"/><polygon points="434.8,1160.5 447.0,1164.6 438.9,1159.8 426.9,1153.1" fill="#ffb9b9"/><polygon points="181.1,1115.7 194.0,1105.7 187.7,1103.6 174.7,1109.8" fill="#ff6c6c"/><polygon points="168.5,1130.7 181.1,1115.7 174.7,1109.8 162.3,1126.5" fill="#ff7d7d"/><polygon points="455.1,1170.6 467.2,1172.2 459.1,1166.0 447.0,1164.6" fill="#ffc5c5"/><polygon points="137.7,1191.4 150.1,1173.1 143.9,1167.9 131.6,1186.1" fill="#ffd1d1"/><polygon points="226.6,1093.8 239.7,1088.7 233.1,1087.6 220.1,1092.6" fill="#ff5050"/><polygon points="475.4,1178.9 487.5,1179.8 479.3,1172.8 467.2,1172.2" fill="#ffcfcf"/><polygon points="414.6,1146.6 426.9,1153.1 419.1,1144.1 406.8,1137.3" fill="#ffa1a1"/><polygon points="366.5,1104.7 379.1,1110.7 371.5,1100.6 359.0,1092.8" fill="#ff6262"/><polygon points="495.8,1187.4 507.8,1188.1 499.6,1179.7 487.5,1179.8" fill="#ffd9d9"/><polygon points="516.1,1197.4 528.1,1197.6 519.8,1187.9 507.8,1188.1" fill="#ffe6e6"/><polygon points="259.6,1086.6 272.7,1083.7 265.8,1082.1 252.8,1084.7" fill="#ff4545"/><polygon points="150.1,1173.1 162.4,1153.6 156.1,1148.9 143.9,1167.9" fill="#ffb2b2"/><polygon points="292.7,1083.6 305.7,1079.8 298.6,1077.7 285.7,1080.8" fill="#ff3f3f"/><polygon points="536.5,1206.4 548.6,1203.9 540.0,1197.1 528.1,1197.6" fill="#fff1f1"/><polygon points="213.5,1100.0 226.6,1093.8 220.1,1092.6 207.1,1098.5" fill="#ff5454"/><polygon points="394.4,1130.9 406.8,1137.3 399.1,1127.7 386.7,1121.0" fill="#ff8686"/><polygon points="325.9,1079.5 338.7,1073.0 331.4,1074.4 318.6,1076.0" fill="#ff3838"/><polygon points="346.2,1088.0 359.0,1092.8 351.5,1082.9 338.7,1073.0" fill="#ff4343"/><polygon points="162.4,1153.6 174.9,1135.2 168.5,1130.7 156.1,1148.9" fill="#ff9393"/><polygon points="131.4,1213.2 144.0,1197.7 137.7,1191.4 125.1,1206.3" fill="#ffeaea"/><polygon points="200.5,1108.4 213.5,1100.0 207.1,1098.5 194.0,1105.7" fill="#ff5b5b"/><polygon points="246.5,1090.6 259.6,1086.6 252.8,1084.7 239.7,1088.7" fill="#ff4545"/><polygon points="374.1,1115.9 386.7,1121.0 379.1,1110.7 366.5,1104.7" fill="#ff6b6b"/><polygon points="442.8,1167.9 455.1,1170.6 447.0,1164.6 434.8,1160.5" fill="#ffb8b8"/><polygon points="463.3,1177.4 475.4,1178.9 467.2,1172.2 455.1,1170.6" fill="#ffc4c4"/><polygon points="279.7,1086.8 292.7,1083.6 285.7,1080.8 272.7,1083.7" fill="#ff3e3e"/><polygon points="422.5,1155.7 434.8,1160.5 426.9,1153.1 414.6,1146.6" fill="#ffa5a5"/><polygon points="174.9,1135.2 187.6,1120.0 181.1,1115.7 168.5,1130.7" fill="#ff7979"/><polygon points="144.0,1197.7 156.3,1178.6 150.1,1173.1 137.7,1191.4" fill="#ffcece"/><polygon points="187.6,1120.0 200.5,1108.4 194.0,1105.7 181.1,1115.7" fill="#ff6666"/><polygon points="313.0,1084.6 325.9,1079.5 318.6,1076.0 305.7,1079.8" fill="#ff3939"/><polygon points="483.7,1185.9 495.8,1187.4 487.5,1179.8 475.4,1178.9" fill="#ffcfcf"/><polygon points="504.1,1196.3 516.1,1197.4 507.8,1188.1 495.8,1187.4" fill="#ffdcdc"/><polygon points="524.5,1207.2 536.5,1206.4 528.1,1197.6 516.1,1197.4" fill="#ffebeb"/><polygon points="353.8,1101.5 366.5,1104.7 359.0,1092.8 346.2,1088.0" fill="#ff4f4f"/><polygon points="402.2,1140.8 414.6,1146.6 406.8,1137.3 394.4,1130.9" fill="#ff8c8c"/><polygon points="545.1,1215.1 557.2,1211.7 548.6,1203.9 536.5,1206.4" fill="#fff3f3"/><polygon points="233.3,1095.6 246.5,1090.6 239.7,1088.7 226.6,1093.8" fill="#ff4646"/><polygon points="156.3,1178.6 168.7,1158.1 162.4,1153.6 150.1,1173.1" fill="#ffaeae"/><polygon points="333.3,1089.3 346.2,1088.0 338.7,1073.0 325.9,1079.5" fill="#ff3838"/><polygon points="266.5,1089.9 279.7,1086.8 272.7,1083.7 259.6,1086.6" fill="#ff3d3d"/><polygon points="299.9,1088.7 313.0,1084.6 305.7,1079.8 292.7,1083.6" fill="#ff3a3a"/><polygon points="381.8,1126.2 394.4,1130.9 386.7,1121.0 374.1,1115.9" fill="#ff7373"/><polygon points="137.8,1221.9 150.3,1205.1 144.0,1197.7 131.4,1213.2" fill="#ffeaea"/><polygon points="220.1,1102.0 233.3,1095.6 226.6,1093.8 213.5,1100.0" fill="#ff4a4a"/><polygon points="450.9,1175.9 463.3,1177.4 455.1,1170.6 442.8,1167.9" fill="#ffb8b8"/><polygon points="168.7,1158.1 181.2,1138.7 174.9,1135.2 162.4,1153.6" fill="#ff8e8e"/><polygon points="430.4,1164.8 442.8,1167.9 434.8,1160.5 422.5,1155.7" fill="#ffa8a8"/><polygon points="361.3,1113.6 374.1,1115.9 366.5,1104.7 353.8,1101.5" fill="#ff5b5b"/><polygon points="471.5,1184.4 483.7,1185.9 475.4,1178.9 463.3,1177.4" fill="#ffc4c4"/><polygon points="512.4,1206.8 524.5,1207.2 516.1,1197.4 504.1,1196.3" fill="#ffe2e2"/><polygon points="532.9,1217.2 545.1,1215.1 536.5,1206.4 524.5,1207.2" fill="#ffefef"/><polygon points="492.1,1194.2 504.1,1196.3 495.8,1187.4 483.7,1185.9" fill="#ffd1d1"/><polygon points="320.4,1092.9 333.3,1089.3 325.9,1079.5 313.0,1084.6" fill="#ff3939"/><polygon points="150.3,1205.1 162.7,1184.5 156.3,1178.6 144.0,1197.7" fill="#ffcdcd"/><polygon points="253.3,1093.8 266.5,1089.9 259.6,1086.6 246.5,1090.6" fill="#ff3d3d"/><polygon points="207.0,1110.6 220.1,1102.0 213.5,1100.0 200.5,1108.4" fill="#ff5252"/><polygon points="286.8,1092.0 299.9,1088.7 292.7,1083.6 279.7,1086.8" fill="#ff3a3a"/><polygon points="410.0,1151.3 422.5,1155.7 414.6,1146.6 402.2,1140.8" fill="#ff9292"/><polygon points="340.8,1101.5 353.8,1101.5 346.2,1088.0 333.3,1089.3" fill="#ff4545"/><polygon points="181.2,1138.7 194.0,1122.6 187.6,1120.0 174.9,1135.2" fill="#ff7373"/><polygon points="553.7,1224.2 565.9,1220.2 557.2,1211.7 545.1,1215.1" fill="#fff6f6"/><polygon points="194.0,1122.6 207.0,1110.6 200.5,1108.4 187.6,1120.0" fill="#ff5f5f"/><polygon points="389.6,1136.4 402.2,1140.8 394.4,1130.9 381.8,1126.2" fill="#ff7979"/><polygon points="307.3,1096.5 320.4,1092.9 313.0,1084.6 299.9,1088.7" fill="#ff3a3a"/><polygon points="162.7,1184.5 175.1,1162.6 168.7,1158.1 156.3,1178.6" fill="#ffaaaa"/><polygon points="240.1,1098.7 253.3,1093.8 246.5,1090.6 233.3,1095.6" fill="#ff3e3e"/><polygon points="369.0,1124.1 381.8,1126.2 374.1,1115.9 361.3,1113.6" fill="#ff6464"/><polygon points="144.4,1232.5 156.8,1212.7 150.3,1205.1 137.8,1221.9" fill="#ffeded"/><polygon points="273.6,1095.2 286.8,1092.0 279.7,1086.8 266.5,1089.9" fill="#ff3939"/><polygon points="520.7,1218.2 532.9,1217.2 524.5,1207.2 512.4,1206.8" fill="#ffe8e8"/><polygon points="348.4,1113.5 361.3,1113.6 353.8,1101.5 340.8,1101.5" fill="#ff5050"/><polygon points="327.8,1103.8 340.8,1101.5 333.3,1089.3 320.4,1092.9" fill="#ff4141"/><polygon points="438.5,1174.6 450.9,1175.9 442.8,1167.9 430.4,1164.8" fill="#ffabab"/><polygon points="459.1,1184.4 471.5,1184.4 463.3,1177.4 450.9,1175.9" fill="#ffb9b9"/><polygon points="500.3,1205.8 512.4,1206.8 504.1,1196.3 492.1,1194.2" fill="#ffd7d7"/><polygon points="541.4,1227.2 553.7,1224.2 545.1,1215.1 532.9,1217.2" fill="#fff4f4"/><polygon points="417.9,1162.3 430.4,1164.8 422.5,1155.7 410.0,1151.3" fill="#ff9898"/><polygon points="479.9,1191.2 492.1,1194.2 483.7,1185.9 471.5,1184.4" fill="#ffc4c4"/><polygon points="226.8,1104.9 240.1,1098.7 233.3,1095.6 220.1,1102.0" fill="#ff4242"/><polygon points="175.1,1162.6 187.6,1141.5 181.2,1138.7 168.7,1158.1" fill="#ff8888"/><polygon points="156.8,1212.7 169.2,1191.0 162.7,1184.5 150.3,1205.1" fill="#ffcccc"/><polygon points="294.1,1099.5 307.3,1096.5 299.9,1088.7 286.8,1092.0" fill="#ff3939"/><polygon points="562.4,1233.5 574.7,1229.2 565.9,1220.2 553.7,1224.2" fill="#fff9f9"/><polygon points="397.4,1148.3 410.0,1151.3 402.2,1140.8 389.6,1136.4" fill="#ff8181"/><polygon points="260.4,1099.0 273.6,1095.2 266.5,1089.9 253.3,1093.8" fill="#ff3838"/><polygon points="213.5,1112.5 226.8,1104.9 220.1,1102.0 207.0,1110.6" fill="#ff4949"/><polygon points="314.7,1106.5 327.8,1103.8 320.4,1092.9 307.3,1096.5" fill="#ff3f3f"/><polygon points="376.8,1133.2 389.6,1136.4 381.8,1126.2 369.0,1124.1" fill="#ff6a6a"/><polygon points="187.6,1141.5 200.4,1123.7 194.0,1122.6 181.2,1138.7" fill="#ff6a6a"/><polygon points="356.1,1124.9 369.0,1124.1 361.3,1113.6 348.4,1113.5" fill="#ff5a5a"/><polygon points="335.4,1115.3 348.4,1113.5 340.8,1101.5 327.8,1103.8" fill="#ff4b4b"/><polygon points="529.1,1229.6 541.4,1227.2 532.9,1217.2 520.7,1218.2" fill="#ffefef"/><polygon points="200.4,1123.7 213.5,1112.5 207.0,1110.6 194.0,1122.6" fill="#ff5555"/><polygon points="508.5,1218.8 520.7,1218.2 512.4,1206.8 500.3,1205.8" fill="#ffe0e0"/><polygon points="169.2,1191.0 181.7,1168.3 175.1,1162.6 162.7,1184.5" fill="#ffa8a8"/><polygon points="446.5,1185.1 459.1,1184.4 450.9,1175.9 438.5,1174.6" fill="#ffb0b0"/><polygon points="150.5,1235.8 163.3,1218.9 156.8,1212.7 144.4,1232.5" fill="#ffecec"/><polygon points="280.9,1102.7 294.1,1099.5 286.8,1092.0 273.6,1095.2" fill="#ff3838"/><polygon points="425.9,1173.8 438.5,1174.6 430.4,1164.8 417.9,1162.3" fill="#ff9f9f"/><polygon points="550.1,1236.8 562.4,1233.5 553.7,1224.2 541.4,1227.2" fill="#fff8f8"/><polygon points="488.0,1205.3 500.3,1205.8 492.1,1194.2 479.9,1191.2" fill="#ffcbcb"/><polygon points="247.1,1103.9 260.4,1099.0 253.3,1093.8 240.1,1098.7" fill="#ff3939"/><polygon points="467.3,1194.4 479.9,1191.2 471.5,1184.4 459.1,1184.4" fill="#ffbbbb"/><polygon points="405.2,1161.2 417.9,1162.3 410.0,1151.3 397.4,1148.3" fill="#ff8b8b"/><polygon points="301.5,1109.3 314.7,1106.5 307.3,1096.5 294.1,1099.5" fill="#ff3e3e"/><polygon points="571.2,1241.7 583.5,1238.5 574.7,1229.2 562.4,1233.5" fill="#fffdfd"/><polygon points="163.3,1218.9 175.8,1198.1 169.2,1191.0 156.8,1212.7" fill="#ffcbcb"/><polygon points="322.3,1118.0 335.4,1115.3 327.8,1103.8 314.7,1106.5" fill="#ff4848"/><polygon points="384.5,1147.6 397.4,1148.3 389.6,1136.4 376.8,1133.2" fill="#ff7373"/><polygon points="343.0,1127.4 356.1,1124.9 348.4,1113.5 335.4,1115.3" fill="#ff5555"/><polygon points="233.7,1109.8 247.1,1103.9 240.1,1098.7 226.8,1104.9" fill="#ff3d3d"/><polygon points="363.8,1136.7 376.8,1133.2 369.0,1124.1 356.1,1124.9" fill="#ff6262"/><polygon points="181.7,1168.3 194.2,1145.7 187.6,1141.5 175.1,1162.6" fill="#ff8282"/><polygon points="516.8,1231.7 529.1,1229.6 520.7,1218.2 508.5,1218.8" fill="#ffeaea"/><polygon points="267.6,1106.7 280.9,1102.7 273.6,1095.2 260.4,1099.0" fill="#ff3838"/><polygon points="537.7,1240.2 550.1,1236.8 541.4,1227.2 529.1,1229.6" fill="#fff6f6"/><polygon points="496.1,1219.7 508.5,1218.8 500.3,1205.8 488.0,1205.3" fill="#ffd7d7"/><polygon points="433.9,1186.0 446.5,1185.1 438.5,1174.6 425.9,1173.8" fill="#ffa7a7"/><polygon points="454.6,1196.9 467.3,1194.4 459.1,1184.4 446.5,1185.1" fill="#ffb6b6"/><polygon points="475.4,1207.1 488.0,1205.3 479.9,1191.2 467.3,1194.4" fill="#ffc3c3"/><polygon points="413.1,1174.3 425.9,1173.8 417.9,1162.3 405.2,1161.2" fill="#ff9595"/><polygon points="220.3,1116.4 233.7,1109.8 226.8,1104.9 213.5,1112.5" fill="#ff4242"/><polygon points="288.2,1112.3 301.5,1109.3 294.1,1099.5 280.9,1102.7" fill="#ff3c3c"/><polygon points="558.9,1245.3 571.2,1241.7 562.4,1233.5 550.1,1236.8" fill="#fffbfb"/><polygon points="175.8,1198.1 188.4,1176.1 181.7,1168.3 169.2,1191.0" fill="#ffa7a7"/><polygon points="309.0,1120.6 322.3,1118.0 314.7,1106.5 301.5,1109.3" fill="#ff4545"/><polygon points="392.3,1162.0 405.2,1161.2 397.4,1148.3 384.5,1147.6" fill="#ff8181"/><polygon points="194.2,1145.7 206.9,1123.5 200.4,1123.7 187.6,1141.5" fill="#ff6060"/><polygon points="254.2,1111.7 267.6,1106.7 260.4,1099.0 247.1,1103.9" fill="#ff3939"/><polygon points="156.9,1241.3 169.8,1225.5 163.3,1218.9 150.5,1235.8" fill="#ffe8e8"/><polygon points="329.8,1130.2 343.0,1127.4 335.4,1115.3 322.3,1118.0" fill="#ff5252"/><polygon points="206.9,1123.5 220.3,1116.4 213.5,1112.5 200.4,1123.7" fill="#ff4b4b"/><polygon points="350.7,1140.2 363.8,1136.7 356.1,1124.9 343.0,1127.4" fill="#ff5f5f"/><polygon points="371.5,1150.3 384.5,1147.6 376.8,1133.2 363.8,1136.7" fill="#ff6d6d"/><polygon points="525.2,1243.9 537.7,1240.2 529.1,1229.6 516.8,1231.7" fill="#fff3f3"/><polygon points="504.3,1233.8 516.8,1231.7 508.5,1218.8 496.1,1219.7" fill="#ffe4e4"/><polygon points="483.6,1221.6 496.1,1219.7 488.0,1205.3 475.4,1207.1" fill="#ffd1d1"/><polygon points="274.9,1116.7 288.2,1112.3 280.9,1102.7 267.6,1106.7" fill="#ff3c3c"/><polygon points="169.8,1225.5 182.6,1206.1 175.8,1198.1 163.3,1218.9" fill="#ffcbcb"/><polygon points="441.9,1199.2 454.6,1196.9 446.5,1185.1 433.9,1186.0" fill="#ffb1b1"/><polygon points="462.7,1210.0 475.4,1207.1 467.3,1194.4 454.6,1196.9" fill="#ffc0c0"/><polygon points="240.8,1117.9 254.2,1111.7 247.1,1103.9 233.7,1109.8" fill="#ff3c3c"/><polygon points="546.4,1249.4 558.9,1245.3 550.1,1236.8 537.7,1240.2" fill="#fffafa"/><polygon points="421.0,1187.7 433.9,1186.0 425.9,1173.8 413.1,1174.3" fill="#ffa0a0"/><polygon points="188.4,1176.1 201.1,1154.7 194.2,1145.7 181.7,1168.3" fill="#ff8282"/><polygon points="400.2,1176.5 413.1,1174.3 405.2,1161.2 392.3,1162.0" fill="#ff8e8e"/><polygon points="295.7,1123.6 309.0,1120.6 301.5,1109.3 288.2,1112.3" fill="#ff4343"/><polygon points="316.6,1133.1 329.8,1130.2 322.3,1118.0 309.0,1120.6" fill="#ff5050"/><polygon points="379.3,1165.1 392.3,1162.0 384.5,1147.6 371.5,1150.3" fill="#ff7b7b"/><polygon points="337.5,1143.6 350.7,1140.2 343.0,1127.4 329.8,1130.2" fill="#ff5d5d"/><polygon points="358.4,1154.4 371.5,1150.3 363.8,1136.7 350.7,1140.2" fill="#ff6c6c"/><polygon points="227.4,1125.6 240.8,1117.9 233.7,1109.8 220.3,1116.4" fill="#ff4242"/><polygon points="512.6,1247.3 525.2,1243.9 516.8,1231.7 504.3,1233.8" fill="#fff0f0"/><polygon points="261.5,1121.9 274.9,1116.7 267.6,1106.7 254.2,1111.7" fill="#ff3d3d"/><polygon points="182.6,1206.1 195.3,1185.3 188.4,1176.1 175.8,1198.1" fill="#ffa8a8"/><polygon points="491.7,1236.1 504.3,1233.8 496.1,1219.7 483.6,1221.6" fill="#ffdfdf"/><polygon points="201.1,1154.7 214.1,1136.9 206.9,1123.5 194.2,1145.7" fill="#ff5f5f"/><polygon points="470.9,1224.4 483.6,1221.6 475.4,1207.1 462.7,1210.0" fill="#ffcdcd"/><polygon points="533.8,1254.2 546.4,1249.4 537.7,1240.2 525.2,1243.9" fill="#fff9f9"/><polygon points="449.9,1213.1 462.7,1210.0 454.6,1196.9 441.9,1199.2" fill="#ffbdbd"/><polygon points="163.5,1249.0 176.5,1233.8 169.8,1225.5 156.9,1241.3" fill="#ffe7e7"/><polygon points="429.0,1201.6 441.9,1199.2 433.9,1186.0 421.0,1187.7" fill="#ffacac"/><polygon points="214.1,1136.9 227.4,1125.6 220.3,1116.4 206.9,1123.5" fill="#ff4a4a"/><polygon points="282.3,1128.3 295.7,1123.6 288.2,1112.3 274.9,1116.7" fill="#ff4343"/><polygon points="408.1,1190.8 421.0,1187.7 413.1,1174.3 400.2,1176.5" fill="#ff9c9c"/><polygon points="387.1,1180.3 400.2,1176.5 392.3,1162.0 379.3,1165.1" fill="#ff8b8b"/><polygon points="366.2,1169.7 379.3,1165.1 371.5,1150.3 358.4,1154.4" fill="#ff7b7b"/><polygon points="303.2,1136.1 316.6,1133.1 309.0,1120.6 295.7,1123.6" fill="#ff4e4e"/><polygon points="345.2,1158.4 358.4,1154.4 350.7,1140.2 337.5,1143.6" fill="#ff6b6b"/><polygon points="324.2,1146.6 337.5,1143.6 329.8,1130.2 316.6,1133.1" fill="#ff5c5c"/><polygon points="248.0,1128.5 261.5,1121.9 254.2,1111.7 240.8,1117.9" fill="#ff4141"/><polygon points="176.5,1233.8 189.4,1215.2 182.6,1206.1 169.8,1225.5" fill="#ffcccc"/><polygon points="195.3,1185.3 208.2,1165.7 201.1,1154.7 188.4,1176.1" fill="#ff8686"/><polygon points="500.0,1249.8 512.6,1247.3 504.3,1233.8 491.7,1236.1" fill="#ffecec"/><polygon points="521.0,1260.0 533.8,1254.2 525.2,1243.9 512.6,1247.3" fill="#fff9f9"/><polygon points="479.0,1239.0 491.7,1236.1 483.6,1221.6 470.9,1224.4" fill="#ffdbdb"/><polygon points="268.9,1133.9 282.3,1128.3 274.9,1116.7 261.5,1121.9" fill="#ff4545"/><polygon points="458.0,1227.9 470.9,1224.4 462.7,1210.0 449.9,1213.1" fill="#ffcaca"/><polygon points="234.6,1137.2 248.0,1128.5 240.8,1117.9 227.4,1125.6" fill="#ff4848"/><polygon points="437.1,1216.5 449.9,1213.1 441.9,1199.2 429.0,1201.6" fill="#ffbaba"/><polygon points="208.2,1165.7 221.3,1149.4 214.1,1136.9 201.1,1154.7" fill="#ff6868"/><polygon points="395.0,1195.8 408.1,1190.8 400.2,1176.5 387.1,1180.3" fill="#ff9a9a"/><polygon points="416.1,1204.8 429.0,1201.6 421.0,1187.7 408.1,1190.8" fill="#ffa9a9"/><polygon points="374.0,1185.5 387.1,1180.3 379.3,1165.1 366.2,1169.7" fill="#ff8b8b"/><polygon points="189.4,1215.2 202.3,1195.3 195.3,1185.3 182.6,1206.1" fill="#ffacac"/><polygon points="353.0,1174.6 366.2,1169.7 358.4,1154.4 345.2,1158.4" fill="#ff7b7b"/><polygon points="221.3,1149.4 234.6,1137.2 227.4,1125.6 214.1,1136.9" fill="#ff5454"/><polygon points="289.8,1141.0 303.2,1136.1 295.7,1123.6 282.3,1128.3" fill="#ff4d4d"/><polygon points="331.9,1162.2 345.2,1158.4 337.5,1143.6 324.2,1146.6" fill="#ff6a6a"/><polygon points="310.9,1149.4 324.2,1146.6 316.6,1133.1 303.2,1136.1" fill="#ff5959"/><polygon points="170.3,1258.7 183.4,1243.7 176.5,1233.8 163.5,1249.0" fill="#ffe9e9"/><polygon points="255.4,1140.5 268.9,1133.9 261.5,1121.9 248.0,1128.5" fill="#ff4949"/><polygon points="487.3,1252.6 500.0,1249.8 491.7,1236.1 479.0,1239.0" fill="#ffe9e9"/><polygon points="508.5,1261.4 521.0,1260.0 512.6,1247.3 500.0,1249.8" fill="#fff7f7"/><polygon points="202.3,1195.3 215.4,1176.5 208.2,1165.7 195.3,1185.3" fill="#ff8c8c"/><polygon points="466.2,1242.7 479.0,1239.0 470.9,1224.4 458.0,1227.9" fill="#ffd9d9"/><polygon points="183.4,1243.7 196.4,1225.2 189.4,1215.2 176.5,1233.8" fill="#ffd0d0"/><polygon points="445.1,1231.8 458.0,1227.9 449.9,1213.1 437.1,1216.5" fill="#ffc9c9"/><polygon points="381.8,1201.7 395.0,1195.8 387.1,1180.3 374.0,1185.5" fill="#ff9c9c"/><polygon points="360.7,1191.3 374.0,1185.5 366.2,1169.7 353.0,1174.6" fill="#ff8d8d"/><polygon points="402.9,1211.3 416.1,1204.8 408.1,1190.8 395.0,1195.8" fill="#ffaaaa"/><polygon points="424.0,1220.8 437.1,1216.5 429.0,1201.6 416.1,1204.8" fill="#ffb8b8"/><polygon points="276.4,1147.0 289.8,1141.0 282.3,1128.3 268.9,1133.9" fill="#ff5050"/><polygon points="339.7,1179.3 353.0,1174.6 345.2,1158.4 331.9,1162.2" fill="#ff7c7c"/><polygon points="241.9,1149.1 255.4,1140.5 248.0,1128.5 234.6,1137.2" fill="#ff5151"/><polygon points="318.5,1166.1 331.9,1162.2 324.2,1146.6 310.9,1149.4" fill="#ff6969"/><polygon points="297.4,1155.1 310.9,1149.4 303.2,1136.1 289.8,1141.0" fill="#ff5a5a"/><polygon points="215.4,1176.5 228.6,1161.0 221.3,1149.4 208.2,1165.7" fill="#ff7171"/><polygon points="228.6,1161.0 241.9,1149.1 234.6,1137.2 221.3,1149.4" fill="#ff5d5d"/><polygon points="196.4,1225.2 209.4,1205.8 202.3,1195.3 189.4,1215.2" fill="#ffb1b1"/><polygon points="368.6,1207.9 381.8,1201.7 374.0,1185.5 360.7,1191.3" fill="#ff9f9f"/><polygon points="262.9,1153.6 276.4,1147.0 268.9,1133.9 255.4,1140.5" fill="#ff5454"/><polygon points="389.7,1217.9 402.9,1211.3 395.0,1195.8 381.8,1201.7" fill="#ffadad"/><polygon points="347.4,1197.0 360.7,1191.3 353.0,1174.6 339.7,1179.3" fill="#ff8f8f"/><polygon points="453.2,1247.2 466.2,1242.7 458.0,1227.9 445.1,1231.8" fill="#ffd8d8"/><polygon points="474.4,1256.7 487.3,1252.6 479.0,1239.0 466.2,1242.7" fill="#ffe7e7"/><polygon points="410.9,1227.0 424.0,1220.8 416.1,1204.8 402.9,1211.3" fill="#ffbaba"/><polygon points="432.1,1236.5 445.1,1231.8 437.1,1216.5 424.0,1220.8" fill="#ffc8c8"/><polygon points="177.3,1270.5 190.4,1253.9 183.4,1243.7 170.3,1258.7" fill="#ffefef"/><polygon points="495.8,1264.2 508.5,1261.4 500.0,1249.8 487.3,1252.6" fill="#fff3f3"/><polygon points="326.3,1184.0 339.7,1179.3 331.9,1162.2 318.5,1166.1" fill="#ff7c7c"/><polygon points="283.9,1161.4 297.4,1155.1 289.8,1141.0 276.4,1147.0" fill="#ff5d5d"/><polygon points="305.1,1171.3 318.5,1166.1 310.9,1149.4 297.4,1155.1" fill="#ff6a6a"/><polygon points="209.4,1205.8 222.5,1187.0 215.4,1176.5 202.3,1195.3" fill="#ff9393"/><polygon points="249.3,1161.1 262.9,1153.6 255.4,1140.5 241.9,1149.1" fill="#ff5b5b"/><polygon points="190.4,1253.9 203.5,1235.9 196.4,1225.2 183.4,1243.7" fill="#ffd5d5"/><polygon points="355.3,1214.3 368.6,1207.9 360.7,1191.3 347.4,1197.0" fill="#ffa3a3"/><polygon points="376.4,1224.3 389.7,1217.9 381.8,1201.7 368.6,1207.9" fill="#ffb2b2"/><polygon points="397.7,1233.6 410.9,1227.0 402.9,1211.3 389.7,1217.9" fill="#ffbebe"/><polygon points="334.1,1202.3 347.4,1197.0 339.7,1179.3 326.3,1184.0" fill="#ff9191"/><polygon points="222.5,1187.0 235.8,1171.5 228.6,1161.0 215.4,1176.5" fill="#ff7878"/><polygon points="235.8,1171.5 249.3,1161.1 241.9,1149.1 228.6,1161.0" fill="#ff6666"/><polygon points="418.9,1242.5 432.1,1236.5 424.0,1220.8 410.9,1227.0" fill="#ffcaca"/><polygon points="440.1,1252.3 453.2,1247.2 445.1,1231.8 432.1,1236.5" fill="#ffd9d9"/><polygon points="270.4,1168.0 283.9,1161.4 276.4,1147.0 262.9,1153.6" fill="#ff6262"/><polygon points="461.4,1262.0 474.4,1256.7 466.2,1242.7 453.2,1247.2" fill="#ffe7e7"/><polygon points="312.8,1189.3 326.3,1184.0 318.5,1166.1 305.1,1171.3" fill="#ff7e7e"/><polygon points="291.6,1177.6 305.1,1171.3 297.4,1155.1 283.9,1161.4" fill="#ff6d6d"/><polygon points="203.5,1235.9 216.7,1217.3 209.4,1205.8 196.4,1225.2" fill="#ffb8b8"/><polygon points="482.8,1268.6 495.8,1264.2 487.3,1252.6 474.4,1256.7" fill="#fff1f1"/><polygon points="363.1,1230.6 376.4,1224.3 368.6,1207.9 355.3,1214.3" fill="#ffb6b6"/><polygon points="341.9,1220.2 355.3,1214.3 347.4,1197.0 334.1,1202.3" fill="#ffa6a6"/><polygon points="384.4,1240.0 397.7,1233.6 389.7,1217.9 376.4,1224.3" fill="#ffc3c3"/><polygon points="256.8,1174.5 270.4,1168.0 262.9,1153.6 249.3,1161.1" fill="#ff6767"/><polygon points="320.6,1207.9 334.1,1202.3 326.3,1184.0 312.8,1189.3" fill="#ff9393"/><polygon points="405.7,1249.0 418.9,1242.5 410.9,1227.0 397.7,1233.6" fill="#ffcfcf"/><polygon points="183.9,1275.6 197.4,1262.9 190.4,1253.9 177.3,1270.5" fill="#fff2f2"/><polygon points="216.7,1217.3 229.8,1198.8 222.5,1187.0 209.4,1205.8" fill="#ff9a9a"/><polygon points="427.0,1257.9 440.1,1252.3 432.1,1236.5 418.9,1242.5" fill="#ffdbdb"/><polygon points="299.3,1195.3 312.8,1189.3 305.1,1171.3 291.6,1177.6" fill="#ff8181"/><polygon points="278.0,1184.3 291.6,1177.6 283.9,1161.4 270.4,1168.0" fill="#ff7272"/><polygon points="448.3,1267.7 461.4,1262.0 453.2,1247.2 440.1,1252.3" fill="#ffe8e8"/><polygon points="197.4,1262.9 210.7,1247.2 203.5,1235.9 190.4,1253.9" fill="#ffdada"/><polygon points="469.8,1274.6 482.8,1268.6 474.4,1256.7 461.4,1262.0" fill="#fff2f2"/><polygon points="349.7,1236.9 363.1,1230.6 355.3,1214.3 341.9,1220.2" fill="#ffbaba"/><polygon points="243.1,1180.9 256.8,1174.5 249.3,1161.1 235.8,1171.5" fill="#ff6e6e"/><polygon points="371.0,1246.3 384.4,1240.0 376.4,1224.3 363.1,1230.6" fill="#ffc7c7"/><polygon points="328.4,1225.8 341.9,1220.2 334.1,1202.3 320.6,1207.9" fill="#ffa9a9"/><polygon points="229.8,1198.8 243.1,1180.9 235.8,1171.5 222.5,1187.0" fill="#ff7f7f"/><polygon points="392.4,1255.5 405.7,1249.0 397.7,1233.6 384.4,1240.0" fill="#ffd3d3"/><polygon points="307.1,1213.7 320.6,1207.9 312.8,1189.3 299.3,1195.3" fill="#ff9696"/><polygon points="210.7,1247.2 224.0,1230.6 216.7,1217.3 203.5,1235.9" fill="#ffc0c0"/><polygon points="264.4,1191.3 278.0,1184.3 270.4,1168.0 256.8,1174.5" fill="#ff7777"/><polygon points="285.7,1202.0 299.3,1195.3 291.6,1177.6 278.0,1184.3" fill="#ff8585"/><polygon points="413.7,1263.9 427.0,1257.9 418.9,1242.5 405.7,1249.0" fill="#ffdede"/><polygon points="435.1,1272.6 448.3,1267.7 440.1,1252.3 427.0,1257.9" fill="#ffeaea"/><polygon points="456.5,1282.3 469.8,1274.6 461.4,1262.0 448.3,1267.7" fill="#fff6f6"/><polygon points="224.0,1230.6 237.4,1214.3 229.8,1198.8 216.7,1217.3" fill="#ffa5a5"/><polygon points="336.2,1242.4 349.7,1236.9 341.9,1220.2 328.4,1225.8" fill="#ffbdbd"/><polygon points="357.6,1252.3 371.0,1246.3 363.1,1230.6 349.7,1236.9" fill="#ffcbcb"/><polygon points="314.9,1231.6 328.4,1225.8 320.6,1207.9 307.1,1213.7" fill="#ffacac"/><polygon points="379.0,1261.6 392.4,1255.5 384.4,1240.0 371.0,1246.3" fill="#ffd7d7"/><polygon points="250.8,1200.3 264.4,1191.3 256.8,1174.5 243.1,1180.9" fill="#ff7d7d"/><polygon points="293.5,1220.3 307.1,1213.7 299.3,1195.3 285.7,1202.0" fill="#ff9a9a"/><polygon points="272.1,1209.6 285.7,1202.0 278.0,1184.3 264.4,1191.3" fill="#ff8b8b"/><polygon points="237.4,1214.3 250.8,1200.3 243.1,1180.9 229.8,1198.8" fill="#ff8c8c"/><polygon points="400.4,1270.2 413.7,1263.9 405.7,1249.0 392.4,1255.5" fill="#ffe2e2"/><polygon points="204.5,1272.3 218.0,1259.2 210.7,1247.2 197.4,1262.9" fill="#ffe0e0"/><polygon points="190.8,1282.8 204.5,1272.3 197.4,1262.9 183.9,1275.6" fill="#fff1f1"/><polygon points="421.9,1277.7 435.1,1272.6 427.0,1257.9 413.7,1263.9" fill="#ffecec"/><polygon points="218.0,1259.2 231.5,1245.0 224.0,1230.6 210.7,1247.2" fill="#ffcaca"/><polygon points="322.7,1248.5 336.2,1242.4 328.4,1225.8 314.9,1231.6" fill="#ffbfbf"/><polygon points="258.5,1219.2 272.1,1209.6 264.4,1191.3 250.8,1200.3" fill="#ff9393"/><polygon points="443.4,1285.1 456.5,1282.3 448.3,1267.7 435.1,1272.6" fill="#fff7f7"/><polygon points="344.1,1258.0 357.6,1252.3 349.7,1236.9 336.2,1242.4" fill="#ffcece"/><polygon points="301.3,1238.6 314.9,1231.6 307.1,1213.7 293.5,1220.3" fill="#ffb0b0"/><polygon points="279.9,1228.4 293.5,1220.3 285.7,1202.0 272.1,1209.6" fill="#ffa0a0"/><polygon points="231.5,1245.0 245.0,1231.2 237.4,1214.3 224.0,1230.6" fill="#ffb4b4"/><polygon points="365.5,1267.3 379.0,1261.6 371.0,1246.3 357.6,1252.3" fill="#ffdada"/><polygon points="245.0,1231.2 258.5,1219.2 250.8,1200.3 237.4,1214.3" fill="#ffa1a1"/><polygon points="387.0,1276.1 400.4,1270.2 392.4,1255.5 379.0,1261.6" fill="#ffe6e6"/><polygon points="266.3,1237.9 279.9,1228.4 272.1,1209.6 258.5,1219.2" fill="#ffa9a9"/><polygon points="408.6,1283.2 421.9,1277.7 413.7,1263.9 400.4,1270.2" fill="#ffefef"/><polygon points="287.7,1246.9 301.3,1238.6 293.5,1220.3 279.9,1228.4" fill="#ffb6b6"/><polygon points="309.1,1255.7 322.7,1248.5 314.9,1231.6 301.3,1238.6" fill="#ffc4c4"/><polygon points="330.5,1264.0 344.1,1258.0 336.2,1242.4 322.7,1248.5" fill="#ffd0d0"/><polygon points="252.6,1248.4 266.3,1237.9 258.5,1219.2 245.0,1231.2" fill="#ffb5b5"/><polygon points="352.0,1272.9 365.5,1267.3 357.6,1252.3 344.1,1258.0" fill="#ffdddd"/><polygon points="239.0,1259.8 252.6,1248.4 245.0,1231.2 231.5,1245.0" fill="#ffc5c5"/><polygon points="430.2,1289.0 443.4,1285.1 435.1,1272.6 421.9,1277.7" fill="#fff7f7"/><polygon points="225.4,1271.6 239.0,1259.8 231.5,1245.0 218.0,1259.2" fill="#ffd6d6"/><polygon points="211.7,1282.6 225.4,1271.6 218.0,1259.2 204.5,1272.3" fill="#ffe6e6"/><polygon points="274.0,1256.0 287.7,1246.9 279.9,1228.4 266.3,1237.9" fill="#ffbfbf"/><polygon points="373.6,1281.5 387.0,1276.1 379.0,1261.6 365.5,1267.3" fill="#ffe8e8"/><polygon points="295.4,1264.1 309.1,1255.7 301.3,1238.6 287.7,1246.9" fill="#ffcaca"/><polygon points="197.9,1291.4 211.7,1282.6 204.5,1272.3 190.8,1282.8" fill="#fff3f3"/><polygon points="395.1,1289.0 408.6,1283.2 400.4,1270.2 387.0,1276.1" fill="#fff1f1"/><polygon points="260.3,1265.0 274.0,1256.0 266.3,1237.9 252.6,1248.4" fill="#ffc9c9"/><polygon points="316.9,1270.9 330.5,1264.0 322.7,1248.5 309.1,1255.7" fill="#ffd5d5"/><polygon points="338.4,1278.4 352.0,1272.9 344.1,1258.0 330.5,1264.0" fill="#ffdfdf"/><polygon points="281.8,1273.5 295.4,1264.1 287.7,1246.9 274.0,1256.0" fill="#ffd3d3"/><polygon points="246.6,1274.5 260.3,1265.0 252.6,1248.4 239.0,1259.8" fill="#ffd5d5"/><polygon points="416.9,1293.8 430.2,1289.0 421.9,1277.7 408.6,1283.2" fill="#fff7f7"/><polygon points="360.0,1286.6 373.6,1281.5 365.5,1267.3 352.0,1272.9" fill="#ffeaea"/><polygon points="232.8,1284.2 246.6,1274.5 239.0,1259.8 225.4,1271.6" fill="#ffe1e1"/><polygon points="303.2,1278.5 316.9,1270.9 309.1,1255.7 295.4,1264.1" fill="#ffdbdb"/><polygon points="381.7,1294.4 395.1,1289.0 387.0,1276.1 373.6,1281.5" fill="#fff4f4"/><polygon points="268.0,1280.5 281.8,1273.5 274.0,1256.0 260.3,1265.0" fill="#ffdcdc"/><polygon points="219.0,1293.4 232.8,1284.2 225.4,1271.6 211.7,1282.6" fill="#ffeded"/><polygon points="324.8,1284.5 338.4,1278.4 330.5,1264.0 316.9,1270.9" fill="#ffe2e2"/><polygon points="289.5,1286.3 303.2,1278.5 295.4,1264.1 281.8,1273.5" fill="#ffe3e3"/><polygon points="403.4,1299.2 416.9,1293.8 408.6,1283.2 395.1,1289.0" fill="#fff9f9"/><polygon points="254.1,1288.2 268.0,1280.5 260.3,1265.0 246.6,1274.5" fill="#ffe3e3"/><polygon points="346.4,1291.7 360.0,1286.6 352.0,1272.9 338.4,1278.4" fill="#ffecec"/><polygon points="205.0,1300.9 219.0,1293.4 211.7,1282.6 197.9,1291.4" fill="#fff7f7"/><polygon points="368.1,1298.7 381.7,1294.4 373.6,1281.5 360.0,1286.6" fill="#fff5f5"/><polygon points="311.0,1291.2 324.8,1284.5 316.9,1270.9 303.2,1278.5" fill="#ffe7e7"/><polygon points="275.6,1293.6 289.5,1286.3 281.8,1273.5 268.0,1280.5" fill="#ffe9e9"/><polygon points="240.3,1296.2 254.1,1288.2 246.6,1274.5 232.8,1284.2" fill="#ffecec"/><polygon points="389.9,1305.3 403.4,1299.2 395.1,1289.0 381.7,1294.4" fill="#fffbfb"/><polygon points="332.7,1297.0 346.4,1291.7 338.4,1278.4 324.8,1284.5" fill="#ffeeee"/><polygon points="226.3,1303.9 240.3,1296.2 232.8,1284.2 219.0,1293.4" fill="#fff4f4"/><polygon points="297.2,1298.1 311.0,1291.2 303.2,1278.5 289.5,1286.3" fill="#ffecec"/><polygon points="261.7,1300.4 275.6,1293.6 268.0,1280.5 254.1,1288.2" fill="#ffefef"/><polygon points="354.4,1303.2 368.1,1298.7 360.0,1286.6 346.4,1291.7" fill="#fff5f5"/><polygon points="212.3,1310.8 226.3,1303.9 219.0,1293.4 205.0,1300.9" fill="#fffbfb"/><polygon points="318.9,1303.0 332.7,1297.0 324.8,1284.5 311.0,1291.2" fill="#fff0f0"/><polygon points="376.3,1308.3 389.9,1305.3 381.7,1294.4 368.1,1298.7" fill="#fffbfb"/><polygon points="283.3,1304.9 297.2,1298.1 289.5,1286.3 275.6,1293.6" fill="#fff2f2"/><polygon points="247.8,1307.2 261.7,1300.4 254.1,1288.2 240.3,1296.2" fill="#fff4f4"/><polygon points="340.7,1308.2 354.4,1303.2 346.4,1291.7 332.7,1297.0" fill="#fff6f6"/><polygon points="305.0,1309.3 318.9,1303.0 311.0,1291.2 297.2,1298.1" fill="#fff4f4"/><polygon points="233.7,1313.6 247.8,1307.2 240.3,1296.2 226.3,1303.9" fill="#fff9f9"/><polygon points="269.4,1311.4 283.3,1304.9 275.6,1293.6 261.7,1300.4" fill="#fff6f6"/><polygon points="362.6,1312.4 376.3,1308.3 368.1,1298.7 354.4,1303.2" fill="#fffafa"/><polygon points="326.8,1313.8 340.7,1308.2 332.7,1297.0 318.9,1303.0" fill="#fff7f7"/><polygon points="291.1,1315.5 305.0,1309.3 297.2,1298.1 283.3,1304.9" fill="#fff8f8"/><polygon points="219.5,1318.8 233.7,1313.6 226.3,1303.9 212.3,1310.8" fill="#fffdfd"/><polygon points="255.3,1317.5 269.4,1311.4 261.7,1300.4 247.8,1307.2" fill="#fffafa"/><polygon points="348.8,1317.2 362.6,1312.4 354.4,1303.2 340.7,1308.2" fill="#fff9f9"/><polygon points="312.9,1319.7 326.8,1313.8 318.9,1303.0 305.0,1309.3" fill="#fffafa"/><polygon points="277.1,1321.4 291.1,1315.5 283.3,1304.9 269.4,1311.4" fill="#fffbfb"/><polygon points="241.2,1323.0 255.3,1317.5 247.8,1307.2 233.7,1313.6" fill="#fffdfd"/><polygon points="334.9,1322.8 348.8,1317.2 340.7,1308.2 326.8,1313.8" fill="#fffbfb"/><polygon points="298.9,1325.1 312.9,1319.7 305.0,1309.3 291.1,1315.5" fill="#fffcfc"/><polygon points="262.9,1327.1 277.1,1321.4 269.4,1311.4 255.3,1317.5" fill="#fffefe"/><polygon points="226.9,1327.4 241.2,1323.0 233.7,1313.6 219.5,1318.8" fill="#fffefe"/><polygon points="320.9,1329.1 334.9,1322.8 326.8,1313.8 312.9,1319.7" fill="#fffdfd"/><polygon points="284.8,1330.4 298.9,1325.1 291.1,1315.5 277.1,1321.4" fill="#fffefe"/><polygon points="248.7,1332.2 262.9,1327.1 255.3,1317.5 241.2,1323.0" fill="#ffffff"/><polygon points="306.8,1333.2 320.9,1329.1 312.9,1319.7 298.9,1325.1" fill="#fffefe"/><polygon points="270.6,1335.8 284.8,1330.4 277.1,1321.4 262.9,1327.1" fill="#ffffff"/><polygon points="234.3,1336.1 248.7,1332.2 241.2,1323.0 226.9,1327.4" fill="#ffffff"/><polygon points="292.6,1338.0 306.8,1333.2 298.9,1325.1 284.8,1330.4" fill="#fffefe"/><polygon points="256.3,1340.9 270.6,1335.8 262.9,1327.1 248.7,1332.2" fill="#fefffe"/><polygon points="278.3,1343.1 292.6,1338.0 284.8,1330.4 270.6,1335.8" fill="#ffffff"/><polygon points="241.8,1345.0 256.3,1340.9 248.7,1332.2 234.3,1336.1" fill="#fefffe"/><polygon points="263.9,1348.4 278.3,1343.1 270.6,1335.8 256.3,1340.9" fill="#ffffff"/><polygon points="249.5,1353.8 263.9,1348.4 256.3,1340.9 241.8,1345.0" fill="#ffffff"/></g>
<line x1="102.6" y1="1072.2" x2="244.5" y2="1220.8" stroke="#111" stroke-width="1.3" opacity="0.35"/>
<line x1="244.5" y1="1220.8" x2="595.0" y2="1111.2" stroke="#111" stroke-width="1.3" opacity="0.35"/>
<line x1="244.5" y1="1220.8" x2="253.9" y2="1474.1" stroke="#111" stroke-width="1.3" opacity="0.35"/>
<line x1="104.2" y1="1090.7" x2="89.7" y2="1089.7" stroke="#222" stroke-width="1.3"/>
<text x="84.7" y="1097.2" font-size="19" text-anchor="end" fill="#1a1a1a">60</text>
<line x1="107.3" y1="1126.9" x2="92.8" y2="1125.9" stroke="#222" stroke-width="1.3"/>
<text x="87.8" y="1133.4" font-size="19" text-anchor="end" fill="#1a1a1a">40</text>
<line x1="110.4" y1="1162.2" x2="95.9" y2="1161.2" stroke="#222" stroke-width="1.3"/>
<text x="90.9" y="1168.7" font-size="19" text-anchor="end" fill="#1a1a1a">20</text>
<line x1="113.3" y1="1196.6" x2="98.8" y2="1195.6" stroke="#222" stroke-width="1.3"/>
<text x="93.8" y="1203.1" font-size="19" text-anchor="end" fill="#1a1a1a">0</text>
<line x1="116.2" y1="1230.2" x2="101.7" y2="1229.2" stroke="#222" stroke-width="1.3"/>
<text x="102.7" y="1236.7" font-size="19" text-anchor="end" fill="#1a1a1a">-20</text>
<line x1="119.0" y1="1262.9" x2="104.5" y2="1261.9" stroke="#222" stroke-width="1.3"/>
<text x="105.5" y="1269.4" font-size="19" text-anchor="end" fill="#1a1a1a">-40</text>
<line x1="121.7" y1="1294.8" x2="107.2" y2="1293.8" stroke="#222" stroke-width="1.3"/>
<text x="108.2" y="1301.3" font-size="19" text-anchor="end" fill="#1a1a1a">-60</text>
<line x1="130.6" y1="1320.0" x2="123.1" y2="1328.0" stroke="#222" stroke-width="1.3"/>
<text x="109.9" y="1346.2" font-size="17.5" text-anchor="middle" fill="#1a1a1a">125</text>
<line x1="158.3" y1="1354.5" x2="150.8" y2="1362.6" stroke="#222" stroke-width="1.3"/>
<text x="138.2" y="1387.2" font-size="17.5" text-anchor="middle" fill="#1a1a1a">62.5</text>
<line x1="192.8" y1="1397.7" x2="185.3" y2="1405.8" stroke="#222" stroke-width="1.3"/>
<text x="172.1" y="1426.6" font-size="17.5" text-anchor="middle" fill="#1a1a1a">31.2</text>
<line x1="225.8" y1="1439.0" x2="218.3" y2="1447.0" stroke="#222" stroke-width="1.3"/>
<text x="205.1" y="1469.8" font-size="17.5" text-anchor="middle" fill="#1a1a1a">15.6</text>
<line x1="306.8" y1="1454.3" x2="309.7" y2="1464.9" stroke="#222" stroke-width="1.3"/>
<text x="318.4" y="1489.4" font-size="17.5" text-anchor="middle" fill="#1a1a1a">1.25</text>
<line x1="374.0" y1="1429.1" x2="376.9" y2="1439.7" stroke="#222" stroke-width="1.3"/>
<text x="384.3" y="1463.7" font-size="17.5" text-anchor="middle" fill="#1a1a1a">2.5</text>
<line x1="439.4" y1="1404.6" x2="442.3" y2="1415.3" stroke="#222" stroke-width="1.3"/>
<text x="448.2" y="1438.6" font-size="17.5" text-anchor="middle" fill="#1a1a1a">5</text>
<line x1="502.7" y1="1380.9" x2="505.5" y2="1391.5" stroke="#222" stroke-width="1.3"/>
<text x="511.5" y="1413.3" font-size="17.5" text-anchor="middle" fill="#1a1a1a">10</text>
<line x1="564.6" y1="1357.7" x2="567.5" y2="1368.3" stroke="#222" stroke-width="1.3"/>
<text x="570.6" y="1390.2" font-size="17.5" text-anchor="middle" fill="#1a1a1a">20</text>
<text x="0" y="0" font-size="23" text-anchor="middle" fill="#1a1a1a" textLength="128" lengthAdjust="spacingAndGlyphs" transform="translate(140.7,1436.3) rotate(51.7) translate(0,6)">Gallate (uM)</text>
<text x="0" y="0" font-size="23" text-anchor="middle" fill="#1a1a1a" textLength="170" lengthAdjust="spacingAndGlyphs" transform="translate(441.5,1464.7) rotate(-20.7) translate(0,6)">Remdesivir (uM)</text>
<defs><linearGradient id="Bk" x1="0" y1="0" x2="1" y2="0"><stop offset="0" stop-color="#00ff00"/><stop offset="0.5" stop-color="#ffffff"/><stop offset="1" stop-color="#ff0000"/></linearGradient></defs>
<rect x="760.7" y="939.2" width="530.9" height="8.2" fill="url(#Bk)"/>
<text x="860.6" y="898" font-size="24.56" font-weight="bold" textLength="307.8" lengthAdjust="spacingAndGlyphs">ZIP synergy score: 11.072</text>
<text x="760.7" y="922.7" font-size="17.5" text-anchor="middle" fill="#1a1a1a">&#8722;40</text>
<text x="828.2" y="922.7" font-size="17.5" text-anchor="middle" fill="#1a1a1a">&#8722;30</text>
<text x="893.7" y="922.7" font-size="17.5" text-anchor="middle" fill="#1a1a1a">&#8722;20</text>
<text x="959.2" y="922.7" font-size="17.5" text-anchor="middle" fill="#1a1a1a">&#8722;10</text>
<text x="1024.7" y="922.7" font-size="17.5" text-anchor="middle" fill="#1a1a1a">0</text>
<text x="1092.3" y="922.7" font-size="17.5" text-anchor="middle" fill="#1a1a1a">10</text>
<text x="1157.8" y="922.7" font-size="17.5" text-anchor="middle" fill="#1a1a1a">20</text>
<text x="1225.3" y="922.7" font-size="17.5" text-anchor="middle" fill="#1a1a1a">30</text>
<text x="1290.8" y="922.7" font-size="17.5" text-anchor="middle" fill="#1a1a1a">40</text>
<line x1="1092.5" y1="1219.8" x2="816.3" y2="1313.8" stroke="#111" stroke-width="1.3" opacity="1.0" stroke-dasharray="5,5"/>
<line x1="1092.5" y1="1219.8" x2="1234.9" y2="1356.6" stroke="#111" stroke-width="1.3" opacity="1.0" stroke-dasharray="5,5"/>
<line x1="1092.5" y1="1219.8" x2="1097.7" y2="993.8" stroke="#111" stroke-width="1.3" opacity="1.0" stroke-dasharray="5,5"/>
<line x1="796.8" y1="1076.6" x2="1097.7" y2="993.8" stroke="#111" stroke-width="1.3" opacity="1.0"/>
<line x1="1097.7" y1="993.8" x2="1254.2" y2="1114.6" stroke="#111" stroke-width="1.3" opacity="1.0"/>
<line x1="796.8" y1="1076.6" x2="816.3" y2="1313.8" stroke="#111" stroke-width="1.3" opacity="1.0"/>
<line x1="1254.2" y1="1114.6" x2="1234.9" y2="1356.6" stroke="#111" stroke-width="1.3" opacity="1.0"/>
<line x1="816.3" y1="1313.8" x2="936.4" y2="1474.7" stroke="#111" stroke-width="1.3" opacity="1.0"/>
<line x1="936.4" y1="1474.7" x2="1234.9" y2="1356.6" stroke="#111" stroke-width="1.3" opacity="1.0"/>
<line x1="796.8" y1="1076.6" x2="926.7" y2="1221.0" stroke="#111" stroke-width="1.3" opacity="1.0"/>
<line x1="926.7" y1="1221.0" x2="1254.2" y2="1114.6" stroke="#111" stroke-width="1.3" opacity="1.0"/>
<line x1="926.7" y1="1221.0" x2="936.4" y2="1474.7" stroke="#111" stroke-width="1.3" opacity="1.0"/>
<g stroke="#000" stroke-width="2.0" stroke-linejoin="round"><polygon points="1145.1,1211.3 1156.2,1202.9 1149.6,1181.3 1138.6,1189.8" fill="#b9ffb9"/><polygon points="1138.6,1189.8 1149.6,1181.3 1143.2,1156.9 1132.1,1164.6" fill="#deffde"/><polygon points="1152.0,1225.9 1162.9,1221.2 1156.2,1202.9 1145.1,1211.3" fill="#9dff9d"/><polygon points="1134.1,1217.4 1145.1,1211.3 1138.6,1189.8 1127.5,1196.6" fill="#b0ffb0"/><polygon points="1132.1,1164.6 1143.2,1156.9 1136.9,1130.6 1125.8,1137.4" fill="#fff5f5"/><polygon points="1127.5,1196.6 1138.6,1189.8 1132.1,1164.6 1121.1,1171.2" fill="#d6ffd6"/><polygon points="1093.1,1022.3 1104.2,1018.7 1097.5,1002.9 1086.3,1012.1" fill="#ff2121"/><polygon points="1141.0,1231.0 1152.0,1225.9 1145.1,1211.3 1134.1,1217.4" fill="#98ff98"/><polygon points="1125.8,1137.4 1136.9,1130.6 1130.5,1103.2 1119.4,1110.1" fill="#ffc7c7"/><polygon points="1121.1,1171.2 1132.1,1164.6 1125.8,1137.4 1114.7,1143.5" fill="#fffcfc"/><polygon points="1123.0,1222.8 1134.1,1217.4 1127.5,1196.6 1116.4,1201.8" fill="#acffac"/><polygon points="1081.9,1028.7 1093.1,1022.3 1086.3,1012.1 1075.1,1020.1" fill="#ff2929"/><polygon points="1116.4,1201.8 1127.5,1196.6 1121.1,1171.2 1110.0,1175.9" fill="#d1ffd1"/><polygon points="1099.8,1039.8 1110.8,1037.2 1104.2,1018.7 1093.1,1022.3" fill="#ff3636"/><polygon points="1119.4,1110.1 1130.5,1103.2 1124.0,1080.3 1112.9,1084.6" fill="#ff9c9c"/><polygon points="1112.9,1084.6 1124.0,1080.3 1117.4,1058.0 1106.4,1060.9" fill="#ff7676"/><polygon points="1106.4,1060.9 1117.4,1058.0 1110.8,1037.2 1099.8,1039.8" fill="#ff5454"/><polygon points="1159.4,1230.1 1170.6,1221.0 1162.9,1221.2 1152.0,1225.9" fill="#97ff97"/><polygon points="1129.9,1236.6 1141.0,1231.0 1134.1,1217.4 1123.0,1222.8" fill="#94ff94"/><polygon points="1114.7,1143.5 1125.8,1137.4 1119.4,1110.1 1108.3,1115.6" fill="#ffcdcd"/><polygon points="1110.0,1175.9 1121.1,1171.2 1114.7,1143.5 1103.6,1147.6" fill="#fefffe"/><polygon points="1070.7,1034.8 1081.9,1028.7 1075.1,1020.1 1063.9,1026.9" fill="#ff3131"/><polygon points="1112.0,1227.4 1123.0,1222.8 1116.4,1201.8 1105.4,1204.7" fill="#aaffaa"/><polygon points="1108.3,1115.6 1119.4,1110.1 1112.9,1084.6 1101.8,1089.1" fill="#ffa0a0"/><polygon points="1088.6,1044.5 1099.8,1039.8 1093.1,1022.3 1081.9,1028.7" fill="#ff3939"/><polygon points="1105.4,1204.7 1116.4,1201.8 1110.0,1175.9 1098.9,1178.2" fill="#d1ffd1"/><polygon points="1148.3,1236.4 1159.4,1230.1 1152.0,1225.9 1141.0,1231.0" fill="#91ff91"/><polygon points="1118.8,1242.4 1129.9,1236.6 1123.0,1222.8 1112.0,1227.4" fill="#90ff90"/><polygon points="1103.6,1147.6 1114.7,1143.5 1108.3,1115.6 1097.1,1119.4" fill="#ffd0d0"/><polygon points="1101.8,1089.1 1112.9,1084.6 1106.4,1060.9 1095.2,1065.1" fill="#ff7878"/><polygon points="1059.4,1040.1 1070.7,1034.8 1063.9,1026.9 1052.6,1032.4" fill="#ff3737"/><polygon points="1095.2,1065.1 1106.4,1060.9 1099.8,1039.8 1088.6,1044.5" fill="#ff5454"/><polygon points="1098.9,1178.2 1110.0,1175.9 1103.6,1147.6 1092.5,1149.6" fill="#ffffff"/><polygon points="1077.4,1049.5 1088.6,1044.5 1081.9,1028.7 1070.7,1034.8" fill="#ff3e3e"/><polygon points="1097.1,1119.4 1108.3,1115.6 1101.8,1089.1 1090.6,1092.8" fill="#ffa2a2"/><polygon points="1137.2,1241.9 1148.3,1236.4 1141.0,1231.0 1129.9,1236.6" fill="#8dff8d"/><polygon points="1100.9,1228.1 1112.0,1227.4 1105.4,1204.7 1094.4,1204.1" fill="#aeffae"/><polygon points="1048.0,1045.1 1059.4,1040.1 1052.6,1032.4 1041.3,1036.9" fill="#ff3b3b"/><polygon points="1107.6,1248.8 1118.8,1242.4 1112.0,1227.4 1100.9,1228.1" fill="#8fff8f"/><polygon points="1084.0,1069.3 1095.2,1065.1 1088.6,1044.5 1077.4,1049.5" fill="#ff5757"/><polygon points="1090.6,1092.8 1101.8,1089.1 1095.2,1065.1 1084.0,1069.3" fill="#ff7979"/><polygon points="1094.4,1204.1 1105.4,1204.7 1098.9,1178.2 1087.8,1177.5" fill="#d7ffd7"/><polygon points="1092.5,1149.6 1103.6,1147.6 1097.1,1119.4 1086.0,1121.1" fill="#ffcfcf"/><polygon points="1066.1,1054.1 1077.4,1049.5 1070.7,1034.8 1059.4,1040.1" fill="#ff4242"/><polygon points="1126.1,1246.1 1137.2,1241.9 1129.9,1236.6 1118.8,1242.4" fill="#8aff8a"/><polygon points="1036.6,1050.9 1048.0,1045.1 1041.3,1036.9 1030.0,1044.7" fill="#ff4040"/><polygon points="1167.2,1228.5 1178.5,1218.5 1170.6,1221.0 1159.4,1230.1" fill="#a6ffa6"/><polygon points="1086.0,1121.1 1097.1,1119.4 1090.6,1092.8 1079.4,1095.3" fill="#ffa1a1"/><polygon points="1087.8,1177.5 1098.9,1178.2 1092.5,1149.6 1081.3,1149.3" fill="#fff9f9"/><polygon points="1072.8,1072.8 1084.0,1069.3 1077.4,1049.5 1066.1,1054.1" fill="#ff5959"/><polygon points="1079.4,1095.3 1090.6,1092.8 1084.0,1069.3 1072.8,1072.8" fill="#ff7a7a"/><polygon points="1054.7,1058.3 1066.1,1054.1 1059.4,1040.1 1048.0,1045.1" fill="#ff4545"/><polygon points="1156.0,1236.1 1167.2,1228.5 1159.4,1230.1 1148.3,1236.4" fill="#9cff9c"/><polygon points="1025.2,1056.5 1036.6,1050.9 1030.0,1044.7 1018.6,1051.2" fill="#ff4747"/><polygon points="1081.3,1149.3 1092.5,1149.6 1086.0,1121.1 1074.8,1120.5" fill="#ffc9c9"/><polygon points="1115.0,1246.5 1126.1,1246.1 1118.8,1242.4 1107.6,1248.8" fill="#89ff89"/><polygon points="1090.0,1220.6 1100.9,1228.1 1094.4,1204.1 1083.3,1199.2" fill="#bdffbd"/><polygon points="1061.4,1075.8 1072.8,1072.8 1066.1,1054.1 1054.7,1058.3" fill="#ff5a5a"/><polygon points="1083.3,1199.2 1094.4,1204.1 1087.8,1177.5 1076.7,1174.3" fill="#e4ffe4"/><polygon points="1096.8,1234.8 1107.6,1248.8 1100.9,1228.1 1090.0,1220.6" fill="#a0ffa0"/><polygon points="1144.8,1241.7 1156.0,1236.1 1148.3,1236.4 1137.2,1241.9" fill="#97ff97"/><polygon points="1074.8,1120.5 1086.0,1121.1 1079.4,1095.3 1068.1,1096.8" fill="#ff9d9d"/><polygon points="1043.3,1062.4 1054.7,1058.3 1048.0,1045.1 1036.6,1050.9" fill="#ff4848"/><polygon points="1013.6,1061.1 1025.2,1056.5 1018.6,1051.2 1007.1,1056.3" fill="#ff4b4b"/><polygon points="1068.1,1096.8 1079.4,1095.3 1072.8,1072.8 1061.4,1075.8" fill="#ff7878"/><polygon points="1076.7,1174.3 1087.8,1177.5 1081.3,1149.3 1070.1,1147.8" fill="#ffeeee"/><polygon points="1031.8,1066.5 1043.3,1062.4 1036.6,1050.9 1025.2,1056.5" fill="#ff4c4c"/><polygon points="1050.0,1078.5 1061.4,1075.8 1054.7,1058.3 1043.3,1062.4" fill="#ff5b5b"/><polygon points="1133.6,1244.8 1144.8,1241.7 1137.2,1241.9 1126.1,1246.1" fill="#95ff95"/><polygon points="1070.1,1147.8 1081.3,1149.3 1074.8,1120.5 1063.4,1121.6" fill="#ffc0c0"/><polygon points="1002.0,1065.2 1013.6,1061.1 1007.1,1056.3 995.6,1060.2" fill="#ff4d4d"/><polygon points="1056.7,1098.2 1068.1,1096.8 1061.4,1075.8 1050.0,1078.5" fill="#ff7575"/><polygon points="1063.4,1121.6 1074.8,1120.5 1068.1,1096.8 1056.7,1098.2" fill="#ff9797"/><polygon points="1104.0,1238.7 1115.0,1246.5 1107.6,1248.8 1096.8,1234.8" fill="#9aff9a"/><polygon points="1175.2,1224.8 1186.7,1214.8 1178.5,1218.5 1167.2,1228.5" fill="#bbffbb"/><polygon points="1020.3,1070.5 1031.8,1066.5 1025.2,1056.5 1013.6,1061.1" fill="#ff4e4e"/><polygon points="1038.6,1081.0 1050.0,1078.5 1043.3,1062.4 1031.8,1066.5" fill="#ff5b5b"/><polygon points="1072.1,1191.4 1083.3,1199.2 1076.7,1174.3 1065.4,1169.3" fill="#f8fff8"/><polygon points="990.4,1070.3 1002.0,1065.2 995.6,1060.2 983.9,1062.3" fill="#ff4e4e"/><polygon points="1078.9,1209.3 1090.0,1220.6 1083.3,1199.2 1072.1,1191.4" fill="#d7ffd7"/><polygon points="1163.9,1233.1 1175.2,1224.8 1167.2,1228.5 1156.0,1236.1" fill="#b0ffb0"/><polygon points="1065.4,1169.3 1076.7,1174.3 1070.1,1147.8 1058.7,1145.1" fill="#ffdfdf"/><polygon points="1122.5,1243.8 1133.6,1244.8 1126.1,1246.1 1115.0,1246.5" fill="#9aff9a"/><polygon points="1045.3,1099.4 1056.7,1098.2 1050.0,1078.5 1038.6,1081.0" fill="#ff7272"/><polygon points="1058.7,1145.1 1070.1,1147.8 1063.4,1121.6 1052.0,1121.2" fill="#ffb7b7"/><polygon points="978.7,1078.4 990.4,1070.3 983.9,1062.3 972.4,1074.2" fill="#ff5656"/><polygon points="1052.0,1121.2 1063.4,1121.6 1056.7,1098.2 1045.3,1099.4" fill="#ff9191"/><polygon points="1008.7,1074.8 1020.3,1070.5 1013.6,1061.1 1002.0,1065.2" fill="#ff5050"/><polygon points="1085.9,1221.5 1096.8,1234.8 1090.0,1220.6 1078.9,1209.3" fill="#c2ffc2"/><polygon points="1152.6,1239.3 1163.9,1233.1 1156.0,1236.1 1144.8,1241.7" fill="#a9ffa9"/><polygon points="1027.0,1083.7 1038.6,1081.0 1031.8,1066.5 1020.3,1070.5" fill="#ff5a5a"/><polygon points="967.1,1087.8 978.7,1078.4 972.4,1074.2 960.8,1084.3" fill="#ff6363"/><polygon points="955.4,1096.8 967.1,1087.8 960.8,1084.3 949.2,1093.3" fill="#ff7070"/><polygon points="997.0,1080.2 1008.7,1074.8 1002.0,1065.2 990.4,1070.3" fill="#ff5353"/><polygon points="1033.7,1100.4 1045.3,1099.4 1038.6,1081.0 1027.0,1083.7" fill="#ff6f6f"/><polygon points="1141.4,1242.4 1152.6,1239.3 1144.8,1241.7 1133.6,1244.8" fill="#a8ffa8"/><polygon points="943.6,1104.6 955.4,1096.8 949.2,1093.3 937.5,1101.0" fill="#ff7a7a"/><polygon points="1015.3,1087.3 1027.0,1083.7 1020.3,1070.5 1008.7,1074.8" fill="#ff5b5b"/><polygon points="1040.5,1120.1 1052.0,1121.2 1045.3,1099.4 1033.7,1100.4" fill="#ff8a8a"/><polygon points="1054.0,1163.3 1065.4,1169.3 1058.7,1145.1 1047.2,1141.6" fill="#ffcece"/><polygon points="1111.5,1237.9 1122.5,1243.8 1115.0,1246.5 1104.0,1238.7" fill="#abffab"/><polygon points="1047.2,1141.6 1058.7,1145.1 1052.0,1121.2 1040.5,1120.1" fill="#ffabab"/><polygon points="1060.8,1182.7 1072.1,1191.4 1065.4,1169.3 1054.0,1163.3" fill="#ffefef"/><polygon points="985.2,1086.5 997.0,1080.2 990.4,1070.3 978.7,1078.4" fill="#ff5959"/><polygon points="1093.0,1227.2 1104.0,1238.7 1096.8,1234.8 1085.9,1221.5" fill="#bdffbd"/><polygon points="931.7,1111.1 943.6,1104.6 937.5,1101.0 925.7,1107.7" fill="#ff8282"/><polygon points="1067.7,1198.5 1078.9,1209.3 1072.1,1191.4 1060.8,1182.7" fill="#f4fff4"/><polygon points="1183.5,1220.6 1195.0,1210.4 1186.7,1214.8 1175.2,1224.8" fill="#d3ffd3"/><polygon points="973.5,1094.2 985.2,1086.5 978.7,1078.4 967.1,1087.8" fill="#ff6262"/><polygon points="1003.6,1091.8 1015.3,1087.3 1008.7,1074.8 997.0,1080.2" fill="#ff5d5d"/><polygon points="1022.1,1101.8 1033.7,1100.4 1027.0,1083.7 1015.3,1087.3" fill="#ff6c6c"/><polygon points="1130.2,1241.6 1141.4,1242.4 1133.6,1244.8 1122.5,1243.8" fill="#aeffae"/><polygon points="1172.0,1229.7 1183.5,1220.6 1175.2,1224.8 1163.9,1233.1" fill="#c7ffc7"/><polygon points="919.8,1116.7 931.7,1111.1 925.7,1107.7 913.8,1112.6" fill="#ff8787"/><polygon points="961.7,1102.7 973.5,1094.2 967.1,1087.8 955.4,1096.8" fill="#ff6d6d"/><polygon points="1028.8,1118.7 1040.5,1120.1 1033.7,1100.4 1022.1,1101.8" fill="#ff8383"/><polygon points="1074.7,1209.6 1085.9,1221.5 1078.9,1209.3 1067.7,1198.5" fill="#e4ffe4"/><polygon points="991.9,1096.9 1003.6,1091.8 997.0,1080.2 985.2,1086.5" fill="#ff6161"/><polygon points="1160.6,1236.5 1172.0,1229.7 1163.9,1233.1 1152.6,1239.3" fill="#bfffbf"/><polygon points="949.9,1110.4 961.7,1102.7 955.4,1096.8 943.6,1104.6" fill="#ff7777"/><polygon points="1035.6,1138.4 1047.2,1141.6 1040.5,1120.1 1028.8,1118.7" fill="#ff9e9e"/><polygon points="1010.3,1104.4 1022.1,1101.8 1015.3,1087.3 1003.6,1091.8" fill="#ff6b6b"/><polygon points="907.8,1121.9 919.8,1116.7 913.8,1112.6 901.8,1117.5" fill="#ff8a8a"/><polygon points="1042.5,1158.0 1054.0,1163.3 1047.2,1141.6 1035.6,1138.4" fill="#ffbdbd"/><polygon points="980.0,1103.5 991.9,1096.9 985.2,1086.5 973.5,1094.2" fill="#ff6767"/><polygon points="1049.3,1175.5 1060.8,1182.7 1054.0,1163.3 1042.5,1158.0" fill="#ffd9d9"/><polygon points="938.0,1116.9 949.9,1110.4 943.6,1104.6 931.7,1111.1" fill="#ff7e7e"/><polygon points="1100.4,1228.7 1111.5,1237.9 1104.0,1238.7 1093.0,1227.2" fill="#c7ffc7"/><polygon points="1149.2,1240.4 1160.6,1236.5 1152.6,1239.3 1141.4,1242.4" fill="#bdffbd"/><polygon points="1017.1,1117.2 1028.8,1118.7 1022.1,1101.8 1010.3,1104.4" fill="#ff7c7c"/><polygon points="998.5,1109.2 1010.3,1104.4 1003.6,1091.8 991.9,1096.9" fill="#ff6d6d"/><polygon points="895.7,1127.1 907.8,1121.9 901.8,1117.5 889.7,1122.4" fill="#ff8d8d"/><polygon points="968.2,1111.0 980.0,1103.5 973.5,1094.2 961.7,1102.7" fill="#ff7070"/><polygon points="1119.1,1236.6 1130.2,1241.6 1122.5,1243.8 1111.5,1237.9" fill="#beffbe"/><polygon points="1056.2,1189.6 1067.7,1198.5 1060.8,1182.7 1049.3,1175.5" fill="#ffeeee"/><polygon points="926.0,1122.8 938.0,1116.9 931.7,1111.1 919.8,1116.7" fill="#ff8484"/><polygon points="1081.8,1215.9 1093.0,1227.2 1085.9,1221.5 1074.7,1209.6" fill="#e0ffe0"/><polygon points="1023.9,1137.1 1035.6,1138.4 1028.8,1118.7 1017.1,1117.2" fill="#ff9393"/><polygon points="956.3,1118.6 968.2,1111.0 961.7,1102.7 949.9,1110.4" fill="#ff7979"/><polygon points="986.7,1115.5 998.5,1109.2 991.9,1096.9 980.0,1103.5" fill="#ff7171"/><polygon points="883.5,1132.8 895.7,1127.1 889.7,1122.4 877.6,1127.2" fill="#ff9090"/><polygon points="1191.8,1217.9 1203.5,1205.8 1195.0,1210.4 1183.5,1220.6" fill="#ebffeb"/><polygon points="1030.7,1155.6 1042.5,1158.0 1035.6,1138.4 1023.9,1137.1" fill="#ffaeae"/><polygon points="1005.3,1123.6 1017.1,1117.2 1010.3,1104.4 998.5,1109.2" fill="#ff7b7b"/><polygon points="913.9,1128.3 926.0,1122.8 919.8,1116.7 907.8,1121.9" fill="#ff8888"/><polygon points="1138.0,1240.3 1149.2,1240.4 1141.4,1242.4 1130.2,1241.6" fill="#c2ffc2"/><polygon points="1180.2,1227.5 1191.8,1217.9 1183.5,1220.6 1172.0,1229.7" fill="#ddffdd"/><polygon points="944.3,1125.1 956.3,1118.6 949.9,1110.4 938.0,1116.9" fill="#ff8080"/><polygon points="1063.2,1199.6 1074.7,1209.6 1067.7,1198.5 1056.2,1189.6" fill="#fffbfb"/><polygon points="974.8,1122.3 986.7,1115.5 980.0,1103.5 968.2,1111.0" fill="#ff7878"/><polygon points="1037.6,1171.6 1049.3,1175.5 1042.5,1158.0 1030.7,1155.6" fill="#ffc6c6"/><polygon points="871.4,1140.3 883.5,1132.8 877.6,1127.2 865.4,1131.9" fill="#ff9595"/><polygon points="1168.7,1234.6 1180.2,1227.5 1172.0,1229.7 1160.6,1236.5" fill="#d4ffd4"/><polygon points="1012.1,1140.3 1023.9,1137.1 1017.1,1117.2 1005.3,1123.6" fill="#ff8f8f"/><polygon points="812.3,1204.4 824.2,1193.0 818.7,1187.0 807.0,1200.4" fill="#fff3f3"/><polygon points="993.4,1129.9 1005.3,1123.6 998.5,1109.2 986.7,1115.5" fill="#ff8080"/><polygon points="824.2,1193.0 836.0,1179.3 830.3,1173.1 818.7,1187.0" fill="#ffdfdf"/><polygon points="901.8,1134.0 913.9,1128.3 907.8,1121.9 895.7,1127.1" fill="#ff8c8c"/><polygon points="836.0,1179.3 847.7,1165.0 842.0,1159.0 830.3,1173.1" fill="#ffc9c9"/><polygon points="932.3,1131.1 944.3,1125.1 938.0,1116.9 926.0,1122.8" fill="#ff8585"/><polygon points="847.7,1165.0 859.5,1151.5 853.7,1145.3 842.0,1159.0" fill="#ffb4b4"/><polygon points="859.5,1151.5 871.4,1140.3 865.4,1131.9 853.7,1145.3" fill="#ffa0a0"/><polygon points="962.8,1129.1 974.8,1122.3 968.2,1111.0 956.3,1118.6" fill="#ff7f7f"/><polygon points="1018.9,1156.9 1030.7,1155.6 1023.9,1137.1 1012.1,1140.3" fill="#ffa7a7"/><polygon points="1107.9,1228.6 1119.1,1236.6 1111.5,1237.9 1100.4,1228.7" fill="#d6ffd6"/><polygon points="1044.5,1184.1 1056.2,1189.6 1049.3,1175.5 1037.6,1171.6" fill="#ffd8d8"/><polygon points="1089.1,1218.7 1100.4,1228.7 1093.0,1227.2 1081.8,1215.9" fill="#e6ffe6"/><polygon points="981.5,1136.2 993.4,1129.9 986.7,1115.5 974.8,1122.3" fill="#ff8686"/><polygon points="1157.2,1239.0 1168.7,1234.6 1160.6,1236.5 1149.2,1240.4" fill="#d1ffd1"/><polygon points="1000.2,1145.4 1012.1,1140.3 1005.3,1123.6 993.4,1129.9" fill="#ff9292"/><polygon points="889.6,1140.4 901.8,1134.0 895.7,1127.1 883.5,1132.8" fill="#ff9090"/><polygon points="950.8,1135.5 962.8,1129.1 956.3,1118.6 944.3,1125.1" fill="#ff8686"/><polygon points="920.2,1136.8 932.3,1131.1 926.0,1122.8 913.9,1128.3" fill="#ff8a8a"/><polygon points="1126.8,1235.8 1138.0,1240.3 1130.2,1241.6 1119.1,1236.6" fill="#d1ffd1"/><polygon points="1070.3,1206.2 1081.8,1215.9 1074.7,1209.6 1063.2,1199.6" fill="#ffffff"/><polygon points="1025.8,1171.5 1037.6,1171.6 1030.7,1155.6 1018.9,1156.9" fill="#ffbcbc"/><polygon points="969.5,1142.1 981.5,1136.2 974.8,1122.3 962.8,1129.1" fill="#ff8c8c"/><polygon points="877.5,1148.7 889.6,1140.4 883.5,1132.8 871.4,1140.3" fill="#ff9797"/><polygon points="1007.0,1160.8 1018.9,1156.9 1012.1,1140.3 1000.2,1145.4" fill="#ffa6a6"/><polygon points="988.2,1151.1 1000.2,1145.4 993.4,1129.9 981.5,1136.2" fill="#ff9797"/><polygon points="938.8,1141.5 950.8,1135.5 944.3,1125.1 932.3,1131.1" fill="#ff8b8b"/><polygon points="908.0,1142.6 920.2,1136.8 913.9,1128.3 901.8,1134.0" fill="#ff8e8e"/><polygon points="1200.0,1218.8 1211.7,1209.5 1203.5,1205.8 1191.8,1217.9" fill="#fbfffb"/><polygon points="1051.5,1192.5 1063.2,1199.6 1056.2,1189.6 1044.5,1184.1" fill="#ffe2e2"/><polygon points="829.8,1199.0 841.7,1185.7 836.0,1179.3 824.2,1193.0" fill="#ffdede"/><polygon points="865.4,1159.1 877.5,1148.7 871.4,1140.3 859.5,1151.5" fill="#ffa3a3"/><polygon points="817.8,1209.9 829.8,1199.0 824.2,1193.0 812.3,1204.4" fill="#fff0f0"/><polygon points="841.7,1185.7 853.5,1171.8 847.7,1165.0 836.0,1179.3" fill="#ffc9c9"/><polygon points="1145.8,1240.5 1157.2,1239.0 1149.2,1240.4 1138.0,1240.3" fill="#d4ffd4"/><polygon points="853.5,1171.8 865.4,1159.1 859.5,1151.5 847.7,1165.0" fill="#ffb4b4"/><polygon points="1188.4,1227.4 1200.0,1218.8 1191.8,1217.9 1180.2,1227.5" fill="#eeffee"/><polygon points="957.4,1147.7 969.5,1142.1 962.8,1129.1 950.8,1135.5" fill="#ff9191"/><polygon points="1032.7,1183.2 1044.5,1184.1 1037.6,1171.6 1025.8,1171.5" fill="#ffcbcb"/><polygon points="976.2,1156.7 988.2,1151.1 981.5,1136.2 969.5,1142.1" fill="#ff9b9b"/><polygon points="926.6,1147.3 938.8,1141.5 932.3,1131.1 920.2,1136.8" fill="#ff9090"/><polygon points="1013.8,1174.6 1025.8,1171.5 1018.9,1156.9 1007.0,1160.8" fill="#ffb8b8"/><polygon points="995.0,1166.0 1007.0,1160.8 1000.2,1145.4 988.2,1151.1" fill="#ffa9a9"/><polygon points="895.8,1149.0 908.0,1142.6 901.8,1134.0 889.6,1140.4" fill="#ff9393"/><polygon points="1176.8,1234.1 1188.4,1227.4 1180.2,1227.5 1168.7,1234.6" fill="#e6ffe6"/><polygon points="945.3,1154.1 957.4,1147.7 950.8,1135.5 938.8,1141.5" fill="#ff9696"/><polygon points="1096.5,1219.7 1107.9,1228.6 1100.4,1228.7 1089.1,1218.7" fill="#f2fff2"/><polygon points="883.6,1157.0 895.8,1149.0 889.6,1140.4 877.5,1148.7" fill="#ff9a9a"/><polygon points="1077.6,1209.9 1089.1,1218.7 1081.8,1215.9 1070.3,1206.2" fill="#fffafa"/><polygon points="1115.5,1228.8 1126.8,1235.8 1119.1,1236.6 1107.9,1228.6" fill="#e6ffe6"/><polygon points="964.1,1162.3 976.2,1156.7 969.5,1142.1 957.4,1147.7" fill="#ff9f9f"/><polygon points="914.4,1152.8 926.6,1147.3 920.2,1136.8 908.0,1142.6" fill="#ff9494"/><polygon points="983.0,1171.3 995.0,1166.0 988.2,1151.1 976.2,1156.7" fill="#ffacac"/><polygon points="1001.8,1179.2 1013.8,1174.6 1007.0,1160.8 995.0,1166.0" fill="#ffb9b9"/><polygon points="1058.6,1199.8 1070.3,1206.2 1063.2,1199.6 1051.5,1192.5" fill="#ffe4e4"/><polygon points="1165.3,1238.4 1176.8,1234.1 1168.7,1234.6 1157.2,1239.0" fill="#e2ffe2"/><polygon points="871.5,1167.1 883.6,1157.0 877.5,1148.7 865.4,1159.1" fill="#ffa6a6"/><polygon points="1020.7,1185.6 1032.7,1183.2 1025.8,1171.5 1013.8,1174.6" fill="#ffc5c5"/><polygon points="1134.6,1236.1 1145.8,1240.5 1138.0,1240.3 1126.8,1235.8" fill="#e1ffe1"/><polygon points="1039.7,1191.7 1051.5,1192.5 1044.5,1184.1 1032.7,1183.2" fill="#ffd2d2"/><polygon points="933.1,1159.8 945.3,1154.1 938.8,1141.5 926.6,1147.3" fill="#ff9a9a"/><polygon points="835.6,1206.0 847.6,1193.0 841.7,1185.7 829.8,1199.0" fill="#ffdddd"/><polygon points="847.6,1193.0 859.5,1179.5 853.5,1171.8 841.7,1185.7" fill="#ffc9c9"/><polygon points="859.5,1179.5 871.5,1167.1 865.4,1159.1 853.5,1171.8" fill="#ffb6b6"/><polygon points="823.5,1216.9 835.6,1206.0 829.8,1199.0 817.8,1209.9" fill="#ffefef"/><polygon points="1208.2,1222.5 1219.8,1214.6 1211.7,1209.5 1200.0,1218.8" fill="#fffbfb"/><polygon points="952.0,1168.2 964.1,1162.3 957.4,1147.7 945.3,1154.1" fill="#ffa4a4"/><polygon points="902.1,1158.3 914.4,1152.8 908.0,1142.6 895.8,1149.0" fill="#ff9999"/><polygon points="970.9,1176.6 983.0,1171.3 976.2,1156.7 964.1,1162.3" fill="#ffb0b0"/><polygon points="989.8,1184.7 1001.8,1179.2 995.0,1166.0 983.0,1171.3" fill="#ffbcbc"/><polygon points="1196.6,1229.8 1208.2,1222.5 1200.0,1218.8 1188.4,1227.4" fill="#fafffa"/><polygon points="920.9,1164.8 933.1,1159.8 926.6,1147.3 914.4,1152.8" fill="#ff9e9e"/><polygon points="1008.7,1190.0 1020.7,1185.6 1013.8,1174.6 1001.8,1179.2" fill="#ffc4c4"/><polygon points="1153.9,1239.7 1165.3,1238.4 1157.2,1239.0 1145.8,1240.5" fill="#e5ffe5"/><polygon points="889.8,1165.2 902.1,1158.3 895.8,1149.0 883.6,1157.0" fill="#ff9f9f"/><polygon points="939.8,1173.3 952.0,1168.2 945.3,1154.1 933.1,1159.8" fill="#ffa8a8"/><polygon points="958.7,1182.3 970.9,1176.6 964.1,1162.3 952.0,1168.2" fill="#ffb4b4"/><polygon points="1027.7,1193.6 1039.7,1191.7 1032.7,1183.2 1020.7,1185.6" fill="#ffcbcb"/><polygon points="977.7,1190.0 989.8,1184.7 983.0,1171.3 970.9,1176.6" fill="#ffbfbf"/><polygon points="1185.0,1235.8 1196.6,1229.8 1188.4,1227.4 1176.8,1234.1" fill="#f3fff3"/><polygon points="877.6,1175.5 889.8,1165.2 883.6,1157.0 871.5,1167.1" fill="#ffa9a9"/><polygon points="865.6,1188.1 877.6,1175.5 871.5,1167.1 859.5,1179.5" fill="#ffb9b9"/><polygon points="908.5,1169.2 920.9,1164.8 914.4,1152.8 902.1,1158.3" fill="#ffa1a1"/><polygon points="1046.7,1197.8 1058.6,1199.8 1051.5,1192.5 1039.7,1191.7" fill="#ffd4d4"/><polygon points="841.5,1214.2 853.5,1201.3 847.6,1193.0 835.6,1206.0" fill="#ffdfdf"/><polygon points="853.5,1201.3 865.6,1188.1 859.5,1179.5 847.6,1193.0" fill="#ffcccc"/><polygon points="1065.8,1204.1 1077.6,1209.9 1070.3,1206.2 1058.6,1199.8" fill="#ffe1e1"/><polygon points="1085.0,1211.9 1096.5,1219.7 1089.1,1218.7 1077.6,1209.9" fill="#fff0f0"/><polygon points="996.6,1196.0 1008.7,1190.0 1001.8,1179.2 989.8,1184.7" fill="#ffc7c7"/><polygon points="829.3,1225.3 841.5,1214.2 835.6,1206.0 823.5,1216.9" fill="#fff0f0"/><polygon points="1104.1,1220.7 1115.5,1228.8 1107.9,1228.6 1096.5,1219.7" fill="#fffefe"/><polygon points="927.5,1177.9 939.8,1173.3 933.1,1159.8 920.9,1164.8" fill="#ffabab"/><polygon points="1123.2,1230.3 1134.6,1236.1 1126.8,1235.8 1115.5,1228.8" fill="#f5fff5"/><polygon points="946.5,1187.1 958.7,1182.3 952.0,1168.2 939.8,1173.3" fill="#ffb7b7"/><polygon points="1216.4,1228.3 1228.0,1221.4 1219.8,1214.6 1208.2,1222.5" fill="#fff8f8"/><polygon points="965.4,1195.3 977.7,1190.0 970.9,1176.6 958.7,1182.3" fill="#ffc2c2"/><polygon points="1173.5,1239.9 1185.0,1235.8 1176.8,1234.1 1165.3,1238.4" fill="#f0fff0"/><polygon points="1015.6,1197.7 1027.7,1193.6 1020.7,1185.6 1008.7,1190.0" fill="#ffcaca"/><polygon points="1142.5,1237.6 1153.9,1239.7 1145.8,1240.5 1134.6,1236.1" fill="#efffef"/><polygon points="896.0,1172.8 908.5,1169.2 902.1,1158.3 889.8,1165.2" fill="#ffa3a3"/><polygon points="984.4,1202.0 996.6,1196.0 989.8,1184.7 977.7,1190.0" fill="#ffcbcb"/><polygon points="915.0,1182.3 927.5,1177.9 920.9,1164.8 908.5,1169.2" fill="#ffacac"/><polygon points="1204.8,1234.4 1216.4,1228.3 1208.2,1222.5 1196.6,1229.8" fill="#fffefe"/><polygon points="934.1,1191.4 946.5,1187.1 939.8,1173.3 927.5,1177.9" fill="#ffb9b9"/><polygon points="883.9,1185.1 896.0,1172.8 889.8,1165.2 877.6,1175.5" fill="#ffadad"/><polygon points="1034.7,1199.2 1046.7,1197.8 1039.7,1191.7 1027.7,1193.6" fill="#ffcccc"/><polygon points="953.1,1199.9 965.4,1195.3 958.7,1182.3 946.5,1187.1" fill="#ffc5c5"/><polygon points="871.7,1197.7 883.9,1185.1 877.6,1175.5 865.6,1188.1" fill="#ffbdbd"/><polygon points="859.6,1210.5 871.7,1197.7 865.6,1188.1 853.5,1201.3" fill="#ffd0d0"/><polygon points="847.5,1223.2 859.6,1210.5 853.5,1201.3 841.5,1214.2" fill="#ffe3e3"/><polygon points="1003.4,1203.9 1015.6,1197.7 1008.7,1190.0 996.6,1196.0" fill="#ffcccc"/><polygon points="835.3,1235.3 847.5,1223.2 841.5,1214.2 829.3,1225.3" fill="#fff4f4"/><polygon points="972.2,1206.3 984.4,1202.0 977.7,1190.0 965.4,1195.3" fill="#ffcdcd"/><polygon points="1161.9,1241.7 1173.5,1239.9 1165.3,1238.4 1153.9,1239.7" fill="#f3fff3"/><polygon points="1053.9,1202.0 1065.8,1204.1 1058.6,1199.8 1046.7,1197.8" fill="#ffd1d1"/><polygon points="1193.2,1239.7 1204.8,1234.4 1196.6,1229.8 1185.0,1235.8" fill="#fbfffb"/><polygon points="902.6,1188.1 915.0,1182.3 908.5,1169.2 896.0,1172.8" fill="#ffaeae"/><polygon points="921.7,1196.0 934.1,1191.4 927.5,1177.9 915.0,1182.3" fill="#ffbaba"/><polygon points="1073.2,1206.7 1085.0,1211.9 1077.6,1209.9 1065.8,1204.1" fill="#ffd9d9"/><polygon points="1224.5,1235.9 1236.1,1230.1 1228.0,1221.4 1216.4,1228.3" fill="#fff8f8"/><polygon points="991.3,1212.3 1003.4,1203.9 996.6,1196.0 984.4,1202.0" fill="#ffd2d2"/><polygon points="940.8,1204.0 953.1,1199.9 946.5,1187.1 934.1,1191.4" fill="#ffc6c6"/><polygon points="1092.5,1213.2 1104.1,1220.7 1096.5,1219.7 1085.0,1211.9" fill="#ffe4e4"/><polygon points="1111.8,1223.5 1123.2,1230.3 1115.5,1228.8 1104.1,1220.7" fill="#fff2f2"/><polygon points="1022.5,1202.6 1034.7,1199.2 1027.7,1193.6 1015.6,1197.7" fill="#ffc9c9"/><polygon points="890.3,1197.3 902.6,1188.1 896.0,1172.8 883.9,1185.1" fill="#ffb6b6"/><polygon points="959.8,1210.3 972.2,1206.3 965.4,1195.3 953.1,1199.9" fill="#ffcfcf"/><polygon points="1131.0,1233.6 1142.5,1237.6 1134.6,1236.1 1123.2,1230.3" fill="#fffdfd"/><polygon points="878.0,1208.4 890.3,1197.3 883.9,1185.1 871.7,1197.7" fill="#ffc5c5"/><polygon points="1181.6,1243.7 1193.2,1239.7 1185.0,1235.8 1173.5,1239.9" fill="#fafffa"/><polygon points="865.8,1220.1 878.0,1208.4 871.7,1197.7 859.6,1210.5" fill="#ffd6d6"/><polygon points="909.2,1202.1 921.7,1196.0 915.0,1182.3 902.6,1188.1" fill="#ffbcbc"/><polygon points="1213.0,1240.8 1224.5,1235.9 1216.4,1228.3 1204.8,1234.4" fill="#fffcfc"/><polygon points="853.5,1231.5 865.8,1220.1 859.6,1210.5 847.5,1223.2" fill="#ffe7e7"/><polygon points="978.9,1214.1 991.3,1212.3 984.4,1202.0 972.2,1206.3" fill="#ffd4d4"/><polygon points="1150.4,1241.4 1161.9,1241.7 1153.9,1239.7 1142.5,1237.6" fill="#fbfffb"/><polygon points="841.1,1241.3 853.5,1231.5 847.5,1223.2 835.3,1235.3" fill="#fff6f6"/><polygon points="928.3,1208.9 940.8,1204.0 934.1,1191.4 921.7,1196.0" fill="#ffc7c7"/><polygon points="1041.8,1203.0 1053.9,1202.0 1046.7,1197.8 1034.7,1199.2" fill="#ffc7c7"/><polygon points="1010.3,1207.6 1022.5,1202.6 1015.6,1197.7 1003.4,1203.9" fill="#ffcaca"/><polygon points="947.4,1214.9 959.8,1210.3 953.1,1199.9 940.8,1204.0" fill="#ffcfcf"/><polygon points="896.8,1210.1 909.2,1202.1 902.6,1188.1 890.3,1197.3" fill="#ffc3c3"/><polygon points="1232.7,1244.4 1244.1,1241.1 1236.1,1230.1 1224.5,1235.9" fill="#fffcfc"/><polygon points="1201.4,1245.4 1213.0,1240.8 1204.8,1234.4 1193.2,1239.7" fill="#fffefe"/><polygon points="1170.0,1246.4 1181.6,1243.7 1173.5,1239.9 1161.9,1241.7" fill="#fcfffc"/><polygon points="1061.2,1205.1 1073.2,1206.7 1065.8,1204.1 1053.9,1202.0" fill="#ffc9c9"/><polygon points="884.4,1219.6 896.8,1210.1 890.3,1197.3 878.0,1208.4" fill="#ffcfcf"/><polygon points="915.8,1214.9 928.3,1208.9 921.7,1196.0 909.2,1202.1" fill="#ffcaca"/><polygon points="998.0,1213.2 1010.3,1207.6 1003.4,1203.9 991.3,1212.3" fill="#ffcfcf"/><polygon points="966.5,1218.1 978.9,1214.1 972.2,1206.3 959.8,1210.3" fill="#ffd3d3"/><polygon points="872.0,1229.7 884.4,1219.6 878.0,1208.4 865.8,1220.1" fill="#ffdcdc"/><polygon points="1080.7,1208.2 1092.5,1213.2 1085.0,1211.9 1073.2,1206.7" fill="#ffcece"/><polygon points="934.9,1220.2 947.4,1214.9 940.8,1204.0 928.3,1208.9" fill="#ffd1d1"/><polygon points="1029.6,1205.8 1041.8,1203.0 1034.7,1199.2 1022.5,1202.6" fill="#ffc3c3"/><polygon points="1119.4,1229.0 1131.0,1233.6 1123.2,1230.3 1111.8,1223.5" fill="#ffe9e9"/><polygon points="859.6,1239.7 872.0,1229.7 865.8,1220.1 853.5,1231.5" fill="#ffeaea"/><polygon points="1100.1,1216.4 1111.8,1223.5 1104.1,1220.7 1092.5,1213.2" fill="#ffdada"/><polygon points="1221.2,1248.2 1232.7,1244.4 1224.5,1235.9 1213.0,1240.8" fill="#fffcfc"/><polygon points="1138.8,1239.6 1150.4,1241.4 1142.5,1237.6 1131.0,1233.6" fill="#fff6f6"/><polygon points="903.3,1221.9 915.8,1214.9 909.2,1202.1 896.8,1210.1" fill="#ffcfcf"/><polygon points="1189.7,1249.6 1201.4,1245.4 1193.2,1239.7 1181.6,1243.7" fill="#ffffff"/><polygon points="847.1,1248.3 859.6,1239.7 853.5,1231.5 841.1,1241.3" fill="#fff7f7"/><polygon points="985.7,1218.0 998.0,1213.2 991.3,1212.3 978.9,1214.1" fill="#ffd1d1"/><polygon points="954.1,1223.1 966.5,1218.1 959.8,1210.3 947.4,1214.9" fill="#ffd4d4"/><polygon points="1158.3,1247.6 1170.0,1246.4 1161.9,1241.7 1150.4,1241.4" fill="#fffcfc"/><polygon points="922.4,1226.1 934.9,1220.2 928.3,1208.9 915.8,1214.9" fill="#ffd4d4"/><polygon points="890.8,1230.3 903.3,1221.9 896.8,1210.1 884.4,1219.6" fill="#ffd8d8"/><polygon points="1049.0,1206.1 1061.2,1205.1 1053.9,1202.0 1041.8,1203.0" fill="#ffc0c0"/><polygon points="1017.3,1209.9 1029.6,1205.8 1022.5,1202.6 1010.3,1207.6" fill="#ffc3c3"/><polygon points="1209.6,1252.5 1221.2,1248.2 1213.0,1240.8 1201.4,1245.4" fill="#fffdfd"/><polygon points="878.3,1239.3 890.8,1230.3 884.4,1219.6 872.0,1229.7" fill="#ffe3e3"/><polygon points="1178.0,1253.3 1189.7,1249.6 1181.6,1243.7 1170.0,1246.4" fill="#fffefe"/><polygon points="941.6,1229.0 954.1,1223.1 947.4,1214.9 934.9,1220.2" fill="#ffd6d6"/><polygon points="973.2,1223.1 985.7,1218.0 978.9,1214.1 966.5,1218.1" fill="#ffd1d1"/><polygon points="909.8,1232.4 922.4,1226.1 915.8,1214.9 903.3,1221.9" fill="#ffd9d9"/><polygon points="865.8,1248.2 878.3,1239.3 872.0,1229.7 859.6,1239.7" fill="#ffeeee"/><polygon points="1068.6,1207.9 1080.7,1208.2 1073.2,1206.7 1061.2,1205.1" fill="#ffc0c0"/><polygon points="1004.9,1214.9 1017.3,1209.9 1010.3,1207.6 998.0,1213.2" fill="#ffc5c5"/><polygon points="1127.1,1237.6 1138.8,1239.6 1131.0,1233.6 1119.4,1229.0" fill="#ffe6e6"/><polygon points="1146.6,1248.1 1158.3,1247.6 1150.4,1241.4 1138.8,1239.6" fill="#fff3f3"/><polygon points="1036.8,1208.8 1049.0,1206.1 1041.8,1203.0 1029.6,1205.8" fill="#ffbcbc"/><polygon points="1107.7,1224.7 1119.4,1229.0 1111.8,1223.5 1100.1,1216.4" fill="#ffd5d5"/><polygon points="1197.9,1257.1 1209.6,1252.5 1201.4,1245.4 1189.7,1249.6" fill="#fffdfd"/><polygon points="853.1,1256.0 865.8,1248.2 859.6,1239.7 847.1,1248.3" fill="#fff8f8"/><polygon points="897.3,1239.9 909.8,1232.4 903.3,1221.9 890.8,1230.3" fill="#ffdfdf"/><polygon points="929.0,1235.8 941.6,1229.0 934.9,1220.2 922.4,1226.1" fill="#ffdada"/><polygon points="1088.3,1209.2 1100.1,1216.4 1092.5,1213.2 1080.7,1208.2" fill="#ffc3c3"/><polygon points="960.7,1228.7 973.2,1223.1 966.5,1218.1 954.1,1223.1" fill="#ffd3d3"/><polygon points="1166.3,1255.9 1178.0,1253.3 1170.0,1246.4 1158.3,1247.6" fill="#fffafa"/><polygon points="992.5,1220.8 1004.9,1214.9 998.0,1213.2 985.7,1218.0" fill="#ffc7c7"/><polygon points="884.7,1248.2 897.3,1239.9 890.8,1230.3 878.3,1239.3" fill="#ffe8e8"/><polygon points="916.3,1241.1 929.0,1235.8 922.4,1226.1 909.8,1232.4" fill="#ffdede"/><polygon points="1056.4,1210.0 1068.6,1207.9 1061.2,1205.1 1049.0,1206.1" fill="#ffb8b8"/><polygon points="1186.0,1262.1 1197.9,1257.1 1189.7,1249.6 1178.0,1253.3" fill="#fffdfd"/><polygon points="1024.4,1212.6 1036.8,1208.8 1029.6,1205.8 1017.3,1209.9" fill="#ffbaba"/><polygon points="948.1,1234.8 960.7,1228.7 954.1,1223.1 941.6,1229.0" fill="#ffd6d6"/><polygon points="872.0,1256.7 884.7,1248.2 878.3,1239.3 865.8,1248.2" fill="#fff1f1"/><polygon points="980.0,1226.7 992.5,1220.8 985.7,1218.0 973.2,1223.1" fill="#ffcaca"/><polygon points="1134.8,1248.6 1146.6,1248.1 1138.8,1239.6 1127.1,1237.6" fill="#ffe9e9"/><polygon points="903.7,1248.0 916.3,1241.1 909.8,1232.4 897.3,1239.9" fill="#ffe3e3"/><polygon points="1115.3,1236.3 1127.1,1237.6 1119.4,1229.0 1107.7,1224.7" fill="#ffd7d7"/><polygon points="1154.4,1258.3 1166.3,1255.9 1158.3,1247.6 1146.6,1248.1" fill="#fff5f5"/><polygon points="859.2,1264.0 872.0,1256.7 865.8,1248.2 853.1,1256.0" fill="#fff9f9"/><polygon points="1076.1,1213.1 1088.3,1209.2 1080.7,1208.2 1068.6,1207.9" fill="#ffb6b6"/><polygon points="935.5,1241.2 948.1,1234.8 941.6,1229.0 929.0,1235.8" fill="#ffdbdb"/><polygon points="1095.7,1222.3 1107.7,1224.7 1100.1,1216.4 1088.3,1209.2" fill="#ffc2c2"/><polygon points="1012.0,1217.5 1024.4,1212.6 1017.3,1209.9 1004.9,1214.9" fill="#ffbbbb"/><polygon points="1174.2,1265.1 1186.0,1262.1 1178.0,1253.3 1166.3,1255.9" fill="#fffcfc"/><polygon points="1044.0,1213.0 1056.4,1210.0 1049.0,1206.1 1036.8,1208.8" fill="#ffb4b4"/><polygon points="891.0,1256.0 903.7,1248.0 897.3,1239.9 884.7,1248.2" fill="#ffeaea"/><polygon points="967.4,1232.7 980.0,1226.7 973.2,1223.1 960.7,1228.7" fill="#ffcdcd"/><polygon points="922.8,1247.6 935.5,1241.2 929.0,1235.8 916.3,1241.1" fill="#ffdfdf"/><polygon points="878.3,1264.4 891.0,1256.0 884.7,1248.2 872.0,1256.7" fill="#fff3f3"/><polygon points="999.5,1224.1 1012.0,1217.5 1004.9,1214.9 992.5,1220.8" fill="#ffbebe"/><polygon points="1142.5,1260.7 1154.4,1258.3 1146.6,1248.1 1134.8,1248.6" fill="#ffefef"/><polygon points="1063.8,1216.5 1076.1,1213.1 1068.6,1207.9 1056.4,1210.0" fill="#ffb3b3"/><polygon points="1122.8,1249.6 1134.8,1248.6 1127.1,1237.6 1115.3,1236.3" fill="#ffdfdf"/><polygon points="954.8,1238.9 967.4,1232.7 960.7,1228.7 948.1,1234.8" fill="#ffd1d1"/><polygon points="1162.3,1268.4 1174.2,1265.1 1166.3,1255.9 1154.4,1258.3" fill="#fff9f9"/><polygon points="1031.6,1216.6 1044.0,1213.0 1036.8,1208.8 1024.4,1212.6" fill="#ffb2b2"/><polygon points="1103.2,1236.2 1115.3,1236.3 1107.7,1224.7 1095.7,1222.3" fill="#ffcbcb"/><polygon points="910.1,1254.9 922.8,1247.6 916.3,1241.1 903.7,1248.0" fill="#ffe3e3"/><polygon points="865.5,1272.4 878.3,1264.4 872.0,1256.7 859.2,1264.0" fill="#fffbfb"/><polygon points="1083.5,1223.7 1095.7,1222.3 1088.3,1209.2 1076.1,1213.1" fill="#ffb7b7"/><polygon points="986.9,1230.5 999.5,1224.1 992.5,1220.8 980.0,1226.7" fill="#ffc2c2"/><polygon points="942.1,1245.6 954.8,1238.9 948.1,1234.8 935.5,1241.2" fill="#ffd5d5"/><polygon points="897.3,1263.0 910.1,1254.9 903.7,1248.0 891.0,1256.0" fill="#ffeaea"/><polygon points="1051.4,1220.0 1063.8,1216.5 1056.4,1210.0 1044.0,1213.0" fill="#ffb0b0"/><polygon points="1019.1,1221.5 1031.6,1216.6 1024.4,1212.6 1012.0,1217.5" fill="#ffb3b3"/><polygon points="1130.4,1263.7 1142.5,1260.7 1134.8,1248.6 1122.8,1249.6" fill="#ffeaea"/><polygon points="1150.3,1272.4 1162.3,1268.4 1154.4,1258.3 1142.5,1260.7" fill="#fff6f6"/><polygon points="1110.7,1251.2 1122.8,1249.6 1115.3,1236.3 1103.2,1236.2" fill="#ffd7d7"/><polygon points="974.2,1236.5 986.9,1230.5 980.0,1226.7 967.4,1232.7" fill="#ffc6c6"/><polygon points="884.5,1271.1 897.3,1263.0 891.0,1256.0 878.3,1264.4" fill="#fff2f2"/><polygon points="929.3,1252.7 942.1,1245.6 935.5,1241.2 922.8,1247.6" fill="#ffdada"/><polygon points="1071.2,1226.9 1083.5,1223.7 1076.1,1213.1 1063.8,1216.5" fill="#ffb4b4"/><polygon points="1091.0,1237.7 1103.2,1236.2 1095.7,1222.3 1083.5,1223.7" fill="#ffc2c2"/><polygon points="1006.5,1228.6 1019.1,1221.5 1012.0,1217.5 999.5,1224.1" fill="#ffb6b6"/><polygon points="1038.9,1223.4 1051.4,1220.0 1044.0,1213.0 1031.6,1216.6" fill="#ffafaf"/><polygon points="871.6,1278.3 884.5,1271.1 878.3,1264.4 865.5,1272.4" fill="#fffafa"/><polygon points="961.5,1242.8 974.2,1236.5 967.4,1232.7 954.8,1238.9" fill="#ffcaca"/><polygon points="916.6,1260.8 929.3,1252.7 922.8,1247.6 910.1,1254.9" fill="#ffe0e0"/><polygon points="1138.1,1277.3 1150.3,1272.4 1142.5,1260.7 1130.4,1263.7" fill="#fff5f5"/><polygon points="1118.3,1267.2 1130.4,1263.7 1122.8,1249.6 1110.7,1251.2" fill="#ffe6e6"/><polygon points="1098.5,1253.5 1110.7,1251.2 1103.2,1236.2 1091.0,1237.7" fill="#ffd1d1"/><polygon points="1058.8,1230.6 1071.2,1226.9 1063.8,1216.5 1051.4,1220.0" fill="#ffb3b3"/><polygon points="993.9,1235.5 1006.5,1228.6 999.5,1224.1 986.9,1230.5" fill="#ffbbbb"/><polygon points="903.8,1269.5 916.6,1260.8 910.1,1254.9 897.3,1263.0" fill="#ffe8e8"/><polygon points="1078.7,1240.7 1091.0,1237.7 1083.5,1223.7 1071.2,1226.9" fill="#ffbebe"/><polygon points="948.7,1249.7 961.5,1242.8 954.8,1238.9 942.1,1245.6" fill="#ffcfcf"/><polygon points="1026.3,1227.0 1038.9,1223.4 1031.6,1216.6 1019.1,1221.5" fill="#ffaeae"/><polygon points="1125.9,1283.9 1138.1,1277.3 1130.4,1263.7 1118.3,1267.2" fill="#fff5f5"/><polygon points="890.9,1278.0 903.8,1269.5 897.3,1263.0 884.5,1271.1" fill="#fff0f0"/><polygon points="981.2,1241.6 993.9,1235.5 986.9,1230.5 974.2,1236.5" fill="#ffc0c0"/><polygon points="1106.0,1270.0 1118.3,1267.2 1110.7,1251.2 1098.5,1253.5" fill="#ffe2e2"/><polygon points="935.9,1257.7 948.7,1249.7 942.1,1245.6 929.3,1252.7" fill="#ffd4d4"/><polygon points="1046.3,1234.8 1058.8,1230.6 1051.4,1220.0 1038.9,1223.4" fill="#ffb2b2"/><polygon points="1086.2,1256.8 1098.5,1253.5 1091.0,1237.7 1078.7,1240.7" fill="#ffcdcd"/><polygon points="1066.2,1244.9 1078.7,1240.7 1071.2,1226.9 1058.8,1230.6" fill="#ffbdbd"/><polygon points="1013.7,1235.5 1026.3,1227.0 1019.1,1221.5 1006.5,1228.6" fill="#ffb2b2"/><polygon points="877.9,1285.2 890.9,1278.0 884.5,1271.1 871.6,1278.3" fill="#fff7f7"/><polygon points="923.1,1266.7 935.9,1257.7 929.3,1252.7 916.6,1260.8" fill="#ffdcdc"/><polygon points="968.3,1247.3 981.2,1241.6 974.2,1236.5 961.5,1242.8" fill="#ffc3c3"/><polygon points="1113.7,1285.5 1125.9,1283.9 1118.3,1267.2 1106.0,1270.0" fill="#fff3f3"/><polygon points="1001.0,1243.0 1013.7,1235.5 1006.5,1228.6 993.9,1235.5" fill="#ffb8b8"/><polygon points="1093.7,1273.6 1106.0,1270.0 1098.5,1253.5 1086.2,1256.8" fill="#ffdfdf"/><polygon points="1033.7,1240.0 1046.3,1234.8 1038.9,1223.4 1026.3,1227.0" fill="#ffb2b2"/><polygon points="910.3,1276.1 923.1,1266.7 916.6,1260.8 903.8,1269.5" fill="#ffe5e5"/><polygon points="1073.7,1261.5 1086.2,1256.8 1078.7,1240.7 1066.2,1244.9" fill="#ffcccc"/><polygon points="1053.7,1249.9 1066.2,1244.9 1058.8,1230.6 1046.3,1234.8" fill="#ffbdbd"/><polygon points="955.5,1253.8 968.3,1247.3 961.5,1242.8 948.7,1249.7" fill="#ffc8c8"/><polygon points="897.4,1285.3 910.3,1276.1 903.8,1269.5 890.9,1278.0" fill="#ffefef"/><polygon points="988.2,1249.2 1001.0,1243.0 993.9,1235.5 981.2,1241.6" fill="#ffbdbd"/><polygon points="1021.0,1246.7 1033.7,1240.0 1026.3,1227.0 1013.7,1235.5" fill="#ffb5b5"/><polygon points="1101.3,1288.8 1113.7,1285.5 1106.0,1270.0 1093.7,1273.6" fill="#fff0f0"/><polygon points="942.6,1262.9 955.5,1253.8 948.7,1249.7 935.9,1257.7" fill="#ffcece"/><polygon points="1081.2,1278.2 1093.7,1273.6 1086.2,1256.8 1073.7,1261.5" fill="#ffdfdf"/><polygon points="1061.1,1266.6 1073.7,1261.5 1066.2,1244.9 1053.7,1249.9" fill="#ffcdcd"/><polygon points="1041.1,1255.2 1053.7,1249.9 1046.3,1234.8 1033.7,1240.0" fill="#ffbebe"/><polygon points="884.3,1293.0 897.4,1285.3 890.9,1278.0 877.9,1285.2" fill="#fff6f6"/><polygon points="975.3,1254.2 988.2,1249.2 981.2,1241.6 968.3,1247.3" fill="#ffc0c0"/><polygon points="1008.2,1253.6 1021.0,1246.7 1013.7,1235.5 1001.0,1243.0" fill="#ffbbbb"/><polygon points="929.8,1273.1 942.6,1262.9 935.9,1257.7 923.1,1266.7" fill="#ffd8d8"/><polygon points="1088.8,1293.4 1101.3,1288.8 1093.7,1273.6 1081.2,1278.2" fill="#ffefef"/><polygon points="916.9,1283.5 929.8,1273.1 923.1,1266.7 910.3,1276.1" fill="#ffe3e3"/><polygon points="1068.6,1283.7 1081.2,1278.2 1073.7,1261.5 1061.1,1266.6" fill="#ffe0e0"/><polygon points="1028.4,1261.1 1041.1,1255.2 1033.7,1240.0 1021.0,1246.7" fill="#ffc1c1"/><polygon points="1048.5,1271.8 1061.1,1266.6 1053.7,1249.9 1041.1,1255.2" fill="#ffcfcf"/><polygon points="995.4,1259.8 1008.2,1253.6 1001.0,1243.0 988.2,1249.2" fill="#ffc0c0"/><polygon points="903.9,1293.4 916.9,1283.5 910.3,1276.1 897.4,1285.3" fill="#ffeded"/><polygon points="962.3,1258.0 975.3,1254.2 968.3,1247.3 955.5,1253.8" fill="#ffc2c2"/><polygon points="1015.6,1267.1 1028.4,1261.1 1021.0,1246.7 1008.2,1253.6" fill="#ffc5c5"/><polygon points="1076.2,1299.2 1088.8,1293.4 1081.2,1278.2 1068.6,1283.7" fill="#fff1f1"/><polygon points="1056.0,1289.1 1068.6,1283.7 1061.1,1266.6 1048.5,1271.8" fill="#ffe1e1"/><polygon points="890.9,1301.9 903.9,1293.4 897.4,1285.3 884.3,1293.0" fill="#fff6f6"/><polygon points="1035.8,1277.1 1048.5,1271.8 1041.1,1255.2 1028.4,1261.1" fill="#ffd1d1"/><polygon points="949.5,1269.9 962.3,1258.0 955.5,1253.8 942.6,1262.9" fill="#ffc9c9"/><polygon points="982.5,1265.3 995.4,1259.8 988.2,1249.2 975.3,1254.2" fill="#ffc3c3"/><polygon points="936.6,1280.9 949.5,1269.9 942.6,1262.9 929.8,1273.1" fill="#ffd5d5"/><polygon points="1002.7,1273.1 1015.6,1267.1 1008.2,1253.6 995.4,1259.8" fill="#ffc9c9"/><polygon points="1063.5,1306.4 1076.2,1299.2 1068.6,1283.7 1056.0,1289.1" fill="#fff4f4"/><polygon points="923.6,1291.6 936.6,1280.9 929.8,1273.1 916.9,1283.5" fill="#ffe2e2"/><polygon points="1043.3,1293.4 1056.0,1289.1 1048.5,1271.8 1035.8,1277.1" fill="#ffe3e3"/><polygon points="1023.0,1282.3 1035.8,1277.1 1028.4,1261.1 1015.6,1267.1" fill="#ffd3d3"/><polygon points="969.5,1271.7 982.5,1265.3 975.3,1254.2 962.3,1258.0" fill="#ffc4c4"/><polygon points="910.6,1302.0 923.6,1291.6 916.9,1283.5 903.9,1293.4" fill="#ffeeee"/><polygon points="989.8,1279.0 1002.7,1273.1 995.4,1259.8 982.5,1265.3" fill="#ffcccc"/><polygon points="897.6,1312.0 910.6,1302.0 903.9,1293.4 890.9,1301.9" fill="#fff8f8"/><polygon points="1050.8,1308.4 1063.5,1306.4 1056.0,1289.1 1043.3,1293.4" fill="#fff4f4"/><polygon points="956.5,1280.7 969.5,1271.7 962.3,1258.0 949.5,1269.9" fill="#ffcbcb"/><polygon points="1010.1,1287.8 1023.0,1282.3 1015.6,1267.1 1002.7,1273.1" fill="#ffd6d6"/><polygon points="1030.4,1297.7 1043.3,1293.4 1035.8,1277.1 1023.0,1282.3" fill="#ffe3e3"/><polygon points="943.5,1290.7 956.5,1280.7 949.5,1269.9 936.6,1280.9" fill="#ffd7d7"/><polygon points="976.7,1285.7 989.8,1279.0 982.5,1265.3 969.5,1271.7" fill="#ffcfcf"/><polygon points="930.5,1300.6 943.5,1290.7 936.6,1280.9 923.6,1291.6" fill="#ffe3e3"/><polygon points="997.1,1293.8 1010.1,1287.8 1002.7,1273.1 989.8,1279.0" fill="#ffd8d8"/><polygon points="1017.5,1302.8 1030.4,1297.7 1023.0,1282.3 1010.1,1287.8" fill="#ffe4e4"/><polygon points="1037.9,1311.9 1050.8,1308.4 1043.3,1293.4 1030.4,1297.7" fill="#fff2f2"/><polygon points="917.4,1310.2 930.5,1300.6 923.6,1291.6 910.6,1302.0" fill="#ffefef"/><polygon points="963.7,1293.4 976.7,1285.7 969.5,1271.7 956.5,1280.7" fill="#ffd5d5"/><polygon points="904.1,1318.3 917.4,1310.2 910.6,1302.0 897.6,1312.0" fill="#fff9f9"/><polygon points="984.1,1300.2 997.1,1293.8 989.8,1279.0 976.7,1285.7" fill="#ffdcdc"/><polygon points="950.6,1301.9 963.7,1293.4 956.5,1280.7 943.5,1290.7" fill="#ffdede"/><polygon points="1004.5,1308.8 1017.5,1302.8 1010.1,1287.8 997.1,1293.8" fill="#ffe6e6"/><polygon points="1025.0,1316.6 1037.9,1311.9 1030.4,1297.7 1017.5,1302.8" fill="#fff1f1"/><polygon points="937.4,1310.7 950.6,1301.9 943.5,1290.7 930.5,1300.6" fill="#ffe7e7"/><polygon points="970.9,1306.9 984.1,1300.2 976.7,1285.7 963.7,1293.4" fill="#ffe0e0"/><polygon points="991.4,1315.0 1004.5,1308.8 997.1,1293.8 984.1,1300.2" fill="#ffe9e9"/><polygon points="924.2,1319.1 937.4,1310.7 930.5,1300.6 917.4,1310.2" fill="#fff0f0"/><polygon points="1012.0,1322.6 1025.0,1316.6 1017.5,1302.8 1004.5,1308.8" fill="#fff3f3"/><polygon points="957.7,1314.0 970.9,1306.9 963.7,1293.4 950.6,1301.9" fill="#ffe6e6"/><polygon points="910.9,1326.1 924.2,1319.1 917.4,1310.2 904.1,1318.3" fill="#fff8f8"/><polygon points="978.2,1320.5 991.4,1315.0 984.1,1300.2 970.9,1306.9" fill="#ffecec"/><polygon points="944.5,1321.6 957.7,1314.0 950.6,1301.9 937.4,1310.7" fill="#ffeded"/><polygon points="998.8,1329.8 1012.0,1322.6 1004.5,1308.8 991.4,1315.0" fill="#fff6f6"/><polygon points="965.0,1326.3 978.2,1320.5 970.9,1306.9 957.7,1314.0" fill="#fff0f0"/><polygon points="931.2,1328.8 944.5,1321.6 937.4,1310.7 924.2,1319.1" fill="#fff4f4"/><polygon points="985.6,1333.0 998.8,1329.8 991.4,1315.0 978.2,1320.5" fill="#fff8f8"/><polygon points="917.7,1334.9 931.2,1328.8 924.2,1319.1 910.9,1326.1" fill="#fff9f9"/><polygon points="951.7,1332.6 965.0,1326.3 957.7,1314.0 944.5,1321.6" fill="#fff4f4"/><polygon points="972.3,1337.5 985.6,1333.0 978.2,1320.5 965.0,1326.3" fill="#fff8f8"/><polygon points="938.2,1338.9 951.7,1332.6 944.5,1321.6 931.2,1328.8" fill="#fff8f8"/><polygon points="958.9,1342.8 972.3,1337.5 965.0,1326.3 951.7,1332.6" fill="#fff9f9"/><polygon points="924.7,1344.3 938.2,1338.9 931.2,1328.8 917.7,1334.9" fill="#fffbfb"/><polygon points="945.4,1348.4 958.9,1342.8 951.7,1332.6 938.2,1338.9" fill="#fffbfb"/><polygon points="931.8,1354.1 945.4,1348.4 938.2,1338.9 924.7,1344.3" fill="#fffdfd"/></g>
<line x1="796.8" y1="1076.6" x2="926.7" y2="1221.0" stroke="#111" stroke-width="1.3" opacity="0.35"/>
<line x1="926.7" y1="1221.0" x2="1254.2" y2="1114.6" stroke="#111" stroke-width="1.3" opacity="0.35"/>
<line x1="926.7" y1="1221.0" x2="936.4" y2="1474.7" stroke="#111" stroke-width="1.3" opacity="0.35"/>
<line x1="796.8" y1="1076.6" x2="782.3" y2="1075.6" stroke="#222" stroke-width="1.3"/>
<text x="777.3" y="1083.1" font-size="19" text-anchor="end" fill="#1a1a1a">40</text>
<line x1="799.5" y1="1108.6" x2="785.0" y2="1107.6" stroke="#222" stroke-width="1.3"/>
<text x="780.0" y="1115.1" font-size="19" text-anchor="end" fill="#1a1a1a">30</text>
<line x1="802.0" y1="1139.9" x2="787.5" y2="1138.9" stroke="#222" stroke-width="1.3"/>
<text x="782.5" y="1146.4" font-size="19" text-anchor="end" fill="#1a1a1a">20</text>
<line x1="804.5" y1="1170.5" x2="790.0" y2="1169.5" stroke="#222" stroke-width="1.3"/>
<text x="785.0" y="1177.0" font-size="19" text-anchor="end" fill="#1a1a1a">10</text>
<line x1="807.0" y1="1200.4" x2="792.5" y2="1199.4" stroke="#222" stroke-width="1.3"/>
<text x="787.5" y="1206.9" font-size="19" text-anchor="end" fill="#1a1a1a">0</text>
<line x1="809.4" y1="1229.6" x2="794.9" y2="1228.6" stroke="#222" stroke-width="1.3"/>
<text x="795.9" y="1236.1" font-size="19" text-anchor="end" fill="#1a1a1a">-10</text>
<line x1="811.7" y1="1258.3" x2="797.2" y2="1257.3" stroke="#222" stroke-width="1.3"/>
<text x="798.2" y="1264.8" font-size="19" text-anchor="end" fill="#1a1a1a">-20</text>
<line x1="814.0" y1="1286.3" x2="799.5" y2="1285.3" stroke="#222" stroke-width="1.3"/>
<text x="800.5" y="1292.8" font-size="19" text-anchor="end" fill="#1a1a1a">-30</text>
<line x1="816.3" y1="1313.8" x2="801.8" y2="1312.8" stroke="#222" stroke-width="1.3"/>
<text x="802.8" y="1320.3" font-size="19" text-anchor="end" fill="#1a1a1a">-40</text>
<line x1="819.4" y1="1317.9" x2="811.9" y2="1326.0" stroke="#222" stroke-width="1.3"/>
<text x="802.3" y="1349.0" font-size="17.5" text-anchor="middle" fill="#1a1a1a">62.5</text>
<line x1="851.5" y1="1361.0" x2="844.0" y2="1369.0" stroke="#222" stroke-width="1.3"/>
<text x="830.6" y="1388.5" font-size="17.5" text-anchor="middle" fill="#1a1a1a">31.2</text>
<line x1="880.8" y1="1400.2" x2="873.3" y2="1408.3" stroke="#222" stroke-width="1.3"/>
<text x="860.6" y="1429.1" font-size="17.5" text-anchor="middle" fill="#1a1a1a">15.6</text>
<line x1="911.6" y1="1441.5" x2="904.1" y2="1449.6" stroke="#222" stroke-width="1.3"/>
<text x="890.6" y="1469.7" font-size="17.5" text-anchor="middle" fill="#1a1a1a">7.8</text>
<line x1="991.8" y1="1452.8" x2="994.6" y2="1463.4" stroke="#222" stroke-width="1.3"/>
<text x="999.2" y="1490.2" font-size="17.5" text-anchor="middle" fill="#1a1a1a">1.25</text>
<line x1="1049.1" y1="1430.1" x2="1051.9" y2="1440.7" stroke="#222" stroke-width="1.3"/>
<text x="1059.2" y="1464.4" font-size="17.5" text-anchor="middle" fill="#1a1a1a">2.5</text>
<line x1="1109.4" y1="1406.3" x2="1112.3" y2="1416.9" stroke="#222" stroke-width="1.3"/>
<text x="1118.2" y="1440.4" font-size="17.5" text-anchor="middle" fill="#1a1a1a">5</text>
<line x1="1167.6" y1="1383.2" x2="1170.5" y2="1393.9" stroke="#222" stroke-width="1.3"/>
<text x="1176.4" y="1415.0" font-size="17.5" text-anchor="middle" fill="#1a1a1a">10</text>
<line x1="1224.3" y1="1360.8" x2="1227.1" y2="1371.4" stroke="#222" stroke-width="1.3"/>
<text x="1232.1" y="1392.1" font-size="17.5" text-anchor="middle" fill="#1a1a1a">20</text>
<text x="0" y="0" font-size="23" text-anchor="middle" fill="#1a1a1a" textLength="178" lengthAdjust="spacingAndGlyphs" transform="translate(833.3,1436.3) rotate(53.5) translate(0,6)">Isoquercetin (uM)</text>
<text x="0" y="0" font-size="23" text-anchor="middle" fill="#1a1a1a" textLength="165" lengthAdjust="spacingAndGlyphs" transform="translate(1112.7,1472.0) rotate(-21.9) translate(0,6)">Remdesivir (uM)</text>
</svg></body></html>
